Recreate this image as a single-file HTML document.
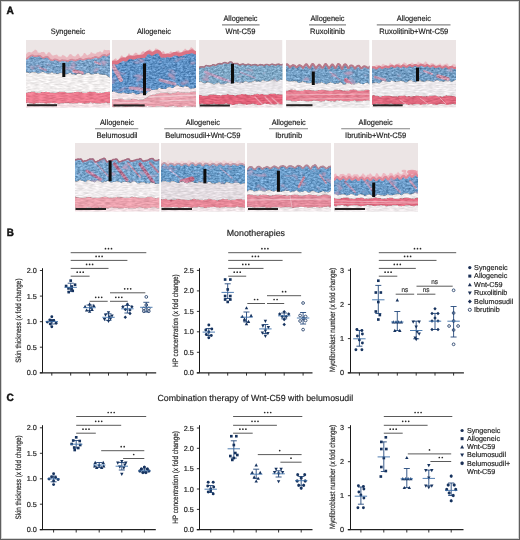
<!DOCTYPE html>
<html><head><meta charset="utf-8"><style>
html,body{margin:0;padding:0;background:#fff;width:520px;height:540px;overflow:hidden}
svg{display:block;will-change:transform}
text{font-family:"Liberation Sans", sans-serif;text-rendering:geometricPrecision;stroke:#2a2a2a;stroke-width:0.18px}
</style></head><body>
<svg width="520" height="540" viewBox="0 0 520 540">
<rect x="0" y="0" width="520" height="540" fill="#fff"/>
<defs><filter id="tx0" x="0" y="0" width="1" height="1" color-interpolation-filters="sRGB">
 <feTurbulence type="fractalNoise" baseFrequency="0.36 0.6" numOctaves="3" seed="1" result="t"/>
 <feColorMatrix in="t" type="matrix" values="1 0 0 0 0  1 0 0 0 0  1 0 0 0 0  0 0 0 0 1" result="g"/>
 <feComposite in="SourceGraphic" in2="g" operator="arithmetic" k1="0" k2="1" k3="0.5" k4="-0.25" result="m"/>
 <feTurbulence type="fractalNoise" baseFrequency="0.09 0.14" numOctaves="2" seed="4" result="t2"/>
 <feColorMatrix in="t2" type="matrix" values="0 0 0 0 0.80  0 0 0 0 0.60  0 0 0 0 0.72  3.2 0 0 0 -1.95" result="p"/>
 <feComposite in="p" in2="m" operator="over" result="m2"/>
 <feComposite in="m2" in2="SourceAlpha" operator="in"/>
</filter>
<filter id="tw0" x="0" y="0" width="1" height="1" color-interpolation-filters="sRGB">
 <feTurbulence type="fractalNoise" baseFrequency="0.18 0.7" numOctaves="2" seed="3" result="t"/>
 <feColorMatrix in="t" type="matrix" values="1 0 0 0 0  1 0 0 0 0  1 0 0 0 0  0 0 0 0 1" result="g"/>
 <feComposite in="SourceGraphic" in2="g" operator="arithmetic" k1="0" k2="1" k3="0.24" k4="-0.12" result="m"/>
 <feComposite in="m" in2="SourceAlpha" operator="in"/>
</filter></defs>
<defs><filter id="tx1" x="0" y="0" width="1" height="1" color-interpolation-filters="sRGB">
 <feTurbulence type="fractalNoise" baseFrequency="0.36 0.6" numOctaves="3" seed="6" result="t"/>
 <feColorMatrix in="t" type="matrix" values="1 0 0 0 0  1 0 0 0 0  1 0 0 0 0  0 0 0 0 1" result="g"/>
 <feComposite in="SourceGraphic" in2="g" operator="arithmetic" k1="0" k2="1" k3="0.5" k4="-0.25" result="m"/>
 <feTurbulence type="fractalNoise" baseFrequency="0.09 0.14" numOctaves="2" seed="11" result="t2"/>
 <feColorMatrix in="t2" type="matrix" values="0 0 0 0 0.80  0 0 0 0 0.60  0 0 0 0 0.72  3.2 0 0 0 -1.95" result="p"/>
 <feComposite in="p" in2="m" operator="over" result="m2"/>
 <feComposite in="m2" in2="SourceAlpha" operator="in"/>
</filter>
<filter id="tw1" x="0" y="0" width="1" height="1" color-interpolation-filters="sRGB">
 <feTurbulence type="fractalNoise" baseFrequency="0.18 0.7" numOctaves="2" seed="8" result="t"/>
 <feColorMatrix in="t" type="matrix" values="1 0 0 0 0  1 0 0 0 0  1 0 0 0 0  0 0 0 0 1" result="g"/>
 <feComposite in="SourceGraphic" in2="g" operator="arithmetic" k1="0" k2="1" k3="0.24" k4="-0.12" result="m"/>
 <feComposite in="m" in2="SourceAlpha" operator="in"/>
</filter></defs>
<defs><filter id="tx2" x="0" y="0" width="1" height="1" color-interpolation-filters="sRGB">
 <feTurbulence type="fractalNoise" baseFrequency="0.36 0.6" numOctaves="3" seed="11" result="t"/>
 <feColorMatrix in="t" type="matrix" values="1 0 0 0 0  1 0 0 0 0  1 0 0 0 0  0 0 0 0 1" result="g"/>
 <feComposite in="SourceGraphic" in2="g" operator="arithmetic" k1="0" k2="1" k3="0.5" k4="-0.25" result="m"/>
 <feTurbulence type="fractalNoise" baseFrequency="0.09 0.14" numOctaves="2" seed="18" result="t2"/>
 <feColorMatrix in="t2" type="matrix" values="0 0 0 0 0.80  0 0 0 0 0.60  0 0 0 0 0.72  3.2 0 0 0 -1.95" result="p"/>
 <feComposite in="p" in2="m" operator="over" result="m2"/>
 <feComposite in="m2" in2="SourceAlpha" operator="in"/>
</filter>
<filter id="tw2" x="0" y="0" width="1" height="1" color-interpolation-filters="sRGB">
 <feTurbulence type="fractalNoise" baseFrequency="0.18 0.7" numOctaves="2" seed="13" result="t"/>
 <feColorMatrix in="t" type="matrix" values="1 0 0 0 0  1 0 0 0 0  1 0 0 0 0  0 0 0 0 1" result="g"/>
 <feComposite in="SourceGraphic" in2="g" operator="arithmetic" k1="0" k2="1" k3="0.24" k4="-0.12" result="m"/>
 <feComposite in="m" in2="SourceAlpha" operator="in"/>
</filter></defs>
<text x="6.6" y="13.7" font-size="10.6" text-anchor="start" font-weight="bold" fill="#111" textLength="7.3" lengthAdjust="spacingAndGlyphs" style="stroke:#111;stroke-width:0.45px">A</text>
<text x="6.7" y="235.9" font-size="10.6" text-anchor="start" font-weight="bold" fill="#111" textLength="7.1" lengthAdjust="spacingAndGlyphs" style="stroke:#111;stroke-width:0.45px">B</text>
<text x="6.6" y="400.5" font-size="10.6" text-anchor="start" font-weight="bold" fill="#111" textLength="7.3" lengthAdjust="spacingAndGlyphs" style="stroke:#111;stroke-width:0.45px">C</text>
<text x="68" y="34.4" font-size="7.9" text-anchor="middle" font-weight="normal" fill="#222" textLength="34.56" lengthAdjust="spacingAndGlyphs" >Syngeneic</text>
<text x="154" y="34.4" font-size="7.9" text-anchor="middle" font-weight="normal" fill="#222" textLength="34.15" lengthAdjust="spacingAndGlyphs" >Allogeneic</text>
<text x="240.5" y="20.6" font-size="7.9" text-anchor="middle" font-weight="normal" fill="#222" textLength="34.15" lengthAdjust="spacingAndGlyphs" >Allogeneic</text><line x1="222" y1="24.9" x2="259.6" y2="24.9" stroke="#858585" stroke-width="1.15"/><text x="240.5" y="34.4" font-size="7.9" text-anchor="middle" font-weight="normal" fill="#222" textLength="29.79" lengthAdjust="spacingAndGlyphs" >Wnt-C59</text>
<text x="327.5" y="20.6" font-size="7.9" text-anchor="middle" font-weight="normal" fill="#222" textLength="34.15" lengthAdjust="spacingAndGlyphs" >Allogeneic</text><line x1="309" y1="24.9" x2="346" y2="24.9" stroke="#858585" stroke-width="1.15"/><text x="327.5" y="34.4" font-size="7.9" text-anchor="middle" font-weight="normal" fill="#222" textLength="34.83" lengthAdjust="spacingAndGlyphs" >Ruxolitinib</text>
<text x="413.8" y="20.6" font-size="7.9" text-anchor="middle" font-weight="normal" fill="#222" textLength="34.15" lengthAdjust="spacingAndGlyphs" >Allogeneic</text><line x1="376.8" y1="24.9" x2="450.5" y2="24.9" stroke="#858585" stroke-width="1.15"/><text x="413.8" y="34.4" font-size="7.9" text-anchor="middle" font-weight="normal" fill="#222" textLength="69.03" lengthAdjust="spacingAndGlyphs" >Ruxolitinib+Wnt-C59</text>
<text x="117" y="124.5" font-size="7.9" text-anchor="middle" font-weight="normal" fill="#222" textLength="34.15" lengthAdjust="spacingAndGlyphs" >Allogeneic</text><line x1="95" y1="128.7" x2="138.3" y2="128.7" stroke="#858585" stroke-width="1.15"/><text x="117" y="138.4" font-size="7.9" text-anchor="middle" font-weight="normal" fill="#222" textLength="41.13" lengthAdjust="spacingAndGlyphs" >Belumosudil</text>
<text x="202.8" y="124.5" font-size="7.9" text-anchor="middle" font-weight="normal" fill="#222" textLength="34.15" lengthAdjust="spacingAndGlyphs" >Allogeneic</text><line x1="164.2" y1="128.7" x2="241.5" y2="128.7" stroke="#858585" stroke-width="1.15"/><text x="202.8" y="138.4" font-size="7.9" text-anchor="middle" font-weight="normal" fill="#222" textLength="75.33" lengthAdjust="spacingAndGlyphs" >Belumosudil+Wnt-C59</text>
<text x="288.7" y="124.5" font-size="7.9" text-anchor="middle" font-weight="normal" fill="#222" textLength="34.15" lengthAdjust="spacingAndGlyphs" >Allogeneic</text><line x1="269" y1="128.7" x2="308" y2="128.7" stroke="#858585" stroke-width="1.15"/><text x="288.7" y="138.4" font-size="7.9" text-anchor="middle" font-weight="normal" fill="#222" textLength="26.86" lengthAdjust="spacingAndGlyphs" >Ibrutinib</text>
<text x="375.6" y="124.5" font-size="7.9" text-anchor="middle" font-weight="normal" fill="#222" textLength="34.15" lengthAdjust="spacingAndGlyphs" >Allogeneic</text><line x1="341.2" y1="128.7" x2="410" y2="128.7" stroke="#858585" stroke-width="1.15"/><text x="375.6" y="138.4" font-size="7.9" text-anchor="middle" font-weight="normal" fill="#222" textLength="61.06" lengthAdjust="spacingAndGlyphs" >Ibrutinib+Wnt-C59</text>
<clipPath id="hc1"><rect x="26" y="40" width="84" height="67.5"/></clipPath>
<g clip-path="url(#hc1)">
<rect x="26" y="40" width="84" height="67.5" fill="#ece5e5"/>
<path d="M25.0,103.2 L26.0,102.8 L27.0,103.1 L28.0,102.5 L29.0,102.9 L30.0,103.2 L31.0,103.6 L32.0,103.4 L33.0,103.7 L34.0,104.0 L35.0,103.4 L36.0,103.1 L37.0,102.8 L38.0,103.3 L39.0,102.8 L40.0,102.7 L41.0,102.9 L42.0,102.7 L43.0,102.9 L44.0,103.1 L45.0,103.3 L46.0,103.9 L47.0,103.4 L48.0,103.2 L49.0,103.6 L50.0,103.2 L51.0,102.6 L52.0,103.0 L53.0,102.9 L54.0,103.0 L55.0,103.2 L56.0,103.1 L57.0,103.1 L58.0,103.7 L59.0,103.7 L60.0,103.8 L61.0,103.3 L62.0,103.2 L63.0,103.3 L64.0,102.9 L65.0,102.9 L66.0,102.8 L67.0,103.0 L68.0,102.8 L69.0,103.1 L70.0,103.6 L71.0,103.3 L72.0,103.3 L73.0,103.7 L74.0,103.2 L75.0,103.6 L76.0,103.0 L77.0,103.3 L78.0,102.9 L79.0,102.5 L80.0,102.9 L81.0,103.1 L82.0,103.1 L83.0,103.4 L84.0,103.4 L85.0,104.0 L86.0,103.3 L87.0,103.7 L88.0,103.0 L89.0,103.2 L90.0,102.6 L91.0,102.6 L92.0,102.9 L93.0,103.2 L94.0,102.8 L95.0,103.1 L96.0,103.3 L97.0,103.6 L98.0,103.5 L99.0,103.5 L100.0,103.8 L101.0,103.4 L102.0,103.0 L103.0,103.2 L104.0,103.2 L105.0,102.7 L106.0,102.5 L107.0,102.8 L108.0,103.5 L109.0,103.1 L110.0,103.3 L111.0,103.8 L111.0,103.3 L111.0,109.5 L111.0,109.5 L110.0,109.5 L109.0,109.5 L108.0,109.5 L107.0,109.5 L106.0,109.5 L105.0,109.5 L104.0,109.5 L103.0,109.5 L102.0,109.5 L101.0,109.5 L100.0,109.5 L99.0,109.5 L98.0,109.5 L97.0,109.5 L96.0,109.5 L95.0,109.5 L94.0,109.5 L93.0,109.5 L92.0,109.5 L91.0,109.5 L90.0,109.5 L89.0,109.5 L88.0,109.5 L87.0,109.5 L86.0,109.5 L85.0,109.5 L84.0,109.5 L83.0,109.5 L82.0,109.5 L81.0,109.5 L80.0,109.5 L79.0,109.5 L78.0,109.5 L77.0,109.5 L76.0,109.5 L75.0,109.5 L74.0,109.5 L73.0,109.5 L72.0,109.5 L71.0,109.5 L70.0,109.5 L69.0,109.5 L68.0,109.5 L67.0,109.5 L66.0,109.5 L65.0,109.5 L64.0,109.5 L63.0,109.5 L62.0,109.5 L61.0,109.5 L60.0,109.5 L59.0,109.5 L58.0,109.5 L57.0,109.5 L56.0,109.5 L55.0,109.5 L54.0,109.5 L53.0,109.5 L52.0,109.5 L51.0,109.5 L50.0,109.5 L49.0,109.5 L48.0,109.5 L47.0,109.5 L46.0,109.5 L45.0,109.5 L44.0,109.5 L43.0,109.5 L42.0,109.5 L41.0,109.5 L40.0,109.5 L39.0,109.5 L38.0,109.5 L37.0,109.5 L36.0,109.5 L35.0,109.5 L34.0,109.5 L33.0,109.5 L32.0,109.5 L31.0,109.5 L30.0,109.5 L29.0,109.5 L28.0,109.5 L27.0,109.5 L26.0,109.5 L25.0,109.5 Z" fill="#f3e0e4" filter="url(#tw1)"/>
<path d="M25.0,93.1 L26.0,93.1 L27.0,92.8 L28.0,92.3 L29.0,92.2 L30.0,92.2 L31.0,92.0 L32.0,91.6 L33.0,92.1 L34.0,91.7 L35.0,92.0 L36.0,92.8 L37.0,92.6 L38.0,92.5 L39.0,93.0 L40.0,92.7 L41.0,92.3 L42.0,92.1 L43.0,92.1 L44.0,92.0 L45.0,92.3 L46.0,91.6 L47.0,92.1 L48.0,92.1 L49.0,91.9 L50.0,92.6 L51.0,92.6 L52.0,92.6 L53.0,92.5 L54.0,92.8 L55.0,93.1 L56.0,92.7 L57.0,92.3 L58.0,92.2 L59.0,92.1 L60.0,91.7 L61.0,91.9 L62.0,91.4 L63.0,92.1 L64.0,91.7 L65.0,91.9 L66.0,92.5 L67.0,92.4 L68.0,93.0 L69.0,92.8 L70.0,92.8 L71.0,93.0 L72.0,92.3 L73.0,92.5 L74.0,92.2 L75.0,91.9 L76.0,92.2 L77.0,91.4 L78.0,92.1 L79.0,91.7 L80.0,92.4 L81.0,92.1 L82.0,92.2 L83.0,92.7 L84.0,93.1 L85.0,92.6 L86.0,92.7 L87.0,92.6 L88.0,92.1 L89.0,92.1 L90.0,91.6 L91.0,91.8 L92.0,92.0 L93.0,91.7 L94.0,91.8 L95.0,91.8 L96.0,92.5 L97.0,92.5 L98.0,93.1 L99.0,93.0 L100.0,92.5 L101.0,93.0 L102.0,92.9 L103.0,92.6 L104.0,92.4 L105.0,92.1 L106.0,92.0 L107.0,91.9 L108.0,91.9 L109.0,91.8 L110.0,91.9 L111.0,92.6 L111.0,92.7 L111.0,103.3 L111.0,103.8 L110.0,103.3 L109.0,103.1 L108.0,103.5 L107.0,102.8 L106.0,102.5 L105.0,102.7 L104.0,103.2 L103.0,103.2 L102.0,103.0 L101.0,103.4 L100.0,103.8 L99.0,103.5 L98.0,103.5 L97.0,103.6 L96.0,103.3 L95.0,103.1 L94.0,102.8 L93.0,103.2 L92.0,102.9 L91.0,102.6 L90.0,102.6 L89.0,103.2 L88.0,103.0 L87.0,103.7 L86.0,103.3 L85.0,104.0 L84.0,103.4 L83.0,103.4 L82.0,103.1 L81.0,103.1 L80.0,102.9 L79.0,102.5 L78.0,102.9 L77.0,103.3 L76.0,103.0 L75.0,103.6 L74.0,103.2 L73.0,103.7 L72.0,103.3 L71.0,103.3 L70.0,103.6 L69.0,103.1 L68.0,102.8 L67.0,103.0 L66.0,102.8 L65.0,102.9 L64.0,102.9 L63.0,103.3 L62.0,103.2 L61.0,103.3 L60.0,103.8 L59.0,103.7 L58.0,103.7 L57.0,103.1 L56.0,103.1 L55.0,103.2 L54.0,103.0 L53.0,102.9 L52.0,103.0 L51.0,102.6 L50.0,103.2 L49.0,103.6 L48.0,103.2 L47.0,103.4 L46.0,103.9 L45.0,103.3 L44.0,103.1 L43.0,102.9 L42.0,102.7 L41.0,102.9 L40.0,102.7 L39.0,102.8 L38.0,103.3 L37.0,102.8 L36.0,103.1 L35.0,103.4 L34.0,104.0 L33.0,103.7 L32.0,103.4 L31.0,103.6 L30.0,103.2 L29.0,102.9 L28.0,102.5 L27.0,103.1 L26.0,102.8 L25.0,103.2 Z" fill="#ec7b8f" filter="url(#tw1)"/>
<path d="M25.0,71.6 L26.0,72.2 L27.0,72.6 L28.0,72.4 L29.0,73.1 L30.0,73.3 L31.0,72.6 L32.0,72.5 L33.0,72.1 L34.0,72.4 L35.0,72.1 L36.0,72.8 L37.0,72.9 L38.0,73.7 L39.0,73.2 L40.0,73.2 L41.0,72.6 L42.0,72.1 L43.0,71.8 L44.0,72.2 L45.0,73.0 L46.0,73.1 L47.0,73.2 L48.0,74.1 L49.0,73.2 L50.0,73.5 L51.0,72.7 L52.0,72.3 L53.0,73.1 L54.0,73.6 L55.0,73.4 L56.0,73.5 L57.0,74.1 L58.0,74.1 L59.0,73.3 L60.0,73.2 L61.0,72.7 L62.0,73.2 L63.0,73.2 L64.0,73.9 L65.0,74.2 L66.0,74.3 L67.0,74.0 L68.0,74.1 L69.0,72.9 L70.0,72.9 L71.0,73.1 L72.0,74.4 L73.0,74.4 L74.0,74.1 L75.0,75.0 L76.0,74.8 L77.0,74.2 L78.0,73.3 L79.0,73.6 L80.0,73.3 L81.0,73.5 L82.0,74.8 L83.0,75.1 L84.0,74.3 L85.0,74.8 L86.0,73.3 L87.0,73.2 L88.0,72.7 L89.0,73.1 L90.0,73.5 L91.0,74.6 L92.0,74.4 L93.0,74.3 L94.0,73.9 L95.0,73.6 L96.0,73.9 L97.0,73.4 L98.0,73.0 L99.0,74.1 L100.0,74.4 L101.0,74.6 L102.0,74.8 L103.0,74.8 L104.0,74.9 L105.0,74.5 L106.0,75.0 L107.0,75.5 L108.0,76.5 L109.0,77.0 L110.0,77.5 L111.0,77.7 L111.0,77.6 L111.0,92.7 L111.0,92.6 L110.0,91.9 L109.0,91.8 L108.0,91.9 L107.0,91.9 L106.0,92.0 L105.0,92.1 L104.0,92.4 L103.0,92.6 L102.0,92.9 L101.0,93.0 L100.0,92.5 L99.0,93.0 L98.0,93.1 L97.0,92.5 L96.0,92.5 L95.0,91.8 L94.0,91.8 L93.0,91.7 L92.0,92.0 L91.0,91.8 L90.0,91.6 L89.0,92.1 L88.0,92.1 L87.0,92.6 L86.0,92.7 L85.0,92.6 L84.0,93.1 L83.0,92.7 L82.0,92.2 L81.0,92.1 L80.0,92.4 L79.0,91.7 L78.0,92.1 L77.0,91.4 L76.0,92.2 L75.0,91.9 L74.0,92.2 L73.0,92.5 L72.0,92.3 L71.0,93.0 L70.0,92.8 L69.0,92.8 L68.0,93.0 L67.0,92.4 L66.0,92.5 L65.0,91.9 L64.0,91.7 L63.0,92.1 L62.0,91.4 L61.0,91.9 L60.0,91.7 L59.0,92.1 L58.0,92.2 L57.0,92.3 L56.0,92.7 L55.0,93.1 L54.0,92.8 L53.0,92.5 L52.0,92.6 L51.0,92.6 L50.0,92.6 L49.0,91.9 L48.0,92.1 L47.0,92.1 L46.0,91.6 L45.0,92.3 L44.0,92.0 L43.0,92.1 L42.0,92.1 L41.0,92.3 L40.0,92.7 L39.0,93.0 L38.0,92.5 L37.0,92.6 L36.0,92.8 L35.0,92.0 L34.0,91.7 L33.0,92.1 L32.0,91.6 L31.0,92.0 L30.0,92.2 L29.0,92.2 L28.0,92.3 L27.0,92.8 L26.0,93.1 L25.0,93.1 Z" fill="#f1eeee" filter="url(#tw1)"/>
<clipPath id="bc1"><path d="M25.0,57.4 L26.0,57.8 L27.0,58.1 L28.0,57.2 L29.0,56.3 L30.0,55.6 L31.0,55.2 L32.0,54.6 L33.0,54.7 L34.0,55.6 L35.0,55.7 L36.0,55.6 L37.0,55.7 L38.0,55.0 L39.0,55.2 L40.0,55.2 L41.0,55.9 L42.0,56.8 L43.0,57.3 L44.0,57.3 L45.0,56.6 L46.0,56.4 L47.0,56.2 L48.0,56.5 L49.0,57.6 L50.0,58.8 L51.0,59.5 L52.0,59.7 L53.0,59.7 L54.0,59.0 L55.0,58.7 L56.0,59.0 L57.0,59.3 L58.0,59.7 L59.0,60.2 L60.0,60.4 L61.0,60.0 L62.0,59.5 L63.0,59.6 L64.0,59.8 L65.0,59.8 L66.0,60.0 L67.0,60.2 L68.0,60.7 L69.0,59.6 L70.0,59.6 L71.0,59.1 L72.0,59.0 L73.0,59.6 L74.0,59.5 L75.0,59.8 L76.0,60.0 L77.0,59.2 L78.0,59.2 L79.0,58.4 L80.0,58.3 L81.0,58.4 L82.0,59.2 L83.0,59.2 L84.0,59.1 L85.0,58.7 L86.0,58.4 L87.0,58.1 L88.0,57.9 L89.0,57.7 L90.0,58.2 L91.0,58.0 L92.0,57.6 L93.0,57.3 L94.0,56.9 L95.0,56.2 L96.0,56.3 L97.0,56.7 L98.0,57.1 L99.0,57.0 L100.0,56.6 L101.0,56.0 L102.0,54.9 L103.0,54.6 L104.0,54.5 L105.0,54.1 L106.0,55.1 L107.0,55.1 L108.0,54.2 L109.0,53.6 L110.0,52.9 L111.0,52.7 L111.0,52.4 L111.0,77.6 L111.0,77.7 L110.0,77.5 L109.0,77.0 L108.0,76.5 L107.0,75.5 L106.0,75.0 L105.0,74.5 L104.0,74.9 L103.0,74.8 L102.0,74.8 L101.0,74.6 L100.0,74.4 L99.0,74.1 L98.0,73.0 L97.0,73.4 L96.0,73.9 L95.0,73.6 L94.0,73.9 L93.0,74.3 L92.0,74.4 L91.0,74.6 L90.0,73.5 L89.0,73.1 L88.0,72.7 L87.0,73.2 L86.0,73.3 L85.0,74.8 L84.0,74.3 L83.0,75.1 L82.0,74.8 L81.0,73.5 L80.0,73.3 L79.0,73.6 L78.0,73.3 L77.0,74.2 L76.0,74.8 L75.0,75.0 L74.0,74.1 L73.0,74.4 L72.0,74.4 L71.0,73.1 L70.0,72.9 L69.0,72.9 L68.0,74.1 L67.0,74.0 L66.0,74.3 L65.0,74.2 L64.0,73.9 L63.0,73.2 L62.0,73.2 L61.0,72.7 L60.0,73.2 L59.0,73.3 L58.0,74.1 L57.0,74.1 L56.0,73.5 L55.0,73.4 L54.0,73.6 L53.0,73.1 L52.0,72.3 L51.0,72.7 L50.0,73.5 L49.0,73.2 L48.0,74.1 L47.0,73.2 L46.0,73.1 L45.0,73.0 L44.0,72.2 L43.0,71.8 L42.0,72.1 L41.0,72.6 L40.0,73.2 L39.0,73.2 L38.0,73.7 L37.0,72.9 L36.0,72.8 L35.0,72.1 L34.0,72.4 L33.0,72.1 L32.0,72.5 L31.0,72.6 L30.0,73.3 L29.0,73.1 L28.0,72.4 L27.0,72.6 L26.0,72.2 L25.0,71.6 Z"/></clipPath>
<g filter="url(#tx1)">
<path d="M25.0,57.4 L26.0,57.8 L27.0,58.1 L28.0,57.2 L29.0,56.3 L30.0,55.6 L31.0,55.2 L32.0,54.6 L33.0,54.7 L34.0,55.6 L35.0,55.7 L36.0,55.6 L37.0,55.7 L38.0,55.0 L39.0,55.2 L40.0,55.2 L41.0,55.9 L42.0,56.8 L43.0,57.3 L44.0,57.3 L45.0,56.6 L46.0,56.4 L47.0,56.2 L48.0,56.5 L49.0,57.6 L50.0,58.8 L51.0,59.5 L52.0,59.7 L53.0,59.7 L54.0,59.0 L55.0,58.7 L56.0,59.0 L57.0,59.3 L58.0,59.7 L59.0,60.2 L60.0,60.4 L61.0,60.0 L62.0,59.5 L63.0,59.6 L64.0,59.8 L65.0,59.8 L66.0,60.0 L67.0,60.2 L68.0,60.7 L69.0,59.6 L70.0,59.6 L71.0,59.1 L72.0,59.0 L73.0,59.6 L74.0,59.5 L75.0,59.8 L76.0,60.0 L77.0,59.2 L78.0,59.2 L79.0,58.4 L80.0,58.3 L81.0,58.4 L82.0,59.2 L83.0,59.2 L84.0,59.1 L85.0,58.7 L86.0,58.4 L87.0,58.1 L88.0,57.9 L89.0,57.7 L90.0,58.2 L91.0,58.0 L92.0,57.6 L93.0,57.3 L94.0,56.9 L95.0,56.2 L96.0,56.3 L97.0,56.7 L98.0,57.1 L99.0,57.0 L100.0,56.6 L101.0,56.0 L102.0,54.9 L103.0,54.6 L104.0,54.5 L105.0,54.1 L106.0,55.1 L107.0,55.1 L108.0,54.2 L109.0,53.6 L110.0,52.9 L111.0,52.7 L111.0,52.4 L111.0,77.6 L111.0,77.7 L110.0,77.5 L109.0,77.0 L108.0,76.5 L107.0,75.5 L106.0,75.0 L105.0,74.5 L104.0,74.9 L103.0,74.8 L102.0,74.8 L101.0,74.6 L100.0,74.4 L99.0,74.1 L98.0,73.0 L97.0,73.4 L96.0,73.9 L95.0,73.6 L94.0,73.9 L93.0,74.3 L92.0,74.4 L91.0,74.6 L90.0,73.5 L89.0,73.1 L88.0,72.7 L87.0,73.2 L86.0,73.3 L85.0,74.8 L84.0,74.3 L83.0,75.1 L82.0,74.8 L81.0,73.5 L80.0,73.3 L79.0,73.6 L78.0,73.3 L77.0,74.2 L76.0,74.8 L75.0,75.0 L74.0,74.1 L73.0,74.4 L72.0,74.4 L71.0,73.1 L70.0,72.9 L69.0,72.9 L68.0,74.1 L67.0,74.0 L66.0,74.3 L65.0,74.2 L64.0,73.9 L63.0,73.2 L62.0,73.2 L61.0,72.7 L60.0,73.2 L59.0,73.3 L58.0,74.1 L57.0,74.1 L56.0,73.5 L55.0,73.4 L54.0,73.6 L53.0,73.1 L52.0,72.3 L51.0,72.7 L50.0,73.5 L49.0,73.2 L48.0,74.1 L47.0,73.2 L46.0,73.1 L45.0,73.0 L44.0,72.2 L43.0,71.8 L42.0,72.1 L41.0,72.6 L40.0,73.2 L39.0,73.2 L38.0,73.7 L37.0,72.9 L36.0,72.8 L35.0,72.1 L34.0,72.4 L33.0,72.1 L32.0,72.5 L31.0,72.6 L30.0,73.3 L29.0,73.1 L28.0,72.4 L27.0,72.6 L26.0,72.2 L25.0,71.6 Z" fill="#7aa2c8" />
<g clip-path="url(#bc1)">
<path d="M74,71 L82,73" stroke="#d98a9c" stroke-width="3.5" stroke-linecap="round" opacity="0.85"/>
<path d="M40,68 L46,70" stroke="#b08aa8" stroke-width="2" stroke-linecap="round" opacity="0.85"/>
<path d="M95,62 L100,64" stroke="#c890a8" stroke-width="2" stroke-linecap="round" opacity="0.85"/>
</g>
</g>
<path d="M25.0,55.1 L26.0,54.5 L27.0,53.0 L28.0,52.2 L29.0,51.9 L30.0,52.1 L31.0,52.5 L32.0,52.3 L33.0,51.3 L34.0,50.7 L35.0,49.6 L36.0,50.0 L37.0,50.5 L38.0,53.0 L39.0,52.2 L40.0,53.3 L41.0,51.9 L42.0,51.9 L43.0,52.1 L44.0,51.7 L45.0,52.9 L46.0,54.8 L47.0,53.9 L48.0,52.2 L49.0,52.2 L50.0,52.4 L51.0,54.1 L52.0,55.1 L53.0,55.7 L54.0,55.3 L55.0,55.1 L56.0,54.8 L57.0,54.5 L58.0,55.7 L59.0,56.8 L60.0,56.3 L61.0,56.9 L62.0,55.6 L63.0,54.7 L64.0,55.8 L65.0,55.7 L66.0,57.1 L67.0,57.6 L68.0,56.6 L69.0,54.9 L70.0,54.1 L71.0,54.2 L72.0,54.8 L73.0,56.2 L74.0,55.9 L75.0,56.7 L76.0,55.6 L77.0,54.6 L78.0,53.6 L79.0,54.5 L80.0,56.6 L81.0,56.8 L82.0,55.9 L83.0,55.0 L84.0,52.9 L85.0,53.1 L86.0,54.2 L87.0,55.2 L88.0,55.2 L89.0,54.3 L90.0,54.1 L91.0,52.0 L92.0,52.5 L93.0,53.6 L94.0,53.3 L95.0,53.9 L96.0,53.5 L97.0,52.2 L98.0,52.3 L99.0,52.0 L100.0,51.2 L101.0,51.7 L102.0,52.7 L103.0,51.7 L104.0,49.5 L105.0,50.1 L106.0,50.1 L107.0,50.2 L108.0,50.0 L109.0,50.1 L110.0,50.4 L111.0,49.0 L111.0,47.8 L111.0,52.4 L111.0,52.7 L110.0,52.9 L109.0,53.6 L108.0,54.2 L107.0,55.1 L106.0,55.1 L105.0,54.1 L104.0,54.5 L103.0,54.6 L102.0,54.9 L101.0,56.0 L100.0,56.6 L99.0,57.0 L98.0,57.1 L97.0,56.7 L96.0,56.3 L95.0,56.2 L94.0,56.9 L93.0,57.3 L92.0,57.6 L91.0,58.0 L90.0,58.2 L89.0,57.7 L88.0,57.9 L87.0,58.1 L86.0,58.4 L85.0,58.7 L84.0,59.1 L83.0,59.2 L82.0,59.2 L81.0,58.4 L80.0,58.3 L79.0,58.4 L78.0,59.2 L77.0,59.2 L76.0,60.0 L75.0,59.8 L74.0,59.5 L73.0,59.6 L72.0,59.0 L71.0,59.1 L70.0,59.6 L69.0,59.6 L68.0,60.7 L67.0,60.2 L66.0,60.0 L65.0,59.8 L64.0,59.8 L63.0,59.6 L62.0,59.5 L61.0,60.0 L60.0,60.4 L59.0,60.2 L58.0,59.7 L57.0,59.3 L56.0,59.0 L55.0,58.7 L54.0,59.0 L53.0,59.7 L52.0,59.7 L51.0,59.5 L50.0,58.8 L49.0,57.6 L48.0,56.5 L47.0,56.2 L46.0,56.4 L45.0,56.6 L44.0,57.3 L43.0,57.3 L42.0,56.8 L41.0,55.9 L40.0,55.2 L39.0,55.2 L38.0,55.0 L37.0,55.7 L36.0,55.6 L35.0,55.7 L34.0,55.6 L33.0,54.7 L32.0,54.6 L31.0,55.2 L30.0,55.6 L29.0,56.3 L28.0,57.2 L27.0,58.1 L26.0,57.8 L25.0,57.4 Z" fill="#eab0b8" opacity="0.85"/>
<path d="M25.0,57.9 L26.0,58.4 L27.0,58.7 L28.0,57.8 L29.0,56.9 L30.0,56.2 L31.0,55.8 L32.0,55.2 L33.0,55.3 L34.0,56.2 L35.0,56.3 L36.0,56.1 L37.0,56.2 L38.0,55.6 L39.0,55.8 L40.0,55.7 L41.0,56.5 L42.0,57.4 L43.0,57.9 L44.0,57.8 L45.0,57.1 L46.0,57.0 L47.0,56.8 L48.0,57.1 L49.0,58.2 L50.0,59.3 L51.0,60.0 L52.0,60.2 L53.0,60.3 L54.0,59.5 L55.0,59.2 L56.0,59.5 L57.0,59.8 L58.0,60.3 L59.0,60.8 L60.0,60.9 L61.0,60.5 L62.0,60.0 L63.0,60.2 L64.0,60.4 L65.0,60.4 L66.0,60.6 L67.0,60.8 L68.0,61.2 L69.0,60.2 L70.0,60.1 L71.0,59.7 L72.0,59.5 L73.0,60.2 L74.0,60.1 L75.0,60.4 L76.0,60.5 L77.0,59.8 L78.0,59.8 L79.0,59.0 L80.0,58.8 L81.0,59.0 L82.0,59.7 L83.0,59.7 L84.0,59.7 L85.0,59.3 L86.0,58.9 L87.0,58.7 L88.0,58.5 L89.0,58.3 L90.0,58.7 L91.0,58.6 L92.0,58.1 L93.0,57.9 L94.0,57.5 L95.0,56.8 L96.0,56.9 L97.0,57.2 L98.0,57.7 L99.0,57.6 L100.0,57.2 L101.0,56.5 L102.0,55.4 L103.0,55.1 L104.0,55.0 L105.0,54.7 L106.0,55.7 L107.0,55.6 L108.0,54.8 L109.0,54.2 L110.0,53.5 L111.0,53.3 L111.0,53.0" fill="none" stroke="#d88a9a" stroke-width="1.6" stroke-linejoin="round" />
<rect x="62.3" y="63" width="3" height="14" fill="#0d0d0d"/>
<rect x="27" y="104.2" width="30" height="2" fill="#262222"/>
</g>
<clipPath id="hc2"><rect x="112" y="40" width="84" height="67.5"/></clipPath>
<g clip-path="url(#hc2)">
<rect x="112" y="40" width="84" height="67.5" fill="#ece5e5"/>
<path d="M111.0,106.8 L112.0,106.6 L113.0,107.1 L114.0,107.2 L115.0,106.9 L116.0,106.6 L117.0,106.3 L118.0,106.5 L119.0,106.4 L120.0,105.9 L121.0,105.8 L122.0,105.9 L123.0,106.6 L124.0,106.8 L125.0,106.7 L126.0,106.9 L127.0,107.1 L128.0,106.6 L129.0,106.8 L130.0,106.5 L131.0,106.7 L132.0,105.9 L133.0,106.4 L134.0,105.8 L135.0,106.3 L136.0,106.7 L137.0,106.2 L138.0,106.7 L139.0,106.4 L140.0,106.9 L141.0,106.9 L142.0,107.1 L143.0,106.6 L144.0,106.7 L145.0,106.4 L146.0,106.4 L147.0,106.0 L148.0,105.9 L149.0,106.5 L150.0,106.2 L151.0,106.8 L152.0,106.6 L153.0,107.0 L154.0,107.1 L155.0,107.1 L156.0,106.3 L157.0,106.1 L158.0,106.2 L159.0,106.5 L160.0,105.9 L161.0,106.2 L162.0,106.2 L163.0,106.2 L164.0,106.7 L165.0,106.7 L166.0,106.9 L167.0,107.1 L168.0,106.9 L169.0,106.4 L170.0,106.5 L171.0,106.2 L172.0,106.3 L173.0,105.7 L174.0,106.0 L175.0,106.5 L176.0,106.6 L177.0,106.7 L178.0,106.9 L179.0,107.0 L180.0,107.1 L181.0,107.0 L182.0,106.8 L183.0,106.7 L184.0,106.3 L185.0,105.9 L186.0,106.0 L187.0,106.5 L188.0,106.6 L189.0,106.6 L190.0,106.4 L191.0,106.6 L192.0,107.0 L193.0,106.8 L194.0,106.5 L195.0,106.9 L196.0,106.2 L197.0,106.6 L197.0,106.2 L197.0,109.5 L197.0,109.5 L196.0,109.5 L195.0,109.5 L194.0,109.5 L193.0,109.5 L192.0,109.5 L191.0,109.5 L190.0,109.5 L189.0,109.5 L188.0,109.5 L187.0,109.5 L186.0,109.5 L185.0,109.5 L184.0,109.5 L183.0,109.5 L182.0,109.5 L181.0,109.5 L180.0,109.5 L179.0,109.5 L178.0,109.5 L177.0,109.5 L176.0,109.5 L175.0,109.5 L174.0,109.5 L173.0,109.5 L172.0,109.5 L171.0,109.5 L170.0,109.5 L169.0,109.5 L168.0,109.5 L167.0,109.5 L166.0,109.5 L165.0,109.5 L164.0,109.5 L163.0,109.5 L162.0,109.5 L161.0,109.5 L160.0,109.5 L159.0,109.5 L158.0,109.5 L157.0,109.5 L156.0,109.5 L155.0,109.5 L154.0,109.5 L153.0,109.5 L152.0,109.5 L151.0,109.5 L150.0,109.5 L149.0,109.5 L148.0,109.5 L147.0,109.5 L146.0,109.5 L145.0,109.5 L144.0,109.5 L143.0,109.5 L142.0,109.5 L141.0,109.5 L140.0,109.5 L139.0,109.5 L138.0,109.5 L137.0,109.5 L136.0,109.5 L135.0,109.5 L134.0,109.5 L133.0,109.5 L132.0,109.5 L131.0,109.5 L130.0,109.5 L129.0,109.5 L128.0,109.5 L127.0,109.5 L126.0,109.5 L125.0,109.5 L124.0,109.5 L123.0,109.5 L122.0,109.5 L121.0,109.5 L120.0,109.5 L119.0,109.5 L118.0,109.5 L117.0,109.5 L116.0,109.5 L115.0,109.5 L114.0,109.5 L113.0,109.5 L112.0,109.5 L111.0,109.5 Z" fill="#f3e4e8" filter="url(#tw2)"/>
<path d="M111.0,99.6 L112.0,99.2 L113.0,99.6 L114.0,99.3 L115.0,99.3 L116.0,99.0 L117.0,99.0 L118.0,98.9 L119.0,98.7 L120.0,98.7 L121.0,98.6 L122.0,98.7 L123.0,98.9 L124.0,99.7 L125.0,99.4 L126.0,99.7 L127.0,99.6 L128.0,99.8 L129.0,99.6 L130.0,99.7 L131.0,99.2 L132.0,99.0 L133.0,99.1 L134.0,99.1 L135.0,99.3 L136.0,99.0 L137.0,99.6 L138.0,99.9 L139.0,100.1 L140.0,99.6 L141.0,99.8 L142.0,100.0 L143.0,99.8 L144.0,98.7 L145.0,98.5 L146.0,98.1 L147.0,97.5 L148.0,96.8 L149.0,96.0 L150.0,95.7 L151.0,95.0 L152.0,94.9 L153.0,94.7 L154.0,94.8 L155.0,94.4 L156.0,94.0 L157.0,93.7 L158.0,93.4 L159.0,93.5 L160.0,93.0 L161.0,92.6 L162.0,92.9 L163.0,92.6 L164.0,92.8 L165.0,92.5 L166.0,92.7 L167.0,92.7 L168.0,93.0 L169.0,93.4 L170.0,93.6 L171.0,93.4 L172.0,93.2 L173.0,92.8 L174.0,93.2 L175.0,92.6 L176.0,92.4 L177.0,91.9 L178.0,91.7 L179.0,91.9 L180.0,92.4 L181.0,92.2 L182.0,92.3 L183.0,92.5 L184.0,92.3 L185.0,92.4 L186.0,92.8 L187.0,92.3 L188.0,92.6 L189.0,92.4 L190.0,92.2 L191.0,91.6 L192.0,91.4 L193.0,91.6 L194.0,91.2 L195.0,91.7 L196.0,91.5 L197.0,91.9 L197.0,92.2 L197.0,106.2 L197.0,106.6 L196.0,106.2 L195.0,106.9 L194.0,106.5 L193.0,106.8 L192.0,107.0 L191.0,106.6 L190.0,106.4 L189.0,106.6 L188.0,106.6 L187.0,106.5 L186.0,106.0 L185.0,105.9 L184.0,106.3 L183.0,106.7 L182.0,106.8 L181.0,107.0 L180.0,107.1 L179.0,107.0 L178.0,106.9 L177.0,106.7 L176.0,106.6 L175.0,106.5 L174.0,106.0 L173.0,105.7 L172.0,106.3 L171.0,106.2 L170.0,106.5 L169.0,106.4 L168.0,106.9 L167.0,107.1 L166.0,106.9 L165.0,106.7 L164.0,106.7 L163.0,106.2 L162.0,106.2 L161.0,106.2 L160.0,105.9 L159.0,106.5 L158.0,106.2 L157.0,106.1 L156.0,106.3 L155.0,107.1 L154.0,107.1 L153.0,107.0 L152.0,106.6 L151.0,106.8 L150.0,106.2 L149.0,106.5 L148.0,105.9 L147.0,106.0 L146.0,106.4 L145.0,106.4 L144.0,106.7 L143.0,106.6 L142.0,107.1 L141.0,106.9 L140.0,106.9 L139.0,106.4 L138.0,106.7 L137.0,106.2 L136.0,106.7 L135.0,106.3 L134.0,105.8 L133.0,106.4 L132.0,105.9 L131.0,106.7 L130.0,106.5 L129.0,106.8 L128.0,106.6 L127.0,107.1 L126.0,106.9 L125.0,106.7 L124.0,106.8 L123.0,106.6 L122.0,105.9 L121.0,105.8 L120.0,105.9 L119.0,106.4 L118.0,106.5 L117.0,106.3 L116.0,106.6 L115.0,106.9 L114.0,107.2 L113.0,107.1 L112.0,106.6 L111.0,106.8 Z" fill="#e8a0ad" filter="url(#tw2)"/>
<path d="M150,97 L196,95" stroke="#f6e6ea" stroke-width="1.5" stroke-linecap="round" opacity="0.55"/>
<path d="M160,101 L196,100" stroke="#f6e6ea" stroke-width="1.2" stroke-linecap="round" opacity="0.55"/>
<path d="M112,103 L150,102" stroke="#f6e6ea" stroke-width="1.2" stroke-linecap="round" opacity="0.55"/>
<path d="M111.0,92.3 L112.0,91.9 L113.0,91.5 L114.0,91.6 L115.0,92.1 L116.0,92.4 L117.0,92.4 L118.0,93.1 L119.0,93.5 L120.0,93.0 L121.0,93.4 L122.0,93.0 L123.0,92.5 L124.0,92.8 L125.0,93.0 L126.0,93.4 L127.0,93.6 L128.0,93.8 L129.0,93.7 L130.0,93.2 L131.0,93.8 L132.0,92.8 L133.0,92.5 L134.0,93.2 L135.0,93.5 L136.0,94.4 L137.0,94.5 L138.0,94.2 L139.0,94.1 L140.0,93.6 L141.0,93.1 L142.0,93.5 L143.0,93.0 L144.0,93.6 L145.0,94.1 L146.0,94.1 L147.0,92.9 L148.0,91.8 L149.0,92.0 L150.0,90.7 L151.0,90.0 L152.0,89.7 L153.0,90.0 L154.0,90.1 L155.0,89.8 L156.0,89.3 L157.0,89.9 L158.0,89.0 L159.0,87.7 L160.0,88.1 L161.0,88.8 L162.0,88.8 L163.0,88.7 L164.0,89.1 L165.0,88.9 L166.0,89.0 L167.0,88.0 L168.0,87.3 L169.0,87.3 L170.0,86.7 L171.0,87.7 L172.0,88.1 L173.0,88.0 L174.0,87.3 L175.0,86.6 L176.0,85.7 L177.0,85.3 L178.0,85.3 L179.0,85.9 L180.0,86.7 L181.0,86.5 L182.0,87.0 L183.0,87.2 L184.0,86.9 L185.0,85.8 L186.0,86.8 L187.0,86.6 L188.0,86.7 L189.0,87.4 L190.0,88.6 L191.0,89.3 L192.0,88.6 L193.0,88.5 L194.0,88.4 L195.0,87.7 L196.0,88.0 L197.0,88.9 L197.0,88.9 L197.0,92.2 L197.0,91.9 L196.0,91.5 L195.0,91.7 L194.0,91.2 L193.0,91.6 L192.0,91.4 L191.0,91.6 L190.0,92.2 L189.0,92.4 L188.0,92.6 L187.0,92.3 L186.0,92.8 L185.0,92.4 L184.0,92.3 L183.0,92.5 L182.0,92.3 L181.0,92.2 L180.0,92.4 L179.0,91.9 L178.0,91.7 L177.0,91.9 L176.0,92.4 L175.0,92.6 L174.0,93.2 L173.0,92.8 L172.0,93.2 L171.0,93.4 L170.0,93.6 L169.0,93.4 L168.0,93.0 L167.0,92.7 L166.0,92.7 L165.0,92.5 L164.0,92.8 L163.0,92.6 L162.0,92.9 L161.0,92.6 L160.0,93.0 L159.0,93.5 L158.0,93.4 L157.0,93.7 L156.0,94.0 L155.0,94.4 L154.0,94.8 L153.0,94.7 L152.0,94.9 L151.0,95.0 L150.0,95.7 L149.0,96.0 L148.0,96.8 L147.0,97.5 L146.0,98.1 L145.0,98.5 L144.0,98.7 L143.0,99.8 L142.0,100.0 L141.0,99.8 L140.0,99.6 L139.0,100.1 L138.0,99.9 L137.0,99.6 L136.0,99.0 L135.0,99.3 L134.0,99.1 L133.0,99.1 L132.0,99.0 L131.0,99.2 L130.0,99.7 L129.0,99.6 L128.0,99.8 L127.0,99.6 L126.0,99.7 L125.0,99.4 L124.0,99.7 L123.0,98.9 L122.0,98.7 L121.0,98.6 L120.0,98.7 L119.0,98.7 L118.0,98.9 L117.0,99.0 L116.0,99.0 L115.0,99.3 L114.0,99.3 L113.0,99.6 L112.0,99.2 L111.0,99.6 Z" fill="#f2e2e6" filter="url(#tw2)"/>
<clipPath id="bc2"><path d="M111.0,61.8 L112.0,61.5 L113.0,61.1 L114.0,61.2 L115.0,61.0 L116.0,61.8 L117.0,61.4 L118.0,61.0 L119.0,60.2 L120.0,59.5 L121.0,58.7 L122.0,58.1 L123.0,58.1 L124.0,58.1 L125.0,58.7 L126.0,58.6 L127.0,57.6 L128.0,56.6 L129.0,56.0 L130.0,55.9 L131.0,56.0 L132.0,56.2 L133.0,56.6 L134.0,56.2 L135.0,56.3 L136.0,55.9 L137.0,55.6 L138.0,55.5 L139.0,55.3 L140.0,55.2 L141.0,55.3 L142.0,55.1 L143.0,55.1 L144.0,55.2 L145.0,53.9 L146.0,52.4 L147.0,51.9 L148.0,51.0 L149.0,51.0 L150.0,51.5 L151.0,52.2 L152.0,52.9 L153.0,52.3 L154.0,51.7 L155.0,51.1 L156.0,50.7 L157.0,50.3 L158.0,50.6 L159.0,50.8 L160.0,51.9 L161.0,53.8 L162.0,54.8 L163.0,54.7 L164.0,54.4 L165.0,54.9 L166.0,54.5 L167.0,54.0 L168.0,54.1 L169.0,54.4 L170.0,54.7 L171.0,54.2 L172.0,53.9 L173.0,53.0 L174.0,52.5 L175.0,52.7 L176.0,52.2 L177.0,52.8 L178.0,52.8 L179.0,53.6 L180.0,53.2 L181.0,53.0 L182.0,53.0 L183.0,52.3 L184.0,51.9 L185.0,51.7 L186.0,51.2 L187.0,51.0 L188.0,51.1 L189.0,51.1 L190.0,50.4 L191.0,50.5 L192.0,49.7 L193.0,50.5 L194.0,51.0 L195.0,51.4 L196.0,51.5 L197.0,52.4 L197.0,52.3 L197.0,88.9 L197.0,88.9 L196.0,88.0 L195.0,87.7 L194.0,88.4 L193.0,88.5 L192.0,88.6 L191.0,89.3 L190.0,88.6 L189.0,87.4 L188.0,86.7 L187.0,86.6 L186.0,86.8 L185.0,85.8 L184.0,86.9 L183.0,87.2 L182.0,87.0 L181.0,86.5 L180.0,86.7 L179.0,85.9 L178.0,85.3 L177.0,85.3 L176.0,85.7 L175.0,86.6 L174.0,87.3 L173.0,88.0 L172.0,88.1 L171.0,87.7 L170.0,86.7 L169.0,87.3 L168.0,87.3 L167.0,88.0 L166.0,89.0 L165.0,88.9 L164.0,89.1 L163.0,88.7 L162.0,88.8 L161.0,88.8 L160.0,88.1 L159.0,87.7 L158.0,89.0 L157.0,89.9 L156.0,89.3 L155.0,89.8 L154.0,90.1 L153.0,90.0 L152.0,89.7 L151.0,90.0 L150.0,90.7 L149.0,92.0 L148.0,91.8 L147.0,92.9 L146.0,94.1 L145.0,94.1 L144.0,93.6 L143.0,93.0 L142.0,93.5 L141.0,93.1 L140.0,93.6 L139.0,94.1 L138.0,94.2 L137.0,94.5 L136.0,94.4 L135.0,93.5 L134.0,93.2 L133.0,92.5 L132.0,92.8 L131.0,93.8 L130.0,93.2 L129.0,93.7 L128.0,93.8 L127.0,93.6 L126.0,93.4 L125.0,93.0 L124.0,92.8 L123.0,92.5 L122.0,93.0 L121.0,93.4 L120.0,93.0 L119.0,93.5 L118.0,93.1 L117.0,92.4 L116.0,92.4 L115.0,92.1 L114.0,91.6 L113.0,91.5 L112.0,91.9 L111.0,92.3 Z"/></clipPath>
<g filter="url(#tx2)">
<path d="M111.0,61.8 L112.0,61.5 L113.0,61.1 L114.0,61.2 L115.0,61.0 L116.0,61.8 L117.0,61.4 L118.0,61.0 L119.0,60.2 L120.0,59.5 L121.0,58.7 L122.0,58.1 L123.0,58.1 L124.0,58.1 L125.0,58.7 L126.0,58.6 L127.0,57.6 L128.0,56.6 L129.0,56.0 L130.0,55.9 L131.0,56.0 L132.0,56.2 L133.0,56.6 L134.0,56.2 L135.0,56.3 L136.0,55.9 L137.0,55.6 L138.0,55.5 L139.0,55.3 L140.0,55.2 L141.0,55.3 L142.0,55.1 L143.0,55.1 L144.0,55.2 L145.0,53.9 L146.0,52.4 L147.0,51.9 L148.0,51.0 L149.0,51.0 L150.0,51.5 L151.0,52.2 L152.0,52.9 L153.0,52.3 L154.0,51.7 L155.0,51.1 L156.0,50.7 L157.0,50.3 L158.0,50.6 L159.0,50.8 L160.0,51.9 L161.0,53.8 L162.0,54.8 L163.0,54.7 L164.0,54.4 L165.0,54.9 L166.0,54.5 L167.0,54.0 L168.0,54.1 L169.0,54.4 L170.0,54.7 L171.0,54.2 L172.0,53.9 L173.0,53.0 L174.0,52.5 L175.0,52.7 L176.0,52.2 L177.0,52.8 L178.0,52.8 L179.0,53.6 L180.0,53.2 L181.0,53.0 L182.0,53.0 L183.0,52.3 L184.0,51.9 L185.0,51.7 L186.0,51.2 L187.0,51.0 L188.0,51.1 L189.0,51.1 L190.0,50.4 L191.0,50.5 L192.0,49.7 L193.0,50.5 L194.0,51.0 L195.0,51.4 L196.0,51.5 L197.0,52.4 L197.0,52.3 L197.0,88.9 L197.0,88.9 L196.0,88.0 L195.0,87.7 L194.0,88.4 L193.0,88.5 L192.0,88.6 L191.0,89.3 L190.0,88.6 L189.0,87.4 L188.0,86.7 L187.0,86.6 L186.0,86.8 L185.0,85.8 L184.0,86.9 L183.0,87.2 L182.0,87.0 L181.0,86.5 L180.0,86.7 L179.0,85.9 L178.0,85.3 L177.0,85.3 L176.0,85.7 L175.0,86.6 L174.0,87.3 L173.0,88.0 L172.0,88.1 L171.0,87.7 L170.0,86.7 L169.0,87.3 L168.0,87.3 L167.0,88.0 L166.0,89.0 L165.0,88.9 L164.0,89.1 L163.0,88.7 L162.0,88.8 L161.0,88.8 L160.0,88.1 L159.0,87.7 L158.0,89.0 L157.0,89.9 L156.0,89.3 L155.0,89.8 L154.0,90.1 L153.0,90.0 L152.0,89.7 L151.0,90.0 L150.0,90.7 L149.0,92.0 L148.0,91.8 L147.0,92.9 L146.0,94.1 L145.0,94.1 L144.0,93.6 L143.0,93.0 L142.0,93.5 L141.0,93.1 L140.0,93.6 L139.0,94.1 L138.0,94.2 L137.0,94.5 L136.0,94.4 L135.0,93.5 L134.0,93.2 L133.0,92.5 L132.0,92.8 L131.0,93.8 L130.0,93.2 L129.0,93.7 L128.0,93.8 L127.0,93.6 L126.0,93.4 L125.0,93.0 L124.0,92.8 L123.0,92.5 L122.0,93.0 L121.0,93.4 L120.0,93.0 L119.0,93.5 L118.0,93.1 L117.0,92.4 L116.0,92.4 L115.0,92.1 L114.0,91.6 L113.0,91.5 L112.0,91.9 L111.0,92.3 Z" fill="#5e91c5" />
<g clip-path="url(#bc2)">
<path d="M112,64 L121,80" stroke="#d898aa" stroke-width="4" stroke-linecap="round" opacity="0.85"/>
<path d="M160,80 L175,84" stroke="#c89ab5" stroke-width="3" stroke-linecap="round" opacity="0.85"/>
<path d="M130,88 L150,90" stroke="#d0a0b8" stroke-width="3" stroke-linecap="round" opacity="0.85"/>
</g>
</g>
<path d="M111.0,62.5 L112.0,61.5 L113.0,60.8 L114.0,59.2 L115.0,58.7 L116.0,58.3 L117.0,60.1 L118.0,60.2 L119.0,59.2 L120.0,57.4 L121.0,56.1 L122.0,55.3 L123.0,56.7 L124.0,57.1 L125.0,57.0 L126.0,57.0 L127.0,56.1 L128.0,54.8 L129.0,53.0 L130.0,54.7 L131.0,55.6 L132.0,55.8 L133.0,55.1 L134.0,54.1 L135.0,52.8 L136.0,52.7 L137.0,53.0 L138.0,54.8 L139.0,55.5 L140.0,55.3 L141.0,53.1 L142.0,51.7 L143.0,51.3 L144.0,51.2 L145.0,52.8 L146.0,51.9 L147.0,51.6 L148.0,50.9 L149.0,49.6 L150.0,49.3 L151.0,50.3 L152.0,51.0 L153.0,51.8 L154.0,50.9 L155.0,49.2 L156.0,48.0 L157.0,49.4 L158.0,48.7 L159.0,50.6 L160.0,52.2 L161.0,52.5 L162.0,52.2 L163.0,50.9 L164.0,51.5 L165.0,53.4 L166.0,53.6 L167.0,54.1 L168.0,53.4 L169.0,53.0 L170.0,51.7 L171.0,51.3 L172.0,52.1 L173.0,53.1 L174.0,52.3 L175.0,53.3 L176.0,51.0 L177.0,50.7 L178.0,50.7 L179.0,50.4 L180.0,52.7 L181.0,52.6 L182.0,52.2 L183.0,50.4 L184.0,50.0 L185.0,48.6 L186.0,49.2 L187.0,50.5 L188.0,51.0 L189.0,49.8 L190.0,48.7 L191.0,46.9 L192.0,47.7 L193.0,48.2 L194.0,49.8 L195.0,50.9 L196.0,50.9 L197.0,49.7 L197.0,49.5 L197.0,52.3 L197.0,52.4 L196.0,51.5 L195.0,51.4 L194.0,51.0 L193.0,50.5 L192.0,49.7 L191.0,50.5 L190.0,50.4 L189.0,51.1 L188.0,51.1 L187.0,51.0 L186.0,51.2 L185.0,51.7 L184.0,51.9 L183.0,52.3 L182.0,53.0 L181.0,53.0 L180.0,53.2 L179.0,53.6 L178.0,52.8 L177.0,52.8 L176.0,52.2 L175.0,52.7 L174.0,52.5 L173.0,53.0 L172.0,53.9 L171.0,54.2 L170.0,54.7 L169.0,54.4 L168.0,54.1 L167.0,54.0 L166.0,54.5 L165.0,54.9 L164.0,54.4 L163.0,54.7 L162.0,54.8 L161.0,53.8 L160.0,51.9 L159.0,50.8 L158.0,50.6 L157.0,50.3 L156.0,50.7 L155.0,51.1 L154.0,51.7 L153.0,52.3 L152.0,52.9 L151.0,52.2 L150.0,51.5 L149.0,51.0 L148.0,51.0 L147.0,51.9 L146.0,52.4 L145.0,53.9 L144.0,55.2 L143.0,55.1 L142.0,55.1 L141.0,55.3 L140.0,55.2 L139.0,55.3 L138.0,55.5 L137.0,55.6 L136.0,55.9 L135.0,56.3 L134.0,56.2 L133.0,56.6 L132.0,56.2 L131.0,56.0 L130.0,55.9 L129.0,56.0 L128.0,56.6 L127.0,57.6 L126.0,58.6 L125.0,58.7 L124.0,58.1 L123.0,58.1 L122.0,58.1 L121.0,58.7 L120.0,59.5 L119.0,60.2 L118.0,61.0 L117.0,61.4 L116.0,61.8 L115.0,61.0 L114.0,61.2 L113.0,61.1 L112.0,61.5 L111.0,61.8 Z" fill="#e9a8b2" opacity="0.85"/>
<path d="M111.0,63.0 L112.0,62.7 L113.0,62.3 L114.0,62.4 L115.0,62.2 L116.0,63.0 L117.0,62.6 L118.0,62.2 L119.0,61.4 L120.0,60.7 L121.0,59.9 L122.0,59.3 L123.0,59.3 L124.0,59.3 L125.0,59.9 L126.0,59.8 L127.0,58.8 L128.0,57.8 L129.0,57.1 L130.0,57.1 L131.0,57.2 L132.0,57.4 L133.0,57.8 L134.0,57.4 L135.0,57.5 L136.0,57.0 L137.0,56.8 L138.0,56.7 L139.0,56.5 L140.0,56.4 L141.0,56.5 L142.0,56.3 L143.0,56.3 L144.0,56.4 L145.0,55.1 L146.0,53.6 L147.0,53.1 L148.0,52.2 L149.0,52.2 L150.0,52.7 L151.0,53.4 L152.0,54.1 L153.0,53.5 L154.0,52.9 L155.0,52.3 L156.0,51.9 L157.0,51.5 L158.0,51.8 L159.0,51.9 L160.0,53.1 L161.0,54.9 L162.0,56.0 L163.0,55.9 L164.0,55.6 L165.0,56.1 L166.0,55.7 L167.0,55.2 L168.0,55.3 L169.0,55.6 L170.0,55.9 L171.0,55.4 L172.0,55.1 L173.0,54.2 L174.0,53.7 L175.0,53.9 L176.0,53.4 L177.0,54.0 L178.0,54.0 L179.0,54.8 L180.0,54.4 L181.0,54.1 L182.0,54.2 L183.0,53.5 L184.0,53.1 L185.0,52.9 L186.0,52.4 L187.0,52.2 L188.0,52.3 L189.0,52.2 L190.0,51.6 L191.0,51.7 L192.0,50.9 L193.0,51.6 L194.0,52.2 L195.0,52.6 L196.0,52.7 L197.0,53.5 L197.0,53.5" fill="none" stroke="#dc7283" stroke-width="3.4" stroke-linejoin="round" />
<rect x="143" y="63.4" width="3" height="31.800000000000004" fill="#0d0d0d"/>
<rect x="113.4" y="104.4" width="31.299999999999983" height="2" fill="#262222"/>
</g>
<clipPath id="hc3"><rect x="199" y="40" width="83.5" height="67.5"/></clipPath>
<g clip-path="url(#hc3)">
<rect x="199" y="40" width="83.5" height="67.5" fill="#ece5e5"/>
<path d="M198.0,104.5 L199.0,104.2 L200.0,104.1 L201.0,103.8 L202.0,103.8 L203.0,103.8 L204.0,104.7 L205.0,104.3 L206.0,104.5 L207.0,104.9 L208.0,104.4 L209.0,104.9 L210.0,104.4 L211.0,103.9 L212.0,104.3 L213.0,104.1 L214.0,103.6 L215.0,104.0 L216.0,104.3 L217.0,104.2 L218.0,104.4 L219.0,104.9 L220.0,104.4 L221.0,104.5 L222.0,104.2 L223.0,104.4 L224.0,104.1 L225.0,103.8 L226.0,103.6 L227.0,103.6 L228.0,104.2 L229.0,104.2 L230.0,104.6 L231.0,104.2 L232.0,105.0 L233.0,104.9 L234.0,104.7 L235.0,104.8 L236.0,104.0 L237.0,104.3 L238.0,103.9 L239.0,103.5 L240.0,104.1 L241.0,103.6 L242.0,104.3 L243.0,104.2 L244.0,104.8 L245.0,104.3 L246.0,104.7 L247.0,105.0 L248.0,104.6 L249.0,104.5 L250.0,104.2 L251.0,104.1 L252.0,103.8 L253.0,103.7 L254.0,103.8 L255.0,104.4 L256.0,104.2 L257.0,104.7 L258.0,105.0 L259.0,105.0 L260.0,104.9 L261.0,104.9 L262.0,104.5 L263.0,104.2 L264.0,103.7 L265.0,103.6 L266.0,103.7 L267.0,104.0 L268.0,104.1 L269.0,103.9 L270.0,104.6 L271.0,104.5 L272.0,104.6 L273.0,104.3 L274.0,104.8 L275.0,104.6 L276.0,104.4 L277.0,103.7 L278.0,103.5 L279.0,104.3 L280.0,104.1 L281.0,104.5 L282.0,104.3 L283.0,104.8 L283.5,104.3 L283.5,109.5 L283.0,109.5 L282.0,109.5 L281.0,109.5 L280.0,109.5 L279.0,109.5 L278.0,109.5 L277.0,109.5 L276.0,109.5 L275.0,109.5 L274.0,109.5 L273.0,109.5 L272.0,109.5 L271.0,109.5 L270.0,109.5 L269.0,109.5 L268.0,109.5 L267.0,109.5 L266.0,109.5 L265.0,109.5 L264.0,109.5 L263.0,109.5 L262.0,109.5 L261.0,109.5 L260.0,109.5 L259.0,109.5 L258.0,109.5 L257.0,109.5 L256.0,109.5 L255.0,109.5 L254.0,109.5 L253.0,109.5 L252.0,109.5 L251.0,109.5 L250.0,109.5 L249.0,109.5 L248.0,109.5 L247.0,109.5 L246.0,109.5 L245.0,109.5 L244.0,109.5 L243.0,109.5 L242.0,109.5 L241.0,109.5 L240.0,109.5 L239.0,109.5 L238.0,109.5 L237.0,109.5 L236.0,109.5 L235.0,109.5 L234.0,109.5 L233.0,109.5 L232.0,109.5 L231.0,109.5 L230.0,109.5 L229.0,109.5 L228.0,109.5 L227.0,109.5 L226.0,109.5 L225.0,109.5 L224.0,109.5 L223.0,109.5 L222.0,109.5 L221.0,109.5 L220.0,109.5 L219.0,109.5 L218.0,109.5 L217.0,109.5 L216.0,109.5 L215.0,109.5 L214.0,109.5 L213.0,109.5 L212.0,109.5 L211.0,109.5 L210.0,109.5 L209.0,109.5 L208.0,109.5 L207.0,109.5 L206.0,109.5 L205.0,109.5 L204.0,109.5 L203.0,109.5 L202.0,109.5 L201.0,109.5 L200.0,109.5 L199.0,109.5 L198.0,109.5 Z" fill="#f1e6e9" filter="url(#tw0)"/>
<path d="M198.0,95.0 L199.0,94.7 L200.0,95.2 L201.0,95.0 L202.0,95.5 L203.0,95.8 L204.0,95.7 L205.0,95.4 L206.0,95.7 L207.0,95.8 L208.0,95.5 L209.0,95.0 L210.0,94.8 L211.0,94.3 L212.0,94.8 L213.0,94.3 L214.0,94.4 L215.0,94.4 L216.0,94.6 L217.0,95.0 L218.0,95.2 L219.0,95.1 L220.0,95.3 L221.0,95.5 L222.0,94.9 L223.0,94.7 L224.0,94.8 L225.0,94.8 L226.0,94.7 L227.0,94.3 L228.0,93.9 L229.0,94.6 L230.0,94.8 L231.0,94.9 L232.0,94.8 L233.0,94.9 L234.0,95.2 L235.0,95.4 L236.0,95.5 L237.0,94.9 L238.0,94.8 L239.0,94.4 L240.0,94.4 L241.0,94.2 L242.0,93.9 L243.0,94.1 L244.0,94.5 L245.0,94.1 L246.0,94.3 L247.0,94.6 L248.0,95.2 L249.0,94.8 L250.0,95.3 L251.0,95.3 L252.0,95.1 L253.0,94.9 L254.0,94.2 L255.0,94.2 L256.0,94.3 L257.0,93.7 L258.0,94.0 L259.0,94.2 L260.0,94.4 L261.0,94.1 L262.0,94.1 L263.0,94.2 L264.0,94.6 L265.0,94.8 L266.0,94.5 L267.0,94.8 L268.0,94.5 L269.0,94.2 L270.0,94.1 L271.0,93.6 L272.0,93.7 L273.0,93.5 L274.0,93.5 L275.0,93.5 L276.0,94.2 L277.0,94.5 L278.0,94.0 L279.0,94.6 L280.0,94.2 L281.0,94.4 L282.0,94.2 L283.0,94.5 L283.5,93.9 L283.5,104.3 L283.0,104.8 L282.0,104.3 L281.0,104.5 L280.0,104.1 L279.0,104.3 L278.0,103.5 L277.0,103.7 L276.0,104.4 L275.0,104.6 L274.0,104.8 L273.0,104.3 L272.0,104.6 L271.0,104.5 L270.0,104.6 L269.0,103.9 L268.0,104.1 L267.0,104.0 L266.0,103.7 L265.0,103.6 L264.0,103.7 L263.0,104.2 L262.0,104.5 L261.0,104.9 L260.0,104.9 L259.0,105.0 L258.0,105.0 L257.0,104.7 L256.0,104.2 L255.0,104.4 L254.0,103.8 L253.0,103.7 L252.0,103.8 L251.0,104.1 L250.0,104.2 L249.0,104.5 L248.0,104.6 L247.0,105.0 L246.0,104.7 L245.0,104.3 L244.0,104.8 L243.0,104.2 L242.0,104.3 L241.0,103.6 L240.0,104.1 L239.0,103.5 L238.0,103.9 L237.0,104.3 L236.0,104.0 L235.0,104.8 L234.0,104.7 L233.0,104.9 L232.0,105.0 L231.0,104.2 L230.0,104.6 L229.0,104.2 L228.0,104.2 L227.0,103.6 L226.0,103.6 L225.0,103.8 L224.0,104.1 L223.0,104.4 L222.0,104.2 L221.0,104.5 L220.0,104.4 L219.0,104.9 L218.0,104.4 L217.0,104.2 L216.0,104.3 L215.0,104.0 L214.0,103.6 L213.0,104.1 L212.0,104.3 L211.0,103.9 L210.0,104.4 L209.0,104.9 L208.0,104.4 L207.0,104.9 L206.0,104.5 L205.0,104.3 L204.0,104.7 L203.0,103.8 L202.0,103.8 L201.0,103.8 L200.0,104.1 L199.0,104.2 L198.0,104.5 Z" fill="#e2637a" filter="url(#tw0)"/>
<path d="M255,97 L262,104" stroke="#f5d5dc" stroke-width="1.2" stroke-linecap="round" opacity="0.55"/>
<path d="M265,97 L272,104" stroke="#f5d5dc" stroke-width="1.2" stroke-linecap="round" opacity="0.55"/>
<path d="M272,98 L279,104" stroke="#f5d5dc" stroke-width="1.2" stroke-linecap="round" opacity="0.55"/>
<path d="M198.0,81.5 L199.0,82.1 L200.0,81.4 L201.0,81.3 L202.0,82.3 L203.0,82.8 L204.0,83.2 L205.0,83.6 L206.0,82.9 L207.0,82.3 L208.0,82.2 L209.0,82.4 L210.0,82.8 L211.0,83.2 L212.0,83.6 L213.0,84.1 L214.0,84.4 L215.0,84.2 L216.0,83.2 L217.0,83.4 L218.0,82.8 L219.0,82.6 L220.0,83.6 L221.0,84.4 L222.0,84.1 L223.0,84.6 L224.0,84.3 L225.0,83.9 L226.0,83.6 L227.0,83.0 L228.0,82.2 L229.0,83.1 L230.0,83.1 L231.0,83.5 L232.0,83.8 L233.0,82.9 L234.0,83.0 L235.0,82.8 L236.0,81.4 L237.0,82.4 L238.0,82.5 L239.0,82.6 L240.0,83.4 L241.0,82.7 L242.0,82.6 L243.0,83.1 L244.0,82.1 L245.0,81.2 L246.0,81.2 L247.0,81.8 L248.0,82.3 L249.0,83.1 L250.0,82.2 L251.0,82.4 L252.0,81.7 L253.0,81.3 L254.0,81.3 L255.0,80.3 L256.0,81.4 L257.0,81.7 L258.0,81.5 L259.0,81.5 L260.0,82.0 L261.0,81.7 L262.0,80.6 L263.0,80.1 L264.0,80.6 L265.0,81.0 L266.0,81.1 L267.0,81.5 L268.0,81.2 L269.0,81.0 L270.0,80.6 L271.0,80.8 L272.0,79.7 L273.0,79.7 L274.0,80.3 L275.0,80.5 L276.0,80.9 L277.0,81.5 L278.0,80.7 L279.0,80.6 L280.0,79.5 L281.0,79.8 L282.0,80.0 L283.0,80.0 L283.5,80.2 L283.5,93.9 L283.0,94.5 L282.0,94.2 L281.0,94.4 L280.0,94.2 L279.0,94.6 L278.0,94.0 L277.0,94.5 L276.0,94.2 L275.0,93.5 L274.0,93.5 L273.0,93.5 L272.0,93.7 L271.0,93.6 L270.0,94.1 L269.0,94.2 L268.0,94.5 L267.0,94.8 L266.0,94.5 L265.0,94.8 L264.0,94.6 L263.0,94.2 L262.0,94.1 L261.0,94.1 L260.0,94.4 L259.0,94.2 L258.0,94.0 L257.0,93.7 L256.0,94.3 L255.0,94.2 L254.0,94.2 L253.0,94.9 L252.0,95.1 L251.0,95.3 L250.0,95.3 L249.0,94.8 L248.0,95.2 L247.0,94.6 L246.0,94.3 L245.0,94.1 L244.0,94.5 L243.0,94.1 L242.0,93.9 L241.0,94.2 L240.0,94.4 L239.0,94.4 L238.0,94.8 L237.0,94.9 L236.0,95.5 L235.0,95.4 L234.0,95.2 L233.0,94.9 L232.0,94.8 L231.0,94.9 L230.0,94.8 L229.0,94.6 L228.0,93.9 L227.0,94.3 L226.0,94.7 L225.0,94.8 L224.0,94.8 L223.0,94.7 L222.0,94.9 L221.0,95.5 L220.0,95.3 L219.0,95.1 L218.0,95.2 L217.0,95.0 L216.0,94.6 L215.0,94.4 L214.0,94.4 L213.0,94.3 L212.0,94.8 L211.0,94.3 L210.0,94.8 L209.0,95.0 L208.0,95.5 L207.0,95.8 L206.0,95.7 L205.0,95.4 L204.0,95.7 L203.0,95.8 L202.0,95.5 L201.0,95.0 L200.0,95.2 L199.0,94.7 L198.0,95.0 Z" fill="#e9e6ea" filter="url(#tw0)"/>
<clipPath id="bc3"><path d="M198.0,67.0 L199.0,66.8 L200.0,66.8 L201.0,66.3 L202.0,66.6 L203.0,66.2 L204.0,66.9 L205.0,65.8 L206.0,64.9 L207.0,65.3 L208.0,65.4 L209.0,65.5 L210.0,65.8 L211.0,65.1 L212.0,64.9 L213.0,64.1 L214.0,64.3 L215.0,65.1 L216.0,64.7 L217.0,64.0 L218.0,63.5 L219.0,63.1 L220.0,63.0 L221.0,63.3 L222.0,63.5 L223.0,62.6 L224.0,62.2 L225.0,62.0 L226.0,62.3 L227.0,62.7 L228.0,62.9 L229.0,62.0 L230.0,61.4 L231.0,61.4 L232.0,61.9 L233.0,63.4 L234.0,63.1 L235.0,63.0 L236.0,63.1 L237.0,62.9 L238.0,63.4 L239.0,64.3 L240.0,64.5 L241.0,64.0 L242.0,63.8 L243.0,63.3 L244.0,64.0 L245.0,64.2 L246.0,64.4 L247.0,64.1 L248.0,63.7 L249.0,63.9 L250.0,64.1 L251.0,64.9 L252.0,64.6 L253.0,64.3 L254.0,64.2 L255.0,64.0 L256.0,64.1 L257.0,64.8 L258.0,65.0 L259.0,64.7 L260.0,64.0 L261.0,64.2 L262.0,64.3 L263.0,64.6 L264.0,65.2 L265.0,64.3 L266.0,63.9 L267.0,63.9 L268.0,64.2 L269.0,64.8 L270.0,64.6 L271.0,64.0 L272.0,63.7 L273.0,63.7 L274.0,64.4 L275.0,64.3 L276.0,64.8 L277.0,63.8 L278.0,63.9 L279.0,63.5 L280.0,64.2 L281.0,64.4 L282.0,64.3 L283.0,63.6 L283.5,63.7 L283.5,80.2 L283.0,80.0 L282.0,80.0 L281.0,79.8 L280.0,79.5 L279.0,80.6 L278.0,80.7 L277.0,81.5 L276.0,80.9 L275.0,80.5 L274.0,80.3 L273.0,79.7 L272.0,79.7 L271.0,80.8 L270.0,80.6 L269.0,81.0 L268.0,81.2 L267.0,81.5 L266.0,81.1 L265.0,81.0 L264.0,80.6 L263.0,80.1 L262.0,80.6 L261.0,81.7 L260.0,82.0 L259.0,81.5 L258.0,81.5 L257.0,81.7 L256.0,81.4 L255.0,80.3 L254.0,81.3 L253.0,81.3 L252.0,81.7 L251.0,82.4 L250.0,82.2 L249.0,83.1 L248.0,82.3 L247.0,81.8 L246.0,81.2 L245.0,81.2 L244.0,82.1 L243.0,83.1 L242.0,82.6 L241.0,82.7 L240.0,83.4 L239.0,82.6 L238.0,82.5 L237.0,82.4 L236.0,81.4 L235.0,82.8 L234.0,83.0 L233.0,82.9 L232.0,83.8 L231.0,83.5 L230.0,83.1 L229.0,83.1 L228.0,82.2 L227.0,83.0 L226.0,83.6 L225.0,83.9 L224.0,84.3 L223.0,84.6 L222.0,84.1 L221.0,84.4 L220.0,83.6 L219.0,82.6 L218.0,82.8 L217.0,83.4 L216.0,83.2 L215.0,84.2 L214.0,84.4 L213.0,84.1 L212.0,83.6 L211.0,83.2 L210.0,82.8 L209.0,82.4 L208.0,82.2 L207.0,82.3 L206.0,82.9 L205.0,83.6 L204.0,83.2 L203.0,82.8 L202.0,82.3 L201.0,81.3 L200.0,81.4 L199.0,82.1 L198.0,81.5 Z"/></clipPath>
<g filter="url(#tx0)">
<path d="M198.0,67.0 L199.0,66.8 L200.0,66.8 L201.0,66.3 L202.0,66.6 L203.0,66.2 L204.0,66.9 L205.0,65.8 L206.0,64.9 L207.0,65.3 L208.0,65.4 L209.0,65.5 L210.0,65.8 L211.0,65.1 L212.0,64.9 L213.0,64.1 L214.0,64.3 L215.0,65.1 L216.0,64.7 L217.0,64.0 L218.0,63.5 L219.0,63.1 L220.0,63.0 L221.0,63.3 L222.0,63.5 L223.0,62.6 L224.0,62.2 L225.0,62.0 L226.0,62.3 L227.0,62.7 L228.0,62.9 L229.0,62.0 L230.0,61.4 L231.0,61.4 L232.0,61.9 L233.0,63.4 L234.0,63.1 L235.0,63.0 L236.0,63.1 L237.0,62.9 L238.0,63.4 L239.0,64.3 L240.0,64.5 L241.0,64.0 L242.0,63.8 L243.0,63.3 L244.0,64.0 L245.0,64.2 L246.0,64.4 L247.0,64.1 L248.0,63.7 L249.0,63.9 L250.0,64.1 L251.0,64.9 L252.0,64.6 L253.0,64.3 L254.0,64.2 L255.0,64.0 L256.0,64.1 L257.0,64.8 L258.0,65.0 L259.0,64.7 L260.0,64.0 L261.0,64.2 L262.0,64.3 L263.0,64.6 L264.0,65.2 L265.0,64.3 L266.0,63.9 L267.0,63.9 L268.0,64.2 L269.0,64.8 L270.0,64.6 L271.0,64.0 L272.0,63.7 L273.0,63.7 L274.0,64.4 L275.0,64.3 L276.0,64.8 L277.0,63.8 L278.0,63.9 L279.0,63.5 L280.0,64.2 L281.0,64.4 L282.0,64.3 L283.0,63.6 L283.5,63.7 L283.5,80.2 L283.0,80.0 L282.0,80.0 L281.0,79.8 L280.0,79.5 L279.0,80.6 L278.0,80.7 L277.0,81.5 L276.0,80.9 L275.0,80.5 L274.0,80.3 L273.0,79.7 L272.0,79.7 L271.0,80.8 L270.0,80.6 L269.0,81.0 L268.0,81.2 L267.0,81.5 L266.0,81.1 L265.0,81.0 L264.0,80.6 L263.0,80.1 L262.0,80.6 L261.0,81.7 L260.0,82.0 L259.0,81.5 L258.0,81.5 L257.0,81.7 L256.0,81.4 L255.0,80.3 L254.0,81.3 L253.0,81.3 L252.0,81.7 L251.0,82.4 L250.0,82.2 L249.0,83.1 L248.0,82.3 L247.0,81.8 L246.0,81.2 L245.0,81.2 L244.0,82.1 L243.0,83.1 L242.0,82.6 L241.0,82.7 L240.0,83.4 L239.0,82.6 L238.0,82.5 L237.0,82.4 L236.0,81.4 L235.0,82.8 L234.0,83.0 L233.0,82.9 L232.0,83.8 L231.0,83.5 L230.0,83.1 L229.0,83.1 L228.0,82.2 L227.0,83.0 L226.0,83.6 L225.0,83.9 L224.0,84.3 L223.0,84.6 L222.0,84.1 L221.0,84.4 L220.0,83.6 L219.0,82.6 L218.0,82.8 L217.0,83.4 L216.0,83.2 L215.0,84.2 L214.0,84.4 L213.0,84.1 L212.0,83.6 L211.0,83.2 L210.0,82.8 L209.0,82.4 L208.0,82.2 L207.0,82.3 L206.0,82.9 L205.0,83.6 L204.0,83.2 L203.0,82.8 L202.0,82.3 L201.0,81.3 L200.0,81.4 L199.0,82.1 L198.0,81.5 Z" fill="#7fa8c6" />
<g clip-path="url(#bc3)">
<path d="M205,72 L225,80" stroke="#b898b8" stroke-width="2.5" stroke-linecap="round" opacity="0.85"/>
<path d="M215,76 L232,82" stroke="#c0a0c0" stroke-width="2" stroke-linecap="round" opacity="0.85"/>
<path d="M240,72 L255,78" stroke="#b0a0c0" stroke-width="1.5" stroke-linecap="round" opacity="0.85"/>
</g>
</g>
<path d="M198.0,67.5 L199.0,67.3 L200.0,67.3 L201.0,66.7 L202.0,67.1 L203.0,66.7 L204.0,67.4 L205.0,66.3 L206.0,65.4 L207.0,65.7 L208.0,65.9 L209.0,66.0 L210.0,66.3 L211.0,65.6 L212.0,65.4 L213.0,64.6 L214.0,64.8 L215.0,65.6 L216.0,65.2 L217.0,64.5 L218.0,64.0 L219.0,63.6 L220.0,63.5 L221.0,63.8 L222.0,64.0 L223.0,63.1 L224.0,62.7 L225.0,62.5 L226.0,62.8 L227.0,63.2 L228.0,63.4 L229.0,62.5 L230.0,61.9 L231.0,61.9 L232.0,62.4 L233.0,63.9 L234.0,63.6 L235.0,63.5 L236.0,63.6 L237.0,63.3 L238.0,63.9 L239.0,64.7 L240.0,65.0 L241.0,64.5 L242.0,64.3 L243.0,63.8 L244.0,64.5 L245.0,64.7 L246.0,64.9 L247.0,64.6 L248.0,64.2 L249.0,64.3 L250.0,64.6 L251.0,65.4 L252.0,65.1 L253.0,64.8 L254.0,64.7 L255.0,64.5 L256.0,64.6 L257.0,65.3 L258.0,65.5 L259.0,65.2 L260.0,64.5 L261.0,64.7 L262.0,64.7 L263.0,65.1 L264.0,65.7 L265.0,64.8 L266.0,64.4 L267.0,64.4 L268.0,64.7 L269.0,65.3 L270.0,65.1 L271.0,64.5 L272.0,64.2 L273.0,64.2 L274.0,64.9 L275.0,64.8 L276.0,65.3 L277.0,64.3 L278.0,64.4 L279.0,64.0 L280.0,64.7 L281.0,64.9 L282.0,64.8 L283.0,64.1 L283.5,64.2" fill="none" stroke="#a87282" stroke-width="1.4" stroke-linejoin="round" />
<rect x="231" y="63.7" width="3" height="19.700000000000003" fill="#0d0d0d"/>
<rect x="199.7" y="104.5" width="30.200000000000017" height="2" fill="#262222"/>
</g>
<clipPath id="hc4"><rect x="286" y="40" width="83.5" height="67.5"/></clipPath>
<g clip-path="url(#hc4)">
<rect x="286" y="40" width="83.5" height="67.5" fill="#ece5e5"/>
<path d="M285.0,101.1 L286.0,100.6 L287.0,100.3 L288.0,100.4 L289.0,100.6 L290.0,100.3 L291.0,100.7 L292.0,101.4 L293.0,101.2 L294.0,101.0 L295.0,101.6 L296.0,101.2 L297.0,101.0 L298.0,101.1 L299.0,101.0 L300.0,100.5 L301.0,100.8 L302.0,100.9 L303.0,100.6 L304.0,100.9 L305.0,100.7 L306.0,101.3 L307.0,101.2 L308.0,101.5 L309.0,101.6 L310.0,101.1 L311.0,101.2 L312.0,101.2 L313.0,100.4 L314.0,100.8 L315.0,100.6 L316.0,101.1 L317.0,100.5 L318.0,101.0 L319.0,101.0 L320.0,101.2 L321.0,101.7 L322.0,101.4 L323.0,101.1 L324.0,101.4 L325.0,100.5 L326.0,100.3 L327.0,100.8 L328.0,100.7 L329.0,101.0 L330.0,100.9 L331.0,101.4 L332.0,101.1 L333.0,101.1 L334.0,101.7 L335.0,101.4 L336.0,100.8 L337.0,100.6 L338.0,100.5 L339.0,100.9 L340.0,100.7 L341.0,100.3 L342.0,100.9 L343.0,101.1 L344.0,101.2 L345.0,101.3 L346.0,101.3 L347.0,101.6 L348.0,101.3 L349.0,101.6 L350.0,101.1 L351.0,101.0 L352.0,101.0 L353.0,101.0 L354.0,100.6 L355.0,100.4 L356.0,100.9 L357.0,101.4 L358.0,101.0 L359.0,101.2 L360.0,101.2 L361.0,101.1 L362.0,101.5 L363.0,101.1 L364.0,100.5 L365.0,100.7 L366.0,100.8 L367.0,100.2 L368.0,100.5 L369.0,100.5 L370.0,101.2 L370.5,101.2 L370.5,109.5 L370.0,109.5 L369.0,109.5 L368.0,109.5 L367.0,109.5 L366.0,109.5 L365.0,109.5 L364.0,109.5 L363.0,109.5 L362.0,109.5 L361.0,109.5 L360.0,109.5 L359.0,109.5 L358.0,109.5 L357.0,109.5 L356.0,109.5 L355.0,109.5 L354.0,109.5 L353.0,109.5 L352.0,109.5 L351.0,109.5 L350.0,109.5 L349.0,109.5 L348.0,109.5 L347.0,109.5 L346.0,109.5 L345.0,109.5 L344.0,109.5 L343.0,109.5 L342.0,109.5 L341.0,109.5 L340.0,109.5 L339.0,109.5 L338.0,109.5 L337.0,109.5 L336.0,109.5 L335.0,109.5 L334.0,109.5 L333.0,109.5 L332.0,109.5 L331.0,109.5 L330.0,109.5 L329.0,109.5 L328.0,109.5 L327.0,109.5 L326.0,109.5 L325.0,109.5 L324.0,109.5 L323.0,109.5 L322.0,109.5 L321.0,109.5 L320.0,109.5 L319.0,109.5 L318.0,109.5 L317.0,109.5 L316.0,109.5 L315.0,109.5 L314.0,109.5 L313.0,109.5 L312.0,109.5 L311.0,109.5 L310.0,109.5 L309.0,109.5 L308.0,109.5 L307.0,109.5 L306.0,109.5 L305.0,109.5 L304.0,109.5 L303.0,109.5 L302.0,109.5 L301.0,109.5 L300.0,109.5 L299.0,109.5 L298.0,109.5 L297.0,109.5 L296.0,109.5 L295.0,109.5 L294.0,109.5 L293.0,109.5 L292.0,109.5 L291.0,109.5 L290.0,109.5 L289.0,109.5 L288.0,109.5 L287.0,109.5 L286.0,109.5 L285.0,109.5 Z" fill="#edeaeb" filter="url(#tw1)"/>
<path d="M285.0,90.7 L286.0,90.6 L287.0,90.9 L288.0,90.2 L289.0,90.2 L290.0,90.0 L291.0,89.5 L292.0,89.5 L293.0,90.0 L294.0,90.0 L295.0,89.7 L296.0,89.9 L297.0,90.7 L298.0,90.6 L299.0,90.8 L300.0,91.0 L301.0,90.5 L302.0,90.6 L303.0,90.7 L304.0,89.9 L305.0,89.8 L306.0,90.1 L307.0,90.0 L308.0,89.7 L309.0,89.5 L310.0,90.2 L311.0,90.0 L312.0,90.5 L313.0,90.3 L314.0,90.4 L315.0,90.9 L316.0,90.6 L317.0,90.5 L318.0,90.3 L319.0,90.1 L320.0,90.0 L321.0,89.9 L322.0,89.4 L323.0,89.8 L324.0,89.8 L325.0,90.2 L326.0,90.0 L327.0,90.5 L328.0,90.3 L329.0,90.8 L330.0,90.8 L331.0,90.7 L332.0,90.5 L333.0,90.7 L334.0,90.1 L335.0,89.6 L336.0,89.7 L337.0,89.4 L338.0,90.0 L339.0,90.0 L340.0,89.7 L341.0,90.2 L342.0,90.1 L343.0,90.8 L344.0,90.6 L345.0,90.3 L346.0,90.8 L347.0,90.2 L348.0,90.7 L349.0,90.5 L350.0,90.1 L351.0,89.6 L352.0,89.9 L353.0,89.3 L354.0,89.5 L355.0,89.8 L356.0,89.8 L357.0,90.6 L358.0,90.6 L359.0,90.9 L360.0,90.8 L361.0,90.4 L362.0,90.4 L363.0,90.5 L364.0,90.4 L365.0,90.1 L366.0,89.7 L367.0,90.0 L368.0,89.6 L369.0,89.9 L370.0,90.2 L370.5,90.3 L370.5,101.2 L370.0,101.2 L369.0,100.5 L368.0,100.5 L367.0,100.2 L366.0,100.8 L365.0,100.7 L364.0,100.5 L363.0,101.1 L362.0,101.5 L361.0,101.1 L360.0,101.2 L359.0,101.2 L358.0,101.0 L357.0,101.4 L356.0,100.9 L355.0,100.4 L354.0,100.6 L353.0,101.0 L352.0,101.0 L351.0,101.0 L350.0,101.1 L349.0,101.6 L348.0,101.3 L347.0,101.6 L346.0,101.3 L345.0,101.3 L344.0,101.2 L343.0,101.1 L342.0,100.9 L341.0,100.3 L340.0,100.7 L339.0,100.9 L338.0,100.5 L337.0,100.6 L336.0,100.8 L335.0,101.4 L334.0,101.7 L333.0,101.1 L332.0,101.1 L331.0,101.4 L330.0,100.9 L329.0,101.0 L328.0,100.7 L327.0,100.8 L326.0,100.3 L325.0,100.5 L324.0,101.4 L323.0,101.1 L322.0,101.4 L321.0,101.7 L320.0,101.2 L319.0,101.0 L318.0,101.0 L317.0,100.5 L316.0,101.1 L315.0,100.6 L314.0,100.8 L313.0,100.4 L312.0,101.2 L311.0,101.2 L310.0,101.1 L309.0,101.6 L308.0,101.5 L307.0,101.2 L306.0,101.3 L305.0,100.7 L304.0,100.9 L303.0,100.6 L302.0,100.9 L301.0,100.8 L300.0,100.5 L299.0,101.0 L298.0,101.1 L297.0,101.0 L296.0,101.2 L295.0,101.6 L294.0,101.0 L293.0,101.2 L292.0,101.4 L291.0,100.7 L290.0,100.3 L289.0,100.6 L288.0,100.4 L287.0,100.3 L286.0,100.6 L285.0,101.1 Z" fill="#e57d90" filter="url(#tw1)"/>
<path d="M286,95 L369,94" stroke="#f6e0e5" stroke-width="1.0" stroke-linecap="round" opacity="0.55"/>
<path d="M300,99 L369,98" stroke="#f6e0e5" stroke-width="0.8" stroke-linecap="round" opacity="0.55"/>
<path d="M285.0,81.0 L286.0,80.8 L287.0,80.3 L288.0,81.2 L289.0,81.3 L290.0,81.8 L291.0,81.3 L292.0,81.3 L293.0,81.6 L294.0,80.5 L295.0,81.2 L296.0,81.1 L297.0,81.6 L298.0,82.8 L299.0,83.1 L300.0,82.6 L301.0,82.5 L302.0,81.4 L303.0,81.3 L304.0,82.2 L305.0,82.1 L306.0,82.6 L307.0,83.4 L308.0,82.8 L309.0,83.4 L310.0,83.0 L311.0,83.0 L312.0,81.9 L313.0,82.9 L314.0,82.2 L315.0,82.8 L316.0,83.7 L317.0,84.1 L318.0,83.4 L319.0,82.9 L320.0,83.4 L321.0,82.3 L322.0,82.6 L323.0,82.9 L324.0,83.2 L325.0,83.8 L326.0,83.9 L327.0,84.3 L328.0,83.0 L329.0,83.2 L330.0,82.3 L331.0,82.4 L332.0,83.1 L333.0,83.1 L334.0,83.5 L335.0,84.3 L336.0,83.4 L337.0,83.4 L338.0,83.6 L339.0,83.3 L340.0,82.1 L341.0,82.6 L342.0,83.1 L343.0,84.4 L344.0,84.5 L345.0,84.4 L346.0,83.4 L347.0,82.7 L348.0,83.2 L349.0,83.0 L350.0,83.2 L351.0,84.1 L352.0,84.2 L353.0,83.6 L354.0,84.5 L355.0,83.5 L356.0,83.4 L357.0,83.4 L358.0,82.4 L359.0,82.7 L360.0,83.2 L361.0,84.1 L362.0,84.0 L363.0,84.3 L364.0,84.0 L365.0,82.9 L366.0,83.1 L367.0,82.6 L368.0,83.2 L369.0,84.1 L370.0,84.5 L370.5,83.8 L370.5,90.3 L370.0,90.2 L369.0,89.9 L368.0,89.6 L367.0,90.0 L366.0,89.7 L365.0,90.1 L364.0,90.4 L363.0,90.5 L362.0,90.4 L361.0,90.4 L360.0,90.8 L359.0,90.9 L358.0,90.6 L357.0,90.6 L356.0,89.8 L355.0,89.8 L354.0,89.5 L353.0,89.3 L352.0,89.9 L351.0,89.6 L350.0,90.1 L349.0,90.5 L348.0,90.7 L347.0,90.2 L346.0,90.8 L345.0,90.3 L344.0,90.6 L343.0,90.8 L342.0,90.1 L341.0,90.2 L340.0,89.7 L339.0,90.0 L338.0,90.0 L337.0,89.4 L336.0,89.7 L335.0,89.6 L334.0,90.1 L333.0,90.7 L332.0,90.5 L331.0,90.7 L330.0,90.8 L329.0,90.8 L328.0,90.3 L327.0,90.5 L326.0,90.0 L325.0,90.2 L324.0,89.8 L323.0,89.8 L322.0,89.4 L321.0,89.9 L320.0,90.0 L319.0,90.1 L318.0,90.3 L317.0,90.5 L316.0,90.6 L315.0,90.9 L314.0,90.4 L313.0,90.3 L312.0,90.5 L311.0,90.0 L310.0,90.2 L309.0,89.5 L308.0,89.7 L307.0,90.0 L306.0,90.1 L305.0,89.8 L304.0,89.9 L303.0,90.7 L302.0,90.6 L301.0,90.5 L300.0,91.0 L299.0,90.8 L298.0,90.6 L297.0,90.7 L296.0,89.9 L295.0,89.7 L294.0,90.0 L293.0,90.0 L292.0,89.5 L291.0,89.5 L290.0,90.0 L289.0,90.2 L288.0,90.2 L287.0,90.9 L286.0,90.6 L285.0,90.7 Z" fill="#f0ecee" filter="url(#tw1)"/>
<clipPath id="bc4"><path d="M285.0,64.7 L286.0,64.1 L287.0,63.5 L288.0,64.1 L289.0,65.4 L290.0,66.8 L291.0,65.4 L292.0,65.1 L293.0,64.3 L294.0,64.9 L295.0,65.0 L296.0,66.5 L297.0,66.5 L298.0,65.4 L299.0,64.6 L300.0,64.6 L301.0,65.1 L302.0,66.1 L303.0,67.4 L304.0,66.0 L305.0,64.6 L306.0,63.6 L307.0,63.8 L308.0,65.5 L309.0,66.9 L310.0,67.0 L311.0,65.2 L312.0,63.6 L313.0,63.2 L314.0,64.4 L315.0,66.2 L316.0,67.5 L317.0,66.1 L318.0,64.9 L319.0,63.9 L320.0,64.5 L321.0,65.6 L322.0,67.1 L323.0,67.0 L324.0,65.2 L325.0,63.5 L326.0,63.3 L327.0,64.7 L328.0,66.1 L329.0,67.8 L330.0,66.3 L331.0,64.9 L332.0,63.7 L333.0,64.1 L334.0,65.4 L335.0,67.4 L336.0,67.0 L337.0,65.1 L338.0,63.3 L339.0,63.6 L340.0,64.3 L341.0,66.7 L342.0,68.3 L343.0,66.3 L344.0,64.2 L345.0,63.6 L346.0,64.0 L347.0,65.4 L348.0,67.3 L349.0,67.0 L350.0,65.3 L351.0,64.8 L352.0,64.9 L353.0,65.5 L354.0,66.6 L355.0,67.9 L356.0,66.6 L357.0,65.6 L358.0,65.1 L359.0,65.0 L360.0,66.3 L361.0,67.5 L362.0,67.2 L363.0,66.2 L364.0,65.6 L365.0,65.7 L366.0,66.1 L367.0,66.8 L368.0,67.2 L369.0,66.8 L370.0,65.8 L370.5,65.4 L370.5,83.8 L370.0,84.5 L369.0,84.1 L368.0,83.2 L367.0,82.6 L366.0,83.1 L365.0,82.9 L364.0,84.0 L363.0,84.3 L362.0,84.0 L361.0,84.1 L360.0,83.2 L359.0,82.7 L358.0,82.4 L357.0,83.4 L356.0,83.4 L355.0,83.5 L354.0,84.5 L353.0,83.6 L352.0,84.2 L351.0,84.1 L350.0,83.2 L349.0,83.0 L348.0,83.2 L347.0,82.7 L346.0,83.4 L345.0,84.4 L344.0,84.5 L343.0,84.4 L342.0,83.1 L341.0,82.6 L340.0,82.1 L339.0,83.3 L338.0,83.6 L337.0,83.4 L336.0,83.4 L335.0,84.3 L334.0,83.5 L333.0,83.1 L332.0,83.1 L331.0,82.4 L330.0,82.3 L329.0,83.2 L328.0,83.0 L327.0,84.3 L326.0,83.9 L325.0,83.8 L324.0,83.2 L323.0,82.9 L322.0,82.6 L321.0,82.3 L320.0,83.4 L319.0,82.9 L318.0,83.4 L317.0,84.1 L316.0,83.7 L315.0,82.8 L314.0,82.2 L313.0,82.9 L312.0,81.9 L311.0,83.0 L310.0,83.0 L309.0,83.4 L308.0,82.8 L307.0,83.4 L306.0,82.6 L305.0,82.1 L304.0,82.2 L303.0,81.3 L302.0,81.4 L301.0,82.5 L300.0,82.6 L299.0,83.1 L298.0,82.8 L297.0,81.6 L296.0,81.1 L295.0,81.2 L294.0,80.5 L293.0,81.6 L292.0,81.3 L291.0,81.3 L290.0,81.8 L289.0,81.3 L288.0,81.2 L287.0,80.3 L286.0,80.8 L285.0,81.0 Z"/></clipPath>
<g filter="url(#tx1)">
<path d="M285.0,64.7 L286.0,64.1 L287.0,63.5 L288.0,64.1 L289.0,65.4 L290.0,66.8 L291.0,65.4 L292.0,65.1 L293.0,64.3 L294.0,64.9 L295.0,65.0 L296.0,66.5 L297.0,66.5 L298.0,65.4 L299.0,64.6 L300.0,64.6 L301.0,65.1 L302.0,66.1 L303.0,67.4 L304.0,66.0 L305.0,64.6 L306.0,63.6 L307.0,63.8 L308.0,65.5 L309.0,66.9 L310.0,67.0 L311.0,65.2 L312.0,63.6 L313.0,63.2 L314.0,64.4 L315.0,66.2 L316.0,67.5 L317.0,66.1 L318.0,64.9 L319.0,63.9 L320.0,64.5 L321.0,65.6 L322.0,67.1 L323.0,67.0 L324.0,65.2 L325.0,63.5 L326.0,63.3 L327.0,64.7 L328.0,66.1 L329.0,67.8 L330.0,66.3 L331.0,64.9 L332.0,63.7 L333.0,64.1 L334.0,65.4 L335.0,67.4 L336.0,67.0 L337.0,65.1 L338.0,63.3 L339.0,63.6 L340.0,64.3 L341.0,66.7 L342.0,68.3 L343.0,66.3 L344.0,64.2 L345.0,63.6 L346.0,64.0 L347.0,65.4 L348.0,67.3 L349.0,67.0 L350.0,65.3 L351.0,64.8 L352.0,64.9 L353.0,65.5 L354.0,66.6 L355.0,67.9 L356.0,66.6 L357.0,65.6 L358.0,65.1 L359.0,65.0 L360.0,66.3 L361.0,67.5 L362.0,67.2 L363.0,66.2 L364.0,65.6 L365.0,65.7 L366.0,66.1 L367.0,66.8 L368.0,67.2 L369.0,66.8 L370.0,65.8 L370.5,65.4 L370.5,83.8 L370.0,84.5 L369.0,84.1 L368.0,83.2 L367.0,82.6 L366.0,83.1 L365.0,82.9 L364.0,84.0 L363.0,84.3 L362.0,84.0 L361.0,84.1 L360.0,83.2 L359.0,82.7 L358.0,82.4 L357.0,83.4 L356.0,83.4 L355.0,83.5 L354.0,84.5 L353.0,83.6 L352.0,84.2 L351.0,84.1 L350.0,83.2 L349.0,83.0 L348.0,83.2 L347.0,82.7 L346.0,83.4 L345.0,84.4 L344.0,84.5 L343.0,84.4 L342.0,83.1 L341.0,82.6 L340.0,82.1 L339.0,83.3 L338.0,83.6 L337.0,83.4 L336.0,83.4 L335.0,84.3 L334.0,83.5 L333.0,83.1 L332.0,83.1 L331.0,82.4 L330.0,82.3 L329.0,83.2 L328.0,83.0 L327.0,84.3 L326.0,83.9 L325.0,83.8 L324.0,83.2 L323.0,82.9 L322.0,82.6 L321.0,82.3 L320.0,83.4 L319.0,82.9 L318.0,83.4 L317.0,84.1 L316.0,83.7 L315.0,82.8 L314.0,82.2 L313.0,82.9 L312.0,81.9 L311.0,83.0 L310.0,83.0 L309.0,83.4 L308.0,82.8 L307.0,83.4 L306.0,82.6 L305.0,82.1 L304.0,82.2 L303.0,81.3 L302.0,81.4 L301.0,82.5 L300.0,82.6 L299.0,83.1 L298.0,82.8 L297.0,81.6 L296.0,81.1 L295.0,81.2 L294.0,80.5 L293.0,81.6 L292.0,81.3 L291.0,81.3 L290.0,81.8 L289.0,81.3 L288.0,81.2 L287.0,80.3 L286.0,80.8 L285.0,81.0 Z" fill="#74a0c6" />
<g clip-path="url(#bc4)">
<path d="M346,80 L352,86" stroke="#d87088" stroke-width="4" stroke-linecap="round" opacity="0.85"/>
<path d="M330,72 L340,80" stroke="#b8a0c0" stroke-width="1.5" stroke-linecap="round" opacity="0.85"/>
</g>
</g>
<path d="M285.0,65.4 L286.0,64.8 L287.0,64.2 L288.0,64.8 L289.0,66.1 L290.0,67.5 L291.0,66.1 L292.0,65.8 L293.0,65.0 L294.0,65.6 L295.0,65.7 L296.0,67.2 L297.0,67.2 L298.0,66.1 L299.0,65.3 L300.0,65.3 L301.0,65.8 L302.0,66.8 L303.0,68.1 L304.0,66.7 L305.0,65.3 L306.0,64.3 L307.0,64.5 L308.0,66.2 L309.0,67.6 L310.0,67.7 L311.0,65.9 L312.0,64.3 L313.0,63.9 L314.0,65.1 L315.0,66.9 L316.0,68.2 L317.0,66.8 L318.0,65.6 L319.0,64.6 L320.0,65.2 L321.0,66.3 L322.0,67.8 L323.0,67.7 L324.0,65.9 L325.0,64.2 L326.0,64.0 L327.0,65.4 L328.0,66.8 L329.0,68.5 L330.0,67.0 L331.0,65.6 L332.0,64.4 L333.0,64.8 L334.0,66.1 L335.0,68.1 L336.0,67.7 L337.0,65.8 L338.0,64.0 L339.0,64.3 L340.0,65.0 L341.0,67.4 L342.0,69.0 L343.0,67.0 L344.0,64.9 L345.0,64.3 L346.0,64.7 L347.0,66.1 L348.0,68.0 L349.0,67.7 L350.0,66.0 L351.0,65.5 L352.0,65.6 L353.0,66.2 L354.0,67.3 L355.0,68.6 L356.0,67.3 L357.0,66.3 L358.0,65.8 L359.0,65.7 L360.0,67.0 L361.0,68.2 L362.0,67.9 L363.0,66.9 L364.0,66.3 L365.0,66.4 L366.0,66.8 L367.0,67.5 L368.0,67.9 L369.0,67.5 L370.0,66.5 L370.5,66.1" fill="none" stroke="#b87888" stroke-width="2.0" stroke-linejoin="round" />
<rect x="311.8" y="71.5" width="3" height="13.5" fill="#0d0d0d"/>
<rect x="286.2" y="104.2" width="26.30000000000001" height="2" fill="#262222"/>
</g>
<clipPath id="hc5"><rect x="372" y="40" width="84" height="67.5"/></clipPath>
<g clip-path="url(#hc5)">
<rect x="372" y="40" width="84" height="67.5" fill="#ece5e5"/>
<path d="M371.0,104.4 L372.0,105.0 L373.0,104.6 L374.0,104.3 L375.0,104.2 L376.0,104.0 L377.0,103.6 L378.0,104.3 L379.0,103.7 L380.0,104.1 L381.0,104.0 L382.0,104.2 L383.0,104.4 L384.0,104.4 L385.0,105.0 L386.0,104.5 L387.0,104.4 L388.0,104.4 L389.0,104.0 L390.0,103.7 L391.0,103.7 L392.0,103.7 L393.0,104.2 L394.0,104.7 L395.0,104.9 L396.0,104.8 L397.0,104.5 L398.0,104.9 L399.0,104.6 L400.0,104.3 L401.0,104.4 L402.0,103.9 L403.0,104.2 L404.0,103.9 L405.0,104.1 L406.0,104.0 L407.0,104.2 L408.0,104.8 L409.0,105.0 L410.0,104.4 L411.0,104.4 L412.0,104.7 L413.0,104.7 L414.0,104.2 L415.0,104.3 L416.0,104.0 L417.0,104.3 L418.0,104.1 L419.0,104.2 L420.0,104.7 L421.0,105.0 L422.0,104.4 L423.0,104.4 L424.0,104.5 L425.0,104.2 L426.0,104.0 L427.0,104.1 L428.0,104.3 L429.0,104.2 L430.0,103.8 L431.0,103.9 L432.0,104.1 L433.0,104.7 L434.0,104.4 L435.0,104.4 L436.0,105.0 L437.0,104.9 L438.0,104.5 L439.0,104.2 L440.0,103.8 L441.0,103.9 L442.0,103.8 L443.0,104.2 L444.0,103.8 L445.0,104.5 L446.0,104.8 L447.0,104.9 L448.0,104.9 L449.0,104.4 L450.0,104.8 L451.0,104.4 L452.0,103.9 L453.0,103.8 L454.0,104.0 L455.0,104.2 L456.0,103.9 L457.0,103.8 L457.0,103.9 L457.0,109.5 L457.0,109.5 L456.0,109.5 L455.0,109.5 L454.0,109.5 L453.0,109.5 L452.0,109.5 L451.0,109.5 L450.0,109.5 L449.0,109.5 L448.0,109.5 L447.0,109.5 L446.0,109.5 L445.0,109.5 L444.0,109.5 L443.0,109.5 L442.0,109.5 L441.0,109.5 L440.0,109.5 L439.0,109.5 L438.0,109.5 L437.0,109.5 L436.0,109.5 L435.0,109.5 L434.0,109.5 L433.0,109.5 L432.0,109.5 L431.0,109.5 L430.0,109.5 L429.0,109.5 L428.0,109.5 L427.0,109.5 L426.0,109.5 L425.0,109.5 L424.0,109.5 L423.0,109.5 L422.0,109.5 L421.0,109.5 L420.0,109.5 L419.0,109.5 L418.0,109.5 L417.0,109.5 L416.0,109.5 L415.0,109.5 L414.0,109.5 L413.0,109.5 L412.0,109.5 L411.0,109.5 L410.0,109.5 L409.0,109.5 L408.0,109.5 L407.0,109.5 L406.0,109.5 L405.0,109.5 L404.0,109.5 L403.0,109.5 L402.0,109.5 L401.0,109.5 L400.0,109.5 L399.0,109.5 L398.0,109.5 L397.0,109.5 L396.0,109.5 L395.0,109.5 L394.0,109.5 L393.0,109.5 L392.0,109.5 L391.0,109.5 L390.0,109.5 L389.0,109.5 L388.0,109.5 L387.0,109.5 L386.0,109.5 L385.0,109.5 L384.0,109.5 L383.0,109.5 L382.0,109.5 L381.0,109.5 L380.0,109.5 L379.0,109.5 L378.0,109.5 L377.0,109.5 L376.0,109.5 L375.0,109.5 L374.0,109.5 L373.0,109.5 L372.0,109.5 L371.0,109.5 Z" fill="#f0e8ea" filter="url(#tw2)"/>
<path d="M371.0,95.8 L372.0,95.4 L373.0,95.2 L374.0,95.1 L375.0,95.4 L376.0,96.0 L377.0,95.7 L378.0,96.1 L379.0,96.2 L380.0,96.7 L381.0,96.8 L382.0,96.1 L383.0,96.0 L384.0,95.9 L385.0,95.6 L386.0,95.7 L387.0,95.9 L388.0,95.4 L389.0,95.7 L390.0,95.7 L391.0,96.2 L392.0,95.9 L393.0,96.4 L394.0,96.1 L395.0,96.4 L396.0,96.1 L397.0,96.4 L398.0,96.4 L399.0,95.8 L400.0,95.9 L401.0,95.8 L402.0,95.4 L403.0,95.8 L404.0,95.2 L405.0,95.5 L406.0,96.2 L407.0,96.4 L408.0,96.2 L409.0,96.1 L410.0,96.3 L411.0,96.4 L412.0,96.3 L413.0,96.2 L414.0,96.0 L415.0,96.2 L416.0,95.3 L417.0,95.8 L418.0,95.4 L419.0,95.9 L420.0,96.0 L421.0,96.1 L422.0,96.0 L423.0,96.5 L424.0,96.1 L425.0,96.4 L426.0,96.2 L427.0,96.1 L428.0,96.6 L429.0,96.0 L430.0,95.6 L431.0,96.0 L432.0,95.8 L433.0,95.6 L434.0,95.4 L435.0,95.3 L436.0,95.5 L437.0,96.1 L438.0,96.6 L439.0,96.5 L440.0,96.3 L441.0,96.2 L442.0,96.7 L443.0,96.5 L444.0,96.1 L445.0,95.9 L446.0,95.3 L447.0,95.3 L448.0,95.9 L449.0,95.2 L450.0,95.9 L451.0,95.6 L452.0,96.2 L453.0,95.9 L454.0,96.1 L455.0,96.6 L456.0,96.8 L457.0,96.4 L457.0,96.6 L457.0,103.9 L457.0,103.8 L456.0,103.9 L455.0,104.2 L454.0,104.0 L453.0,103.8 L452.0,103.9 L451.0,104.4 L450.0,104.8 L449.0,104.4 L448.0,104.9 L447.0,104.9 L446.0,104.8 L445.0,104.5 L444.0,103.8 L443.0,104.2 L442.0,103.8 L441.0,103.9 L440.0,103.8 L439.0,104.2 L438.0,104.5 L437.0,104.9 L436.0,105.0 L435.0,104.4 L434.0,104.4 L433.0,104.7 L432.0,104.1 L431.0,103.9 L430.0,103.8 L429.0,104.2 L428.0,104.3 L427.0,104.1 L426.0,104.0 L425.0,104.2 L424.0,104.5 L423.0,104.4 L422.0,104.4 L421.0,105.0 L420.0,104.7 L419.0,104.2 L418.0,104.1 L417.0,104.3 L416.0,104.0 L415.0,104.3 L414.0,104.2 L413.0,104.7 L412.0,104.7 L411.0,104.4 L410.0,104.4 L409.0,105.0 L408.0,104.8 L407.0,104.2 L406.0,104.0 L405.0,104.1 L404.0,103.9 L403.0,104.2 L402.0,103.9 L401.0,104.4 L400.0,104.3 L399.0,104.6 L398.0,104.9 L397.0,104.5 L396.0,104.8 L395.0,104.9 L394.0,104.7 L393.0,104.2 L392.0,103.7 L391.0,103.7 L390.0,103.7 L389.0,104.0 L388.0,104.4 L387.0,104.4 L386.0,104.5 L385.0,105.0 L384.0,104.4 L383.0,104.4 L382.0,104.2 L381.0,104.0 L380.0,104.1 L379.0,103.7 L378.0,104.3 L377.0,103.6 L376.0,104.0 L375.0,104.2 L374.0,104.3 L373.0,104.6 L372.0,105.0 L371.0,104.4 Z" fill="#e0687e" filter="url(#tw2)"/>
<path d="M400,100 L406,104" stroke="#f5d5dc" stroke-width="1.0" stroke-linecap="round" opacity="0.55"/>
<path d="M420,98 L428,104" stroke="#f5d5dc" stroke-width="1.0" stroke-linecap="round" opacity="0.55"/>
<path d="M440,98 L446,104" stroke="#f5d5dc" stroke-width="1.0" stroke-linecap="round" opacity="0.55"/>
<path d="M371.0,84.5 L372.0,83.9 L373.0,82.7 L374.0,83.2 L375.0,82.5 L376.0,82.5 L377.0,82.7 L378.0,82.9 L379.0,83.3 L380.0,83.0 L381.0,81.9 L382.0,81.3 L383.0,80.8 L384.0,80.4 L385.0,81.6 L386.0,81.5 L387.0,81.5 L388.0,81.9 L389.0,81.8 L390.0,81.9 L391.0,80.7 L392.0,80.4 L393.0,81.3 L394.0,80.9 L395.0,82.1 L396.0,81.4 L397.0,81.6 L398.0,81.6 L399.0,81.3 L400.0,81.0 L401.0,80.5 L402.0,81.2 L403.0,81.5 L404.0,81.5 L405.0,82.4 L406.0,82.4 L407.0,82.3 L408.0,81.4 L409.0,80.4 L410.0,80.6 L411.0,80.0 L412.0,80.7 L413.0,81.9 L414.0,81.5 L415.0,82.0 L416.0,82.2 L417.0,81.5 L418.0,80.6 L419.0,80.5 L420.0,80.0 L421.0,81.1 L422.0,81.4 L423.0,81.4 L424.0,81.7 L425.0,82.0 L426.0,80.7 L427.0,80.4 L428.0,80.6 L429.0,80.8 L430.0,80.8 L431.0,81.4 L432.0,81.1 L433.0,81.9 L434.0,81.7 L435.0,80.7 L436.0,80.8 L437.0,80.1 L438.0,80.3 L439.0,81.1 L440.0,81.6 L441.0,81.1 L442.0,81.3 L443.0,81.8 L444.0,81.7 L445.0,80.9 L446.0,80.2 L447.0,80.7 L448.0,81.3 L449.0,80.7 L450.0,81.1 L451.0,81.7 L452.0,81.9 L453.0,81.2 L454.0,80.7 L455.0,80.0 L456.0,80.0 L457.0,80.2 L457.0,81.2 L457.0,96.6 L457.0,96.4 L456.0,96.8 L455.0,96.6 L454.0,96.1 L453.0,95.9 L452.0,96.2 L451.0,95.6 L450.0,95.9 L449.0,95.2 L448.0,95.9 L447.0,95.3 L446.0,95.3 L445.0,95.9 L444.0,96.1 L443.0,96.5 L442.0,96.7 L441.0,96.2 L440.0,96.3 L439.0,96.5 L438.0,96.6 L437.0,96.1 L436.0,95.5 L435.0,95.3 L434.0,95.4 L433.0,95.6 L432.0,95.8 L431.0,96.0 L430.0,95.6 L429.0,96.0 L428.0,96.6 L427.0,96.1 L426.0,96.2 L425.0,96.4 L424.0,96.1 L423.0,96.5 L422.0,96.0 L421.0,96.1 L420.0,96.0 L419.0,95.9 L418.0,95.4 L417.0,95.8 L416.0,95.3 L415.0,96.2 L414.0,96.0 L413.0,96.2 L412.0,96.3 L411.0,96.4 L410.0,96.3 L409.0,96.1 L408.0,96.2 L407.0,96.4 L406.0,96.2 L405.0,95.5 L404.0,95.2 L403.0,95.8 L402.0,95.4 L401.0,95.8 L400.0,95.9 L399.0,95.8 L398.0,96.4 L397.0,96.4 L396.0,96.1 L395.0,96.4 L394.0,96.1 L393.0,96.4 L392.0,95.9 L391.0,96.2 L390.0,95.7 L389.0,95.7 L388.0,95.4 L387.0,95.9 L386.0,95.7 L385.0,95.6 L384.0,95.9 L383.0,96.0 L382.0,96.1 L381.0,96.8 L380.0,96.7 L379.0,96.2 L378.0,96.1 L377.0,95.7 L376.0,96.0 L375.0,95.4 L374.0,95.1 L373.0,95.2 L372.0,95.4 L371.0,95.8 Z" fill="#ece9ec" filter="url(#tw2)"/>
<clipPath id="bc5"><path d="M371.0,67.3 L372.0,66.6 L373.0,66.7 L374.0,66.4 L375.0,66.9 L376.0,67.7 L377.0,67.7 L378.0,66.6 L379.0,65.9 L380.0,66.0 L381.0,66.8 L382.0,67.4 L383.0,66.7 L384.0,66.5 L385.0,65.8 L386.0,65.7 L387.0,66.2 L388.0,66.4 L389.0,66.5 L390.0,65.7 L391.0,65.3 L392.0,64.9 L393.0,65.6 L394.0,66.0 L395.0,66.1 L396.0,65.1 L397.0,64.9 L398.0,64.9 L399.0,65.5 L400.0,65.9 L401.0,66.3 L402.0,65.3 L403.0,64.5 L404.0,64.9 L405.0,65.7 L406.0,66.0 L407.0,66.1 L408.0,65.3 L409.0,64.6 L410.0,64.2 L411.0,65.0 L412.0,65.6 L413.0,65.2 L414.0,64.7 L415.0,64.2 L416.0,64.3 L417.0,65.0 L418.0,65.5 L419.0,65.0 L420.0,64.6 L421.0,63.9 L422.0,64.3 L423.0,64.5 L424.0,65.1 L425.0,65.5 L426.0,64.9 L427.0,64.1 L428.0,64.7 L429.0,65.5 L430.0,66.0 L431.0,65.9 L432.0,65.0 L433.0,64.7 L434.0,65.3 L435.0,66.2 L436.0,66.3 L437.0,66.1 L438.0,65.7 L439.0,65.6 L440.0,65.3 L441.0,66.4 L442.0,66.9 L443.0,66.8 L444.0,66.3 L445.0,65.6 L446.0,65.5 L447.0,66.4 L448.0,67.0 L449.0,67.2 L450.0,66.4 L451.0,66.2 L452.0,65.9 L453.0,66.8 L454.0,67.4 L455.0,67.3 L456.0,67.0 L457.0,66.6 L457.0,66.2 L457.0,81.2 L457.0,80.2 L456.0,80.0 L455.0,80.0 L454.0,80.7 L453.0,81.2 L452.0,81.9 L451.0,81.7 L450.0,81.1 L449.0,80.7 L448.0,81.3 L447.0,80.7 L446.0,80.2 L445.0,80.9 L444.0,81.7 L443.0,81.8 L442.0,81.3 L441.0,81.1 L440.0,81.6 L439.0,81.1 L438.0,80.3 L437.0,80.1 L436.0,80.8 L435.0,80.7 L434.0,81.7 L433.0,81.9 L432.0,81.1 L431.0,81.4 L430.0,80.8 L429.0,80.8 L428.0,80.6 L427.0,80.4 L426.0,80.7 L425.0,82.0 L424.0,81.7 L423.0,81.4 L422.0,81.4 L421.0,81.1 L420.0,80.0 L419.0,80.5 L418.0,80.6 L417.0,81.5 L416.0,82.2 L415.0,82.0 L414.0,81.5 L413.0,81.9 L412.0,80.7 L411.0,80.0 L410.0,80.6 L409.0,80.4 L408.0,81.4 L407.0,82.3 L406.0,82.4 L405.0,82.4 L404.0,81.5 L403.0,81.5 L402.0,81.2 L401.0,80.5 L400.0,81.0 L399.0,81.3 L398.0,81.6 L397.0,81.6 L396.0,81.4 L395.0,82.1 L394.0,80.9 L393.0,81.3 L392.0,80.4 L391.0,80.7 L390.0,81.9 L389.0,81.8 L388.0,81.9 L387.0,81.5 L386.0,81.5 L385.0,81.6 L384.0,80.4 L383.0,80.8 L382.0,81.3 L381.0,81.9 L380.0,83.0 L379.0,83.3 L378.0,82.9 L377.0,82.7 L376.0,82.5 L375.0,82.5 L374.0,83.2 L373.0,82.7 L372.0,83.9 L371.0,84.5 Z"/></clipPath>
<g filter="url(#tx2)">
<path d="M371.0,67.3 L372.0,66.6 L373.0,66.7 L374.0,66.4 L375.0,66.9 L376.0,67.7 L377.0,67.7 L378.0,66.6 L379.0,65.9 L380.0,66.0 L381.0,66.8 L382.0,67.4 L383.0,66.7 L384.0,66.5 L385.0,65.8 L386.0,65.7 L387.0,66.2 L388.0,66.4 L389.0,66.5 L390.0,65.7 L391.0,65.3 L392.0,64.9 L393.0,65.6 L394.0,66.0 L395.0,66.1 L396.0,65.1 L397.0,64.9 L398.0,64.9 L399.0,65.5 L400.0,65.9 L401.0,66.3 L402.0,65.3 L403.0,64.5 L404.0,64.9 L405.0,65.7 L406.0,66.0 L407.0,66.1 L408.0,65.3 L409.0,64.6 L410.0,64.2 L411.0,65.0 L412.0,65.6 L413.0,65.2 L414.0,64.7 L415.0,64.2 L416.0,64.3 L417.0,65.0 L418.0,65.5 L419.0,65.0 L420.0,64.6 L421.0,63.9 L422.0,64.3 L423.0,64.5 L424.0,65.1 L425.0,65.5 L426.0,64.9 L427.0,64.1 L428.0,64.7 L429.0,65.5 L430.0,66.0 L431.0,65.9 L432.0,65.0 L433.0,64.7 L434.0,65.3 L435.0,66.2 L436.0,66.3 L437.0,66.1 L438.0,65.7 L439.0,65.6 L440.0,65.3 L441.0,66.4 L442.0,66.9 L443.0,66.8 L444.0,66.3 L445.0,65.6 L446.0,65.5 L447.0,66.4 L448.0,67.0 L449.0,67.2 L450.0,66.4 L451.0,66.2 L452.0,65.9 L453.0,66.8 L454.0,67.4 L455.0,67.3 L456.0,67.0 L457.0,66.6 L457.0,66.2 L457.0,81.2 L457.0,80.2 L456.0,80.0 L455.0,80.0 L454.0,80.7 L453.0,81.2 L452.0,81.9 L451.0,81.7 L450.0,81.1 L449.0,80.7 L448.0,81.3 L447.0,80.7 L446.0,80.2 L445.0,80.9 L444.0,81.7 L443.0,81.8 L442.0,81.3 L441.0,81.1 L440.0,81.6 L439.0,81.1 L438.0,80.3 L437.0,80.1 L436.0,80.8 L435.0,80.7 L434.0,81.7 L433.0,81.9 L432.0,81.1 L431.0,81.4 L430.0,80.8 L429.0,80.8 L428.0,80.6 L427.0,80.4 L426.0,80.7 L425.0,82.0 L424.0,81.7 L423.0,81.4 L422.0,81.4 L421.0,81.1 L420.0,80.0 L419.0,80.5 L418.0,80.6 L417.0,81.5 L416.0,82.2 L415.0,82.0 L414.0,81.5 L413.0,81.9 L412.0,80.7 L411.0,80.0 L410.0,80.6 L409.0,80.4 L408.0,81.4 L407.0,82.3 L406.0,82.4 L405.0,82.4 L404.0,81.5 L403.0,81.5 L402.0,81.2 L401.0,80.5 L400.0,81.0 L399.0,81.3 L398.0,81.6 L397.0,81.6 L396.0,81.4 L395.0,82.1 L394.0,80.9 L393.0,81.3 L392.0,80.4 L391.0,80.7 L390.0,81.9 L389.0,81.8 L388.0,81.9 L387.0,81.5 L386.0,81.5 L385.0,81.6 L384.0,80.4 L383.0,80.8 L382.0,81.3 L381.0,81.9 L380.0,83.0 L379.0,83.3 L378.0,82.9 L377.0,82.7 L376.0,82.5 L375.0,82.5 L374.0,83.2 L373.0,82.7 L372.0,83.9 L371.0,84.5 Z" fill="#729dc3" />
<g clip-path="url(#bc5)">
<path d="M438,76 L448,79" stroke="#d88a9c" stroke-width="3.5" stroke-linecap="round" opacity="0.85"/>
<path d="M424,71 L432,74" stroke="#c890a8" stroke-width="2" stroke-linecap="round" opacity="0.85"/>
<path d="M375,77 L385,80" stroke="#c898b0" stroke-width="2.5" stroke-linecap="round" opacity="0.85"/>
</g>
</g>
<path d="M371.0,65.1 L372.0,66.9 L373.0,67.3 L374.0,66.3 L375.0,66.3 L376.0,65.0 L377.0,64.7 L378.0,65.1 L379.0,65.5 L380.0,67.2 L381.0,66.1 L382.0,64.4 L383.0,63.8 L384.0,64.3 L385.0,65.1 L386.0,65.2 L387.0,65.4 L388.0,65.6 L389.0,65.1 L390.0,62.6 L391.0,63.5 L392.0,64.3 L393.0,64.9 L394.0,66.0 L395.0,65.0 L396.0,63.7 L397.0,63.9 L398.0,63.4 L399.0,62.9 L400.0,63.7 L401.0,65.5 L402.0,65.1 L403.0,63.5 L404.0,62.1 L405.0,63.1 L406.0,62.9 L407.0,64.5 L408.0,64.9 L409.0,64.6 L410.0,64.3 L411.0,63.1 L412.0,62.5 L413.0,62.9 L414.0,64.3 L415.0,64.7 L416.0,63.5 L417.0,63.7 L418.0,61.3 L419.0,62.4 L420.0,62.5 L421.0,62.9 L422.0,63.8 L423.0,63.6 L424.0,63.2 L425.0,61.5 L426.0,61.6 L427.0,62.4 L428.0,64.5 L429.0,64.9 L430.0,64.6 L431.0,63.0 L432.0,63.2 L433.0,63.3 L434.0,63.8 L435.0,64.7 L436.0,64.5 L437.0,66.1 L438.0,64.3 L439.0,64.2 L440.0,63.1 L441.0,64.2 L442.0,65.4 L443.0,64.7 L444.0,64.6 L445.0,63.9 L446.0,63.7 L447.0,63.2 L448.0,64.0 L449.0,66.1 L450.0,66.1 L451.0,66.3 L452.0,65.3 L453.0,63.6 L454.0,64.6 L455.0,64.0 L456.0,66.3 L457.0,67.1 L457.0,66.0 L457.0,66.2 L457.0,66.6 L456.0,67.0 L455.0,67.3 L454.0,67.4 L453.0,66.8 L452.0,65.9 L451.0,66.2 L450.0,66.4 L449.0,67.2 L448.0,67.0 L447.0,66.4 L446.0,65.5 L445.0,65.6 L444.0,66.3 L443.0,66.8 L442.0,66.9 L441.0,66.4 L440.0,65.3 L439.0,65.6 L438.0,65.7 L437.0,66.1 L436.0,66.3 L435.0,66.2 L434.0,65.3 L433.0,64.7 L432.0,65.0 L431.0,65.9 L430.0,66.0 L429.0,65.5 L428.0,64.7 L427.0,64.1 L426.0,64.9 L425.0,65.5 L424.0,65.1 L423.0,64.5 L422.0,64.3 L421.0,63.9 L420.0,64.6 L419.0,65.0 L418.0,65.5 L417.0,65.0 L416.0,64.3 L415.0,64.2 L414.0,64.7 L413.0,65.2 L412.0,65.6 L411.0,65.0 L410.0,64.2 L409.0,64.6 L408.0,65.3 L407.0,66.1 L406.0,66.0 L405.0,65.7 L404.0,64.9 L403.0,64.5 L402.0,65.3 L401.0,66.3 L400.0,65.9 L399.0,65.5 L398.0,64.9 L397.0,64.9 L396.0,65.1 L395.0,66.1 L394.0,66.0 L393.0,65.6 L392.0,64.9 L391.0,65.3 L390.0,65.7 L389.0,66.5 L388.0,66.4 L387.0,66.2 L386.0,65.7 L385.0,65.8 L384.0,66.5 L383.0,66.7 L382.0,67.4 L381.0,66.8 L380.0,66.0 L379.0,65.9 L378.0,66.6 L377.0,67.7 L376.0,67.7 L375.0,66.9 L374.0,66.4 L373.0,66.7 L372.0,66.6 L371.0,67.3 Z" fill="#eab8c0" opacity="0.85"/>
<path d="M371.0,68.0 L372.0,67.3 L373.0,67.4 L374.0,67.1 L375.0,67.6 L376.0,68.4 L377.0,68.4 L378.0,67.3 L379.0,66.6 L380.0,66.7 L381.0,67.5 L382.0,68.1 L383.0,67.4 L384.0,67.2 L385.0,66.5 L386.0,66.4 L387.0,66.9 L388.0,67.1 L389.0,67.2 L390.0,66.4 L391.0,66.0 L392.0,65.6 L393.0,66.3 L394.0,66.7 L395.0,66.8 L396.0,65.8 L397.0,65.6 L398.0,65.6 L399.0,66.2 L400.0,66.6 L401.0,67.0 L402.0,66.0 L403.0,65.2 L404.0,65.6 L405.0,66.4 L406.0,66.7 L407.0,66.8 L408.0,66.0 L409.0,65.3 L410.0,64.9 L411.0,65.7 L412.0,66.3 L413.0,65.9 L414.0,65.4 L415.0,64.9 L416.0,65.0 L417.0,65.7 L418.0,66.2 L419.0,65.7 L420.0,65.3 L421.0,64.6 L422.0,65.0 L423.0,65.2 L424.0,65.8 L425.0,66.2 L426.0,65.6 L427.0,64.8 L428.0,65.4 L429.0,66.2 L430.0,66.7 L431.0,66.6 L432.0,65.7 L433.0,65.4 L434.0,66.0 L435.0,66.9 L436.0,67.0 L437.0,66.8 L438.0,66.4 L439.0,66.3 L440.0,66.0 L441.0,67.1 L442.0,67.6 L443.0,67.5 L444.0,67.0 L445.0,66.3 L446.0,66.2 L447.0,67.1 L448.0,67.7 L449.0,67.9 L450.0,67.1 L451.0,66.9 L452.0,66.6 L453.0,67.5 L454.0,68.1 L455.0,68.0 L456.0,67.7 L457.0,67.3 L457.0,66.9" fill="none" stroke="#d87888" stroke-width="2.0" stroke-linejoin="round" />
<rect x="416" y="67.6" width="3" height="13.600000000000009" fill="#0d0d0d"/>
<rect x="373" y="104.3" width="29.69999999999999" height="2" fill="#262222"/>
</g>
<clipPath id="hc6"><rect x="75" y="143" width="84.3" height="68.5"/></clipPath>
<g clip-path="url(#hc6)">
<rect x="75" y="143" width="84.3" height="68.5" fill="#ece5e5"/>
<path d="M74.0,207.8 L75.0,207.4 L76.0,208.1 L77.0,208.2 L78.0,208.3 L79.0,208.0 L80.0,208.4 L81.0,208.3 L82.0,208.6 L83.0,208.7 L84.0,208.4 L85.0,208.0 L86.0,208.0 L87.0,207.5 L88.0,207.6 L89.0,207.4 L90.0,207.5 L91.0,207.7 L92.0,208.2 L93.0,208.2 L94.0,208.7 L95.0,208.2 L96.0,208.4 L97.0,208.2 L98.0,207.9 L99.0,207.7 L100.0,207.6 L101.0,207.8 L102.0,208.1 L103.0,207.9 L104.0,208.5 L105.0,208.0 L106.0,208.6 L107.0,208.6 L108.0,208.7 L109.0,208.0 L110.0,207.9 L111.0,207.6 L112.0,207.6 L113.0,207.8 L114.0,208.1 L115.0,207.8 L116.0,208.1 L117.0,207.7 L118.0,207.9 L119.0,208.3 L120.0,208.7 L121.0,208.2 L122.0,208.5 L123.0,208.6 L124.0,208.1 L125.0,208.1 L126.0,207.7 L127.0,208.0 L128.0,208.1 L129.0,208.2 L130.0,208.0 L131.0,208.4 L132.0,208.3 L133.0,208.3 L134.0,208.8 L135.0,208.3 L136.0,208.0 L137.0,207.7 L138.0,208.1 L139.0,207.6 L140.0,207.3 L141.0,207.8 L142.0,207.8 L143.0,208.1 L144.0,208.1 L145.0,208.4 L146.0,208.5 L147.0,208.4 L148.0,208.1 L149.0,207.9 L150.0,208.1 L151.0,207.8 L152.0,207.4 L153.0,207.3 L154.0,207.6 L155.0,207.6 L156.0,207.8 L157.0,208.2 L158.0,208.5 L159.0,208.1 L160.0,208.6 L160.3,208.5 L160.3,213.5 L160.0,213.5 L159.0,213.5 L158.0,213.5 L157.0,213.5 L156.0,213.5 L155.0,213.5 L154.0,213.5 L153.0,213.5 L152.0,213.5 L151.0,213.5 L150.0,213.5 L149.0,213.5 L148.0,213.5 L147.0,213.5 L146.0,213.5 L145.0,213.5 L144.0,213.5 L143.0,213.5 L142.0,213.5 L141.0,213.5 L140.0,213.5 L139.0,213.5 L138.0,213.5 L137.0,213.5 L136.0,213.5 L135.0,213.5 L134.0,213.5 L133.0,213.5 L132.0,213.5 L131.0,213.5 L130.0,213.5 L129.0,213.5 L128.0,213.5 L127.0,213.5 L126.0,213.5 L125.0,213.5 L124.0,213.5 L123.0,213.5 L122.0,213.5 L121.0,213.5 L120.0,213.5 L119.0,213.5 L118.0,213.5 L117.0,213.5 L116.0,213.5 L115.0,213.5 L114.0,213.5 L113.0,213.5 L112.0,213.5 L111.0,213.5 L110.0,213.5 L109.0,213.5 L108.0,213.5 L107.0,213.5 L106.0,213.5 L105.0,213.5 L104.0,213.5 L103.0,213.5 L102.0,213.5 L101.0,213.5 L100.0,213.5 L99.0,213.5 L98.0,213.5 L97.0,213.5 L96.0,213.5 L95.0,213.5 L94.0,213.5 L93.0,213.5 L92.0,213.5 L91.0,213.5 L90.0,213.5 L89.0,213.5 L88.0,213.5 L87.0,213.5 L86.0,213.5 L85.0,213.5 L84.0,213.5 L83.0,213.5 L82.0,213.5 L81.0,213.5 L80.0,213.5 L79.0,213.5 L78.0,213.5 L77.0,213.5 L76.0,213.5 L75.0,213.5 L74.0,213.5 Z" fill="#f2dfe3" filter="url(#tw0)"/>
<path d="M74.0,196.8 L75.0,196.8 L76.0,196.9 L77.0,197.2 L78.0,197.2 L79.0,197.6 L80.0,198.0 L81.0,197.6 L82.0,198.0 L83.0,197.7 L84.0,197.5 L85.0,197.5 L86.0,197.4 L87.0,197.1 L88.0,196.9 L89.0,197.0 L90.0,196.9 L91.0,197.3 L92.0,197.6 L93.0,197.7 L94.0,197.7 L95.0,197.5 L96.0,197.8 L97.0,197.7 L98.0,197.9 L99.0,197.4 L100.0,197.9 L101.0,197.1 L102.0,196.9 L103.0,197.3 L104.0,196.8 L105.0,196.5 L106.0,196.7 L107.0,197.3 L108.0,197.0 L109.0,197.8 L110.0,197.4 L111.0,197.5 L112.0,197.9 L113.0,197.6 L114.0,197.3 L115.0,197.6 L116.0,197.0 L117.0,197.1 L118.0,197.3 L119.0,197.2 L120.0,197.2 L121.0,197.0 L122.0,197.3 L123.0,197.3 L124.0,197.8 L125.0,198.1 L126.0,197.5 L127.0,197.5 L128.0,197.8 L129.0,197.8 L130.0,197.6 L131.0,197.1 L132.0,196.8 L133.0,196.9 L134.0,197.2 L135.0,196.8 L136.0,197.2 L137.0,197.2 L138.0,197.6 L139.0,197.3 L140.0,197.9 L141.0,197.7 L142.0,197.8 L143.0,197.5 L144.0,197.9 L145.0,197.5 L146.0,197.4 L147.0,197.1 L148.0,196.6 L149.0,197.1 L150.0,196.5 L151.0,196.8 L152.0,197.1 L153.0,197.6 L154.0,197.6 L155.0,197.9 L156.0,198.2 L157.0,198.2 L158.0,197.6 L159.0,197.6 L160.0,197.2 L160.3,197.6 L160.3,208.5 L160.0,208.6 L159.0,208.1 L158.0,208.5 L157.0,208.2 L156.0,207.8 L155.0,207.6 L154.0,207.6 L153.0,207.3 L152.0,207.4 L151.0,207.8 L150.0,208.1 L149.0,207.9 L148.0,208.1 L147.0,208.4 L146.0,208.5 L145.0,208.4 L144.0,208.1 L143.0,208.1 L142.0,207.8 L141.0,207.8 L140.0,207.3 L139.0,207.6 L138.0,208.1 L137.0,207.7 L136.0,208.0 L135.0,208.3 L134.0,208.8 L133.0,208.3 L132.0,208.3 L131.0,208.4 L130.0,208.0 L129.0,208.2 L128.0,208.1 L127.0,208.0 L126.0,207.7 L125.0,208.1 L124.0,208.1 L123.0,208.6 L122.0,208.5 L121.0,208.2 L120.0,208.7 L119.0,208.3 L118.0,207.9 L117.0,207.7 L116.0,208.1 L115.0,207.8 L114.0,208.1 L113.0,207.8 L112.0,207.6 L111.0,207.6 L110.0,207.9 L109.0,208.0 L108.0,208.7 L107.0,208.6 L106.0,208.6 L105.0,208.0 L104.0,208.5 L103.0,207.9 L102.0,208.1 L101.0,207.8 L100.0,207.6 L99.0,207.7 L98.0,207.9 L97.0,208.2 L96.0,208.4 L95.0,208.2 L94.0,208.7 L93.0,208.2 L92.0,208.2 L91.0,207.7 L90.0,207.5 L89.0,207.4 L88.0,207.6 L87.0,207.5 L86.0,208.0 L85.0,208.0 L84.0,208.4 L83.0,208.7 L82.0,208.6 L81.0,208.3 L80.0,208.4 L79.0,208.0 L78.0,208.3 L77.0,208.2 L76.0,208.1 L75.0,207.4 L74.0,207.8 Z" fill="#eba2ae" filter="url(#tw0)"/>
<path d="M74.0,181.4 L75.0,181.2 L76.0,181.6 L77.0,181.5 L78.0,181.0 L79.0,180.6 L80.0,179.6 L81.0,180.8 L82.0,180.7 L83.0,180.9 L84.0,181.3 L85.0,182.0 L86.0,182.0 L87.0,180.5 L88.0,180.3 L89.0,179.9 L90.0,180.7 L91.0,181.0 L92.0,181.6 L93.0,181.5 L94.0,181.9 L95.0,182.2 L96.0,181.2 L97.0,180.6 L98.0,180.4 L99.0,181.2 L100.0,180.9 L101.0,182.0 L102.0,182.3 L103.0,182.7 L104.0,181.6 L105.0,181.5 L106.0,181.9 L107.0,181.1 L108.0,180.7 L109.0,181.1 L110.0,181.7 L111.0,182.7 L112.0,182.4 L113.0,181.9 L114.0,181.7 L115.0,181.9 L116.0,181.6 L117.0,181.3 L118.0,181.4 L119.0,181.7 L120.0,182.1 L121.0,183.2 L122.0,182.6 L123.0,181.5 L124.0,181.9 L125.0,181.9 L126.0,181.3 L127.0,182.3 L128.0,182.1 L129.0,182.6 L130.0,182.8 L131.0,182.7 L132.0,182.1 L133.0,181.6 L134.0,181.2 L135.0,181.5 L136.0,182.3 L137.0,183.1 L138.0,183.4 L139.0,183.3 L140.0,183.0 L141.0,182.3 L142.0,182.5 L143.0,182.5 L144.0,182.0 L145.0,182.9 L146.0,183.6 L147.0,183.4 L148.0,183.1 L149.0,183.9 L150.0,183.1 L151.0,182.2 L152.0,182.6 L153.0,182.7 L154.0,183.1 L155.0,183.6 L156.0,183.9 L157.0,183.4 L158.0,184.2 L159.0,183.5 L160.0,183.3 L160.3,182.6 L160.3,197.6 L160.0,197.2 L159.0,197.6 L158.0,197.6 L157.0,198.2 L156.0,198.2 L155.0,197.9 L154.0,197.6 L153.0,197.6 L152.0,197.1 L151.0,196.8 L150.0,196.5 L149.0,197.1 L148.0,196.6 L147.0,197.1 L146.0,197.4 L145.0,197.5 L144.0,197.9 L143.0,197.5 L142.0,197.8 L141.0,197.7 L140.0,197.9 L139.0,197.3 L138.0,197.6 L137.0,197.2 L136.0,197.2 L135.0,196.8 L134.0,197.2 L133.0,196.9 L132.0,196.8 L131.0,197.1 L130.0,197.6 L129.0,197.8 L128.0,197.8 L127.0,197.5 L126.0,197.5 L125.0,198.1 L124.0,197.8 L123.0,197.3 L122.0,197.3 L121.0,197.0 L120.0,197.2 L119.0,197.2 L118.0,197.3 L117.0,197.1 L116.0,197.0 L115.0,197.6 L114.0,197.3 L113.0,197.6 L112.0,197.9 L111.0,197.5 L110.0,197.4 L109.0,197.8 L108.0,197.0 L107.0,197.3 L106.0,196.7 L105.0,196.5 L104.0,196.8 L103.0,197.3 L102.0,196.9 L101.0,197.1 L100.0,197.9 L99.0,197.4 L98.0,197.9 L97.0,197.7 L96.0,197.8 L95.0,197.5 L94.0,197.7 L93.0,197.7 L92.0,197.6 L91.0,197.3 L90.0,196.9 L89.0,197.0 L88.0,196.9 L87.0,197.1 L86.0,197.4 L85.0,197.5 L84.0,197.5 L83.0,197.7 L82.0,198.0 L81.0,197.6 L80.0,198.0 L79.0,197.6 L78.0,197.2 L77.0,197.2 L76.0,196.9 L75.0,196.8 L74.0,196.8 Z" fill="#efebed" filter="url(#tw0)"/>
<clipPath id="bc6"><path d="M74.0,159.2 L75.0,159.6 L76.0,158.9 L77.0,159.0 L78.0,158.5 L79.0,158.8 L80.0,158.7 L81.0,158.4 L82.0,159.7 L83.0,161.3 L84.0,160.5 L85.0,160.3 L86.0,160.4 L87.0,160.0 L88.0,159.4 L89.0,159.1 L90.0,158.4 L91.0,158.6 L92.0,158.4 L93.0,158.3 L94.0,159.8 L95.0,161.4 L96.0,161.3 L97.0,161.0 L98.0,160.5 L99.0,160.3 L100.0,159.3 L101.0,158.9 L102.0,158.6 L103.0,158.3 L104.0,157.7 L105.0,158.1 L106.0,160.2 L107.0,161.7 L108.0,161.2 L109.0,160.6 L110.0,160.4 L111.0,159.9 L112.0,160.1 L113.0,159.1 L114.0,158.9 L115.0,158.7 L116.0,158.6 L117.0,158.7 L118.0,160.1 L119.0,161.5 L120.0,161.3 L121.0,161.1 L122.0,160.5 L123.0,159.9 L124.0,159.9 L125.0,159.5 L126.0,159.3 L127.0,158.5 L128.0,158.5 L129.0,158.5 L130.0,160.0 L131.0,160.7 L132.0,160.3 L133.0,160.6 L134.0,159.8 L135.0,159.8 L136.0,159.3 L137.0,159.0 L138.0,158.8 L139.0,158.9 L140.0,158.1 L141.0,158.5 L142.0,159.7 L143.0,160.8 L144.0,160.6 L145.0,160.4 L146.0,160.0 L147.0,159.8 L148.0,159.6 L149.0,159.2 L150.0,158.4 L151.0,158.1 L152.0,158.1 L153.0,158.1 L154.0,159.6 L155.0,160.1 L156.0,159.9 L157.0,159.9 L158.0,159.7 L159.0,159.1 L160.0,159.2 L160.3,158.9 L160.3,182.6 L160.0,183.3 L159.0,183.5 L158.0,184.2 L157.0,183.4 L156.0,183.9 L155.0,183.6 L154.0,183.1 L153.0,182.7 L152.0,182.6 L151.0,182.2 L150.0,183.1 L149.0,183.9 L148.0,183.1 L147.0,183.4 L146.0,183.6 L145.0,182.9 L144.0,182.0 L143.0,182.5 L142.0,182.5 L141.0,182.3 L140.0,183.0 L139.0,183.3 L138.0,183.4 L137.0,183.1 L136.0,182.3 L135.0,181.5 L134.0,181.2 L133.0,181.6 L132.0,182.1 L131.0,182.7 L130.0,182.8 L129.0,182.6 L128.0,182.1 L127.0,182.3 L126.0,181.3 L125.0,181.9 L124.0,181.9 L123.0,181.5 L122.0,182.6 L121.0,183.2 L120.0,182.1 L119.0,181.7 L118.0,181.4 L117.0,181.3 L116.0,181.6 L115.0,181.9 L114.0,181.7 L113.0,181.9 L112.0,182.4 L111.0,182.7 L110.0,181.7 L109.0,181.1 L108.0,180.7 L107.0,181.1 L106.0,181.9 L105.0,181.5 L104.0,181.6 L103.0,182.7 L102.0,182.3 L101.0,182.0 L100.0,180.9 L99.0,181.2 L98.0,180.4 L97.0,180.6 L96.0,181.2 L95.0,182.2 L94.0,181.9 L93.0,181.5 L92.0,181.6 L91.0,181.0 L90.0,180.7 L89.0,179.9 L88.0,180.3 L87.0,180.5 L86.0,182.0 L85.0,182.0 L84.0,181.3 L83.0,180.9 L82.0,180.7 L81.0,180.8 L80.0,179.6 L79.0,180.6 L78.0,181.0 L77.0,181.5 L76.0,181.6 L75.0,181.2 L74.0,181.4 Z"/></clipPath>
<g filter="url(#tx0)">
<path d="M74.0,159.2 L75.0,159.6 L76.0,158.9 L77.0,159.0 L78.0,158.5 L79.0,158.8 L80.0,158.7 L81.0,158.4 L82.0,159.7 L83.0,161.3 L84.0,160.5 L85.0,160.3 L86.0,160.4 L87.0,160.0 L88.0,159.4 L89.0,159.1 L90.0,158.4 L91.0,158.6 L92.0,158.4 L93.0,158.3 L94.0,159.8 L95.0,161.4 L96.0,161.3 L97.0,161.0 L98.0,160.5 L99.0,160.3 L100.0,159.3 L101.0,158.9 L102.0,158.6 L103.0,158.3 L104.0,157.7 L105.0,158.1 L106.0,160.2 L107.0,161.7 L108.0,161.2 L109.0,160.6 L110.0,160.4 L111.0,159.9 L112.0,160.1 L113.0,159.1 L114.0,158.9 L115.0,158.7 L116.0,158.6 L117.0,158.7 L118.0,160.1 L119.0,161.5 L120.0,161.3 L121.0,161.1 L122.0,160.5 L123.0,159.9 L124.0,159.9 L125.0,159.5 L126.0,159.3 L127.0,158.5 L128.0,158.5 L129.0,158.5 L130.0,160.0 L131.0,160.7 L132.0,160.3 L133.0,160.6 L134.0,159.8 L135.0,159.8 L136.0,159.3 L137.0,159.0 L138.0,158.8 L139.0,158.9 L140.0,158.1 L141.0,158.5 L142.0,159.7 L143.0,160.8 L144.0,160.6 L145.0,160.4 L146.0,160.0 L147.0,159.8 L148.0,159.6 L149.0,159.2 L150.0,158.4 L151.0,158.1 L152.0,158.1 L153.0,158.1 L154.0,159.6 L155.0,160.1 L156.0,159.9 L157.0,159.9 L158.0,159.7 L159.0,159.1 L160.0,159.2 L160.3,158.9 L160.3,182.6 L160.0,183.3 L159.0,183.5 L158.0,184.2 L157.0,183.4 L156.0,183.9 L155.0,183.6 L154.0,183.1 L153.0,182.7 L152.0,182.6 L151.0,182.2 L150.0,183.1 L149.0,183.9 L148.0,183.1 L147.0,183.4 L146.0,183.6 L145.0,182.9 L144.0,182.0 L143.0,182.5 L142.0,182.5 L141.0,182.3 L140.0,183.0 L139.0,183.3 L138.0,183.4 L137.0,183.1 L136.0,182.3 L135.0,181.5 L134.0,181.2 L133.0,181.6 L132.0,182.1 L131.0,182.7 L130.0,182.8 L129.0,182.6 L128.0,182.1 L127.0,182.3 L126.0,181.3 L125.0,181.9 L124.0,181.9 L123.0,181.5 L122.0,182.6 L121.0,183.2 L120.0,182.1 L119.0,181.7 L118.0,181.4 L117.0,181.3 L116.0,181.6 L115.0,181.9 L114.0,181.7 L113.0,181.9 L112.0,182.4 L111.0,182.7 L110.0,181.7 L109.0,181.1 L108.0,180.7 L107.0,181.1 L106.0,181.9 L105.0,181.5 L104.0,181.6 L103.0,182.7 L102.0,182.3 L101.0,182.0 L100.0,180.9 L99.0,181.2 L98.0,180.4 L97.0,180.6 L96.0,181.2 L95.0,182.2 L94.0,181.9 L93.0,181.5 L92.0,181.6 L91.0,181.0 L90.0,180.7 L89.0,179.9 L88.0,180.3 L87.0,180.5 L86.0,182.0 L85.0,182.0 L84.0,181.3 L83.0,180.9 L82.0,180.7 L81.0,180.8 L80.0,179.6 L79.0,180.6 L78.0,181.0 L77.0,181.5 L76.0,181.6 L75.0,181.2 L74.0,181.4 Z" fill="#78a5cc" />
<g clip-path="url(#bc6)">
<path d="M114.5,164 L127,180" stroke="#c06a86" stroke-width="3.2" stroke-linecap="round" opacity="0.85"/>
<path d="M140,164 L153.3,182.5" stroke="#c06a86" stroke-width="3.2" stroke-linecap="round" opacity="0.85"/>
<path d="M87,171 L100.4,179.2" stroke="#c07090" stroke-width="3" stroke-linecap="round" opacity="0.85"/>
<path d="M128,163 L140,177" stroke="#c88aa0" stroke-width="1.8" stroke-linecap="round" opacity="0.85"/>
<path d="M95,162 L108,176" stroke="#b89ab8" stroke-width="1.8" stroke-linecap="round" opacity="0.85"/>
<path d="M150,163 L158,172" stroke="#c07890" stroke-width="2" stroke-linecap="round" opacity="0.85"/>
</g>
</g>
<path d="M74.0,159.7 L75.0,160.1 L76.0,159.5 L77.0,159.6 L78.0,159.0 L79.0,159.3 L80.0,159.2 L81.0,158.9 L82.0,160.2 L83.0,161.8 L84.0,161.0 L85.0,160.9 L86.0,160.9 L87.0,160.5 L88.0,159.9 L89.0,159.6 L90.0,158.9 L91.0,159.2 L92.0,158.9 L93.0,158.9 L94.0,160.3 L95.0,161.9 L96.0,161.9 L97.0,161.5 L98.0,161.0 L99.0,160.8 L100.0,159.8 L101.0,159.4 L102.0,159.1 L103.0,158.8 L104.0,158.2 L105.0,158.6 L106.0,160.7 L107.0,162.2 L108.0,161.7 L109.0,161.1 L110.0,161.0 L111.0,160.4 L112.0,160.6 L113.0,159.6 L114.0,159.4 L115.0,159.3 L116.0,159.1 L117.0,159.2 L118.0,160.6 L119.0,162.1 L120.0,161.8 L121.0,161.6 L122.0,161.0 L123.0,160.4 L124.0,160.5 L125.0,160.0 L126.0,159.8 L127.0,159.0 L128.0,159.1 L129.0,159.0 L130.0,160.5 L131.0,161.2 L132.0,160.8 L133.0,161.1 L134.0,160.3 L135.0,160.4 L136.0,159.8 L137.0,159.6 L138.0,159.4 L139.0,159.4 L140.0,158.6 L141.0,159.0 L142.0,160.2 L143.0,161.3 L144.0,161.1 L145.0,161.0 L146.0,160.5 L147.0,160.4 L148.0,160.1 L149.0,159.7 L150.0,158.9 L151.0,158.6 L152.0,158.7 L153.0,158.6 L154.0,160.1 L155.0,160.7 L156.0,160.5 L157.0,160.4 L158.0,160.2 L159.0,159.7 L160.0,159.7 L160.3,159.5" fill="none" stroke="#a8687e" stroke-width="1.5" stroke-linejoin="round" />
<rect x="108.6" y="160.5" width="3" height="20.80000000000001" fill="#0d0d0d"/>
<rect x="75.5" y="208" width="30.5" height="2" fill="#262222"/>
</g>
<clipPath id="hc7"><rect x="161" y="143" width="84" height="68.5"/></clipPath>
<g clip-path="url(#hc7)">
<rect x="161" y="143" width="84" height="68.5" fill="#ece5e5"/>
<path d="M160.0,207.1 L161.0,206.6 L162.0,207.4 L163.0,207.0 L164.0,207.4 L165.0,207.7 L166.0,207.5 L167.0,207.6 L168.0,207.4 L169.0,207.6 L170.0,207.3 L171.0,207.4 L172.0,206.9 L173.0,206.9 L174.0,206.9 L175.0,207.3 L176.0,207.4 L177.0,207.1 L178.0,207.5 L179.0,208.0 L180.0,207.4 L181.0,208.0 L182.0,207.3 L183.0,207.2 L184.0,207.1 L185.0,206.9 L186.0,207.1 L187.0,207.0 L188.0,207.1 L189.0,207.2 L190.0,207.5 L191.0,207.7 L192.0,208.0 L193.0,207.4 L194.0,207.3 L195.0,207.3 L196.0,207.4 L197.0,207.5 L198.0,206.8 L199.0,206.8 L200.0,207.1 L201.0,207.2 L202.0,207.3 L203.0,207.1 L204.0,207.9 L205.0,207.7 L206.0,208.0 L207.0,207.7 L208.0,207.2 L209.0,207.8 L210.0,206.9 L211.0,207.0 L212.0,207.1 L213.0,207.1 L214.0,206.9 L215.0,206.8 L216.0,207.2 L217.0,207.8 L218.0,207.5 L219.0,207.8 L220.0,207.9 L221.0,207.5 L222.0,207.4 L223.0,207.4 L224.0,207.2 L225.0,207.0 L226.0,206.7 L227.0,207.3 L228.0,207.2 L229.0,207.5 L230.0,207.3 L231.0,207.6 L232.0,207.4 L233.0,207.5 L234.0,207.4 L235.0,207.4 L236.0,206.9 L237.0,206.6 L238.0,206.7 L239.0,207.2 L240.0,207.2 L241.0,206.9 L242.0,207.6 L243.0,207.6 L244.0,207.4 L245.0,208.1 L246.0,207.8 L246.0,207.2 L246.0,213.5 L246.0,213.5 L245.0,213.5 L244.0,213.5 L243.0,213.5 L242.0,213.5 L241.0,213.5 L240.0,213.5 L239.0,213.5 L238.0,213.5 L237.0,213.5 L236.0,213.5 L235.0,213.5 L234.0,213.5 L233.0,213.5 L232.0,213.5 L231.0,213.5 L230.0,213.5 L229.0,213.5 L228.0,213.5 L227.0,213.5 L226.0,213.5 L225.0,213.5 L224.0,213.5 L223.0,213.5 L222.0,213.5 L221.0,213.5 L220.0,213.5 L219.0,213.5 L218.0,213.5 L217.0,213.5 L216.0,213.5 L215.0,213.5 L214.0,213.5 L213.0,213.5 L212.0,213.5 L211.0,213.5 L210.0,213.5 L209.0,213.5 L208.0,213.5 L207.0,213.5 L206.0,213.5 L205.0,213.5 L204.0,213.5 L203.0,213.5 L202.0,213.5 L201.0,213.5 L200.0,213.5 L199.0,213.5 L198.0,213.5 L197.0,213.5 L196.0,213.5 L195.0,213.5 L194.0,213.5 L193.0,213.5 L192.0,213.5 L191.0,213.5 L190.0,213.5 L189.0,213.5 L188.0,213.5 L187.0,213.5 L186.0,213.5 L185.0,213.5 L184.0,213.5 L183.0,213.5 L182.0,213.5 L181.0,213.5 L180.0,213.5 L179.0,213.5 L178.0,213.5 L177.0,213.5 L176.0,213.5 L175.0,213.5 L174.0,213.5 L173.0,213.5 L172.0,213.5 L171.0,213.5 L170.0,213.5 L169.0,213.5 L168.0,213.5 L167.0,213.5 L166.0,213.5 L165.0,213.5 L164.0,213.5 L163.0,213.5 L162.0,213.5 L161.0,213.5 L160.0,213.5 Z" fill="#f1e6e9" filter="url(#tw1)"/>
<path d="M160.0,199.6 L161.0,199.1 L162.0,199.2 L163.0,199.4 L164.0,199.1 L165.0,199.0 L166.0,198.7 L167.0,199.2 L168.0,199.8 L169.0,199.8 L170.0,200.0 L171.0,199.6 L172.0,199.7 L173.0,199.8 L174.0,200.1 L175.0,199.8 L176.0,199.4 L177.0,199.0 L178.0,199.0 L179.0,199.2 L180.0,199.1 L181.0,199.4 L182.0,199.3 L183.0,199.5 L184.0,199.2 L185.0,199.6 L186.0,199.6 L187.0,199.8 L188.0,200.2 L189.0,199.9 L190.0,199.9 L191.0,199.8 L192.0,199.2 L193.0,199.1 L194.0,198.7 L195.0,199.1 L196.0,199.2 L197.0,199.6 L198.0,199.2 L199.0,199.4 L200.0,200.2 L201.0,199.6 L202.0,199.8 L203.0,200.1 L204.0,200.3 L205.0,199.5 L206.0,199.5 L207.0,199.5 L208.0,198.9 L209.0,198.7 L210.0,198.8 L211.0,199.3 L212.0,199.2 L213.0,199.7 L214.0,199.4 L215.0,200.0 L216.0,200.0 L217.0,200.4 L218.0,200.2 L219.0,200.0 L220.0,199.5 L221.0,199.5 L222.0,199.0 L223.0,198.8 L224.0,199.1 L225.0,199.4 L226.0,199.1 L227.0,199.0 L228.0,199.6 L229.0,199.8 L230.0,200.1 L231.0,200.3 L232.0,199.7 L233.0,199.9 L234.0,199.7 L235.0,200.1 L236.0,199.1 L237.0,199.1 L238.0,199.2 L239.0,198.9 L240.0,199.3 L241.0,198.8 L242.0,199.2 L243.0,199.7 L244.0,199.5 L245.0,199.7 L246.0,200.2 L246.0,200.3 L246.0,207.2 L246.0,207.8 L245.0,208.1 L244.0,207.4 L243.0,207.6 L242.0,207.6 L241.0,206.9 L240.0,207.2 L239.0,207.2 L238.0,206.7 L237.0,206.6 L236.0,206.9 L235.0,207.4 L234.0,207.4 L233.0,207.5 L232.0,207.4 L231.0,207.6 L230.0,207.3 L229.0,207.5 L228.0,207.2 L227.0,207.3 L226.0,206.7 L225.0,207.0 L224.0,207.2 L223.0,207.4 L222.0,207.4 L221.0,207.5 L220.0,207.9 L219.0,207.8 L218.0,207.5 L217.0,207.8 L216.0,207.2 L215.0,206.8 L214.0,206.9 L213.0,207.1 L212.0,207.1 L211.0,207.0 L210.0,206.9 L209.0,207.8 L208.0,207.2 L207.0,207.7 L206.0,208.0 L205.0,207.7 L204.0,207.9 L203.0,207.1 L202.0,207.3 L201.0,207.2 L200.0,207.1 L199.0,206.8 L198.0,206.8 L197.0,207.5 L196.0,207.4 L195.0,207.3 L194.0,207.3 L193.0,207.4 L192.0,208.0 L191.0,207.7 L190.0,207.5 L189.0,207.2 L188.0,207.1 L187.0,207.0 L186.0,207.1 L185.0,206.9 L184.0,207.1 L183.0,207.2 L182.0,207.3 L181.0,208.0 L180.0,207.4 L179.0,208.0 L178.0,207.5 L177.0,207.1 L176.0,207.4 L175.0,207.3 L174.0,206.9 L173.0,206.9 L172.0,206.9 L171.0,207.4 L170.0,207.3 L169.0,207.6 L168.0,207.4 L167.0,207.6 L166.0,207.5 L165.0,207.7 L164.0,207.4 L163.0,207.0 L162.0,207.4 L161.0,206.6 L160.0,207.1 Z" fill="#e78898" filter="url(#tw1)"/>
<path d="M170,197 L171,200" stroke="#a0304a" stroke-width="3" stroke-linecap="round" opacity="0.55"/>
<path d="M161,193 L245,193" stroke="#e8dce2" stroke-width="3" stroke-linecap="round" opacity="0.55"/>
<path d="M160.0,182.3 L161.0,182.2 L162.0,181.7 L163.0,181.0 L164.0,181.6 L165.0,181.1 L166.0,181.3 L167.0,182.0 L168.0,182.0 L169.0,182.0 L170.0,182.5 L171.0,181.6 L172.0,181.1 L173.0,181.2 L174.0,181.0 L175.0,181.9 L176.0,181.9 L177.0,182.9 L178.0,182.9 L179.0,182.7 L180.0,182.2 L181.0,181.2 L182.0,181.8 L183.0,180.9 L184.0,182.0 L185.0,182.7 L186.0,183.0 L187.0,183.2 L188.0,183.0 L189.0,182.3 L190.0,182.2 L191.0,181.8 L192.0,181.7 L193.0,181.8 L194.0,182.5 L195.0,183.1 L196.0,182.6 L197.0,183.1 L198.0,183.1 L199.0,181.6 L200.0,182.4 L201.0,182.3 L202.0,182.1 L203.0,182.7 L204.0,183.0 L205.0,183.0 L206.0,183.0 L207.0,183.4 L208.0,181.9 L209.0,182.1 L210.0,181.8 L211.0,182.6 L212.0,183.4 L213.0,183.5 L214.0,183.2 L215.0,184.1 L216.0,183.0 L217.0,183.1 L218.0,182.8 L219.0,182.1 L220.0,182.2 L221.0,183.7 L222.0,184.0 L223.0,183.5 L224.0,184.2 L225.0,183.7 L226.0,182.5 L227.0,182.1 L228.0,182.6 L229.0,182.6 L230.0,183.0 L231.0,183.2 L232.0,183.8 L233.0,183.3 L234.0,182.9 L235.0,182.7 L236.0,182.7 L237.0,182.8 L238.0,182.8 L239.0,183.1 L240.0,183.9 L241.0,184.2 L242.0,183.8 L243.0,183.6 L244.0,183.2 L245.0,183.3 L246.0,182.2 L246.0,183.4 L246.0,200.3 L246.0,200.2 L245.0,199.7 L244.0,199.5 L243.0,199.7 L242.0,199.2 L241.0,198.8 L240.0,199.3 L239.0,198.9 L238.0,199.2 L237.0,199.1 L236.0,199.1 L235.0,200.1 L234.0,199.7 L233.0,199.9 L232.0,199.7 L231.0,200.3 L230.0,200.1 L229.0,199.8 L228.0,199.6 L227.0,199.0 L226.0,199.1 L225.0,199.4 L224.0,199.1 L223.0,198.8 L222.0,199.0 L221.0,199.5 L220.0,199.5 L219.0,200.0 L218.0,200.2 L217.0,200.4 L216.0,200.0 L215.0,200.0 L214.0,199.4 L213.0,199.7 L212.0,199.2 L211.0,199.3 L210.0,198.8 L209.0,198.7 L208.0,198.9 L207.0,199.5 L206.0,199.5 L205.0,199.5 L204.0,200.3 L203.0,200.1 L202.0,199.8 L201.0,199.6 L200.0,200.2 L199.0,199.4 L198.0,199.2 L197.0,199.6 L196.0,199.2 L195.0,199.1 L194.0,198.7 L193.0,199.1 L192.0,199.2 L191.0,199.8 L190.0,199.9 L189.0,199.9 L188.0,200.2 L187.0,199.8 L186.0,199.6 L185.0,199.6 L184.0,199.2 L183.0,199.5 L182.0,199.3 L181.0,199.4 L180.0,199.1 L179.0,199.2 L178.0,199.0 L177.0,199.0 L176.0,199.4 L175.0,199.8 L174.0,200.1 L173.0,199.8 L172.0,199.7 L171.0,199.6 L170.0,200.0 L169.0,199.8 L168.0,199.8 L167.0,199.2 L166.0,198.7 L165.0,199.0 L164.0,199.1 L163.0,199.4 L162.0,199.2 L161.0,199.1 L160.0,199.6 Z" fill="#e4dde2" filter="url(#tw1)"/>
<clipPath id="bc7"><path d="M160.0,164.8 L161.0,165.4 L162.0,163.8 L163.0,163.1 L164.0,162.3 L165.0,162.5 L166.0,163.4 L167.0,164.1 L168.0,165.0 L169.0,164.0 L170.0,163.2 L171.0,163.0 L172.0,163.3 L173.0,163.3 L174.0,164.6 L175.0,164.8 L176.0,164.0 L177.0,163.2 L178.0,163.3 L179.0,163.1 L180.0,163.4 L181.0,164.5 L182.0,164.6 L183.0,164.1 L184.0,163.3 L185.0,163.1 L186.0,163.1 L187.0,163.8 L188.0,164.5 L189.0,165.2 L190.0,164.0 L191.0,162.8 L192.0,162.8 L193.0,162.6 L194.0,163.4 L195.0,164.6 L196.0,164.7 L197.0,163.8 L198.0,163.3 L199.0,162.8 L200.0,162.7 L201.0,163.2 L202.0,164.7 L203.0,165.0 L204.0,164.2 L205.0,163.1 L206.0,163.0 L207.0,163.1 L208.0,163.5 L209.0,164.2 L210.0,164.6 L211.0,164.0 L212.0,163.3 L213.0,163.0 L214.0,163.2 L215.0,163.9 L216.0,164.5 L217.0,165.0 L218.0,163.9 L219.0,163.3 L220.0,163.0 L221.0,162.8 L222.0,163.9 L223.0,164.6 L224.0,164.6 L225.0,163.8 L226.0,163.1 L227.0,163.1 L228.0,163.3 L229.0,163.8 L230.0,164.3 L231.0,164.6 L232.0,163.8 L233.0,163.2 L234.0,163.4 L235.0,163.4 L236.0,164.0 L237.0,164.5 L238.0,164.8 L239.0,163.6 L240.0,163.4 L241.0,163.4 L242.0,163.1 L243.0,163.7 L244.0,164.3 L245.0,164.8 L246.0,163.9 L246.0,163.1 L246.0,183.4 L246.0,182.2 L245.0,183.3 L244.0,183.2 L243.0,183.6 L242.0,183.8 L241.0,184.2 L240.0,183.9 L239.0,183.1 L238.0,182.8 L237.0,182.8 L236.0,182.7 L235.0,182.7 L234.0,182.9 L233.0,183.3 L232.0,183.8 L231.0,183.2 L230.0,183.0 L229.0,182.6 L228.0,182.6 L227.0,182.1 L226.0,182.5 L225.0,183.7 L224.0,184.2 L223.0,183.5 L222.0,184.0 L221.0,183.7 L220.0,182.2 L219.0,182.1 L218.0,182.8 L217.0,183.1 L216.0,183.0 L215.0,184.1 L214.0,183.2 L213.0,183.5 L212.0,183.4 L211.0,182.6 L210.0,181.8 L209.0,182.1 L208.0,181.9 L207.0,183.4 L206.0,183.0 L205.0,183.0 L204.0,183.0 L203.0,182.7 L202.0,182.1 L201.0,182.3 L200.0,182.4 L199.0,181.6 L198.0,183.1 L197.0,183.1 L196.0,182.6 L195.0,183.1 L194.0,182.5 L193.0,181.8 L192.0,181.7 L191.0,181.8 L190.0,182.2 L189.0,182.3 L188.0,183.0 L187.0,183.2 L186.0,183.0 L185.0,182.7 L184.0,182.0 L183.0,180.9 L182.0,181.8 L181.0,181.2 L180.0,182.2 L179.0,182.7 L178.0,182.9 L177.0,182.9 L176.0,181.9 L175.0,181.9 L174.0,181.0 L173.0,181.2 L172.0,181.1 L171.0,181.6 L170.0,182.5 L169.0,182.0 L168.0,182.0 L167.0,182.0 L166.0,181.3 L165.0,181.1 L164.0,181.6 L163.0,181.0 L162.0,181.7 L161.0,182.2 L160.0,182.3 Z"/></clipPath>
<g filter="url(#tx1)">
<path d="M160.0,164.8 L161.0,165.4 L162.0,163.8 L163.0,163.1 L164.0,162.3 L165.0,162.5 L166.0,163.4 L167.0,164.1 L168.0,165.0 L169.0,164.0 L170.0,163.2 L171.0,163.0 L172.0,163.3 L173.0,163.3 L174.0,164.6 L175.0,164.8 L176.0,164.0 L177.0,163.2 L178.0,163.3 L179.0,163.1 L180.0,163.4 L181.0,164.5 L182.0,164.6 L183.0,164.1 L184.0,163.3 L185.0,163.1 L186.0,163.1 L187.0,163.8 L188.0,164.5 L189.0,165.2 L190.0,164.0 L191.0,162.8 L192.0,162.8 L193.0,162.6 L194.0,163.4 L195.0,164.6 L196.0,164.7 L197.0,163.8 L198.0,163.3 L199.0,162.8 L200.0,162.7 L201.0,163.2 L202.0,164.7 L203.0,165.0 L204.0,164.2 L205.0,163.1 L206.0,163.0 L207.0,163.1 L208.0,163.5 L209.0,164.2 L210.0,164.6 L211.0,164.0 L212.0,163.3 L213.0,163.0 L214.0,163.2 L215.0,163.9 L216.0,164.5 L217.0,165.0 L218.0,163.9 L219.0,163.3 L220.0,163.0 L221.0,162.8 L222.0,163.9 L223.0,164.6 L224.0,164.6 L225.0,163.8 L226.0,163.1 L227.0,163.1 L228.0,163.3 L229.0,163.8 L230.0,164.3 L231.0,164.6 L232.0,163.8 L233.0,163.2 L234.0,163.4 L235.0,163.4 L236.0,164.0 L237.0,164.5 L238.0,164.8 L239.0,163.6 L240.0,163.4 L241.0,163.4 L242.0,163.1 L243.0,163.7 L244.0,164.3 L245.0,164.8 L246.0,163.9 L246.0,163.1 L246.0,183.4 L246.0,182.2 L245.0,183.3 L244.0,183.2 L243.0,183.6 L242.0,183.8 L241.0,184.2 L240.0,183.9 L239.0,183.1 L238.0,182.8 L237.0,182.8 L236.0,182.7 L235.0,182.7 L234.0,182.9 L233.0,183.3 L232.0,183.8 L231.0,183.2 L230.0,183.0 L229.0,182.6 L228.0,182.6 L227.0,182.1 L226.0,182.5 L225.0,183.7 L224.0,184.2 L223.0,183.5 L222.0,184.0 L221.0,183.7 L220.0,182.2 L219.0,182.1 L218.0,182.8 L217.0,183.1 L216.0,183.0 L215.0,184.1 L214.0,183.2 L213.0,183.5 L212.0,183.4 L211.0,182.6 L210.0,181.8 L209.0,182.1 L208.0,181.9 L207.0,183.4 L206.0,183.0 L205.0,183.0 L204.0,183.0 L203.0,182.7 L202.0,182.1 L201.0,182.3 L200.0,182.4 L199.0,181.6 L198.0,183.1 L197.0,183.1 L196.0,182.6 L195.0,183.1 L194.0,182.5 L193.0,181.8 L192.0,181.7 L191.0,181.8 L190.0,182.2 L189.0,182.3 L188.0,183.0 L187.0,183.2 L186.0,183.0 L185.0,182.7 L184.0,182.0 L183.0,180.9 L182.0,181.8 L181.0,181.2 L180.0,182.2 L179.0,182.7 L178.0,182.9 L177.0,182.9 L176.0,181.9 L175.0,181.9 L174.0,181.0 L173.0,181.2 L172.0,181.1 L171.0,181.6 L170.0,182.5 L169.0,182.0 L168.0,182.0 L167.0,182.0 L166.0,181.3 L165.0,181.1 L164.0,181.6 L163.0,181.0 L162.0,181.7 L161.0,182.2 L160.0,182.3 Z" fill="#6a9dc9" />
<g clip-path="url(#bc7)">
<path d="M182,182 L192,179" stroke="#d8687e" stroke-width="5" stroke-linecap="round" opacity="0.85"/>
<path d="M170,170 L180,178" stroke="#b8a8c8" stroke-width="1.5" stroke-linecap="round" opacity="0.85"/>
<path d="M220,168 L232,178" stroke="#b8a8c8" stroke-width="1.5" stroke-linecap="round" opacity="0.85"/>
</g>
</g>
<path d="M160.0,160.6 L161.0,160.0 L162.0,160.0 L163.0,161.7 L164.0,163.4 L165.0,162.5 L166.0,163.0 L167.0,161.5 L168.0,160.0 L169.0,161.0 L170.0,162.2 L171.0,162.1 L172.0,162.6 L173.0,163.3 L174.0,161.5 L175.0,161.4 L176.0,160.3 L177.0,161.4 L178.0,162.0 L179.0,163.7 L180.0,162.4 L181.0,160.8 L182.0,160.9 L183.0,161.2 L184.0,161.5 L185.0,162.6 L186.0,163.5 L187.0,162.0 L188.0,160.9 L189.0,160.0 L190.0,160.8 L191.0,160.8 L192.0,161.9 L193.0,162.2 L194.0,163.1 L195.0,161.5 L196.0,160.0 L197.0,161.5 L198.0,162.1 L199.0,162.3 L200.0,162.3 L201.0,161.6 L202.0,161.0 L203.0,160.3 L204.0,161.3 L205.0,161.4 L206.0,162.6 L207.0,162.7 L208.0,162.1 L209.0,162.1 L210.0,160.4 L211.0,160.3 L212.0,161.1 L213.0,162.9 L214.0,162.9 L215.0,161.7 L216.0,160.8 L217.0,161.1 L218.0,160.9 L219.0,161.5 L220.0,162.0 L221.0,163.4 L222.0,161.8 L223.0,160.6 L224.0,159.9 L225.0,160.8 L226.0,161.3 L227.0,162.2 L228.0,162.3 L229.0,161.7 L230.0,161.1 L231.0,161.0 L232.0,160.8 L233.0,162.4 L234.0,163.0 L235.0,163.2 L236.0,162.1 L237.0,161.3 L238.0,160.8 L239.0,160.1 L240.0,161.0 L241.0,162.0 L242.0,162.4 L243.0,163.2 L244.0,161.9 L245.0,161.0 L246.0,160.3 L246.0,162.5 L246.0,163.1 L246.0,163.9 L245.0,164.8 L244.0,164.3 L243.0,163.7 L242.0,163.1 L241.0,163.4 L240.0,163.4 L239.0,163.6 L238.0,164.8 L237.0,164.5 L236.0,164.0 L235.0,163.4 L234.0,163.4 L233.0,163.2 L232.0,163.8 L231.0,164.6 L230.0,164.3 L229.0,163.8 L228.0,163.3 L227.0,163.1 L226.0,163.1 L225.0,163.8 L224.0,164.6 L223.0,164.6 L222.0,163.9 L221.0,162.8 L220.0,163.0 L219.0,163.3 L218.0,163.9 L217.0,165.0 L216.0,164.5 L215.0,163.9 L214.0,163.2 L213.0,163.0 L212.0,163.3 L211.0,164.0 L210.0,164.6 L209.0,164.2 L208.0,163.5 L207.0,163.1 L206.0,163.0 L205.0,163.1 L204.0,164.2 L203.0,165.0 L202.0,164.7 L201.0,163.2 L200.0,162.7 L199.0,162.8 L198.0,163.3 L197.0,163.8 L196.0,164.7 L195.0,164.6 L194.0,163.4 L193.0,162.6 L192.0,162.8 L191.0,162.8 L190.0,164.0 L189.0,165.2 L188.0,164.5 L187.0,163.8 L186.0,163.1 L185.0,163.1 L184.0,163.3 L183.0,164.1 L182.0,164.6 L181.0,164.5 L180.0,163.4 L179.0,163.1 L178.0,163.3 L177.0,163.2 L176.0,164.0 L175.0,164.8 L174.0,164.6 L173.0,163.3 L172.0,163.3 L171.0,163.0 L170.0,163.2 L169.0,164.0 L168.0,165.0 L167.0,164.1 L166.0,163.4 L165.0,162.5 L164.0,162.3 L163.0,163.1 L162.0,163.8 L161.0,165.4 L160.0,164.8 Z" fill="#eed0d4" opacity="0.85"/>
<path d="M160.0,165.4 L161.0,166.0 L162.0,164.3 L163.0,163.7 L164.0,162.8 L165.0,163.1 L166.0,164.0 L167.0,164.7 L168.0,165.6 L169.0,164.5 L170.0,163.7 L171.0,163.6 L172.0,163.9 L173.0,163.9 L174.0,165.2 L175.0,165.3 L176.0,164.5 L177.0,163.8 L178.0,163.8 L179.0,163.6 L180.0,163.9 L181.0,165.1 L182.0,165.2 L183.0,164.7 L184.0,163.9 L185.0,163.7 L186.0,163.6 L187.0,164.4 L188.0,165.1 L189.0,165.7 L190.0,164.5 L191.0,163.3 L192.0,163.3 L193.0,163.1 L194.0,164.0 L195.0,165.1 L196.0,165.3 L197.0,164.4 L198.0,163.9 L199.0,163.4 L200.0,163.2 L201.0,163.8 L202.0,165.2 L203.0,165.6 L204.0,164.8 L205.0,163.6 L206.0,163.6 L207.0,163.6 L208.0,164.1 L209.0,164.8 L210.0,165.2 L211.0,164.6 L212.0,163.8 L213.0,163.6 L214.0,163.8 L215.0,164.5 L216.0,165.0 L217.0,165.5 L218.0,164.4 L219.0,163.8 L220.0,163.6 L221.0,163.4 L222.0,164.4 L223.0,165.2 L224.0,165.1 L225.0,164.3 L226.0,163.6 L227.0,163.7 L228.0,163.8 L229.0,164.4 L230.0,164.9 L231.0,165.2 L232.0,164.3 L233.0,163.7 L234.0,163.9 L235.0,164.0 L236.0,164.5 L237.0,165.1 L238.0,165.3 L239.0,164.2 L240.0,164.0 L241.0,163.9 L242.0,163.7 L243.0,164.3 L244.0,164.9 L245.0,165.3 L246.0,164.5 L246.0,163.7" fill="none" stroke="#c49aa8" stroke-width="1.6" stroke-linejoin="round" />
<rect x="203.4" y="169" width="3" height="14.400000000000006" fill="#0d0d0d"/>
<rect x="161.5" y="208" width="30.5" height="2" fill="#262222"/>
</g>
<clipPath id="hc8"><rect x="247" y="143" width="84" height="68.5"/></clipPath>
<g clip-path="url(#hc8)">
<rect x="247" y="143" width="84" height="68.5" fill="#ece5e5"/>
<path d="M246.0,207.0 L247.0,207.1 L248.0,206.8 L249.0,206.9 L250.0,207.0 L251.0,206.8 L252.0,207.1 L253.0,207.3 L254.0,207.5 L255.0,207.7 L256.0,207.3 L257.0,207.5 L258.0,207.5 L259.0,207.2 L260.0,206.9 L261.0,207.3 L262.0,206.7 L263.0,207.2 L264.0,206.7 L265.0,207.3 L266.0,207.7 L267.0,207.8 L268.0,207.8 L269.0,207.6 L270.0,207.9 L271.0,207.8 L272.0,207.4 L273.0,207.1 L274.0,207.2 L275.0,206.9 L276.0,207.3 L277.0,207.2 L278.0,207.2 L279.0,207.2 L280.0,207.6 L281.0,207.8 L282.0,207.6 L283.0,207.6 L284.0,207.3 L285.0,207.3 L286.0,207.1 L287.0,207.3 L288.0,207.2 L289.0,207.1 L290.0,207.4 L291.0,206.9 L292.0,207.7 L293.0,207.9 L294.0,207.7 L295.0,207.4 L296.0,207.4 L297.0,207.2 L298.0,207.6 L299.0,206.9 L300.0,207.0 L301.0,206.5 L302.0,207.0 L303.0,207.1 L304.0,207.0 L305.0,207.2 L306.0,207.3 L307.0,207.4 L308.0,207.9 L309.0,207.6 L310.0,207.7 L311.0,207.3 L312.0,207.4 L313.0,206.9 L314.0,206.9 L315.0,207.0 L316.0,207.1 L317.0,207.2 L318.0,207.2 L319.0,207.7 L320.0,207.7 L321.0,207.3 L322.0,207.8 L323.0,207.1 L324.0,207.1 L325.0,206.8 L326.0,206.9 L327.0,206.7 L328.0,206.6 L329.0,206.8 L330.0,207.4 L331.0,207.1 L332.0,207.5 L332.0,208.0 L332.0,213.5 L332.0,213.5 L331.0,213.5 L330.0,213.5 L329.0,213.5 L328.0,213.5 L327.0,213.5 L326.0,213.5 L325.0,213.5 L324.0,213.5 L323.0,213.5 L322.0,213.5 L321.0,213.5 L320.0,213.5 L319.0,213.5 L318.0,213.5 L317.0,213.5 L316.0,213.5 L315.0,213.5 L314.0,213.5 L313.0,213.5 L312.0,213.5 L311.0,213.5 L310.0,213.5 L309.0,213.5 L308.0,213.5 L307.0,213.5 L306.0,213.5 L305.0,213.5 L304.0,213.5 L303.0,213.5 L302.0,213.5 L301.0,213.5 L300.0,213.5 L299.0,213.5 L298.0,213.5 L297.0,213.5 L296.0,213.5 L295.0,213.5 L294.0,213.5 L293.0,213.5 L292.0,213.5 L291.0,213.5 L290.0,213.5 L289.0,213.5 L288.0,213.5 L287.0,213.5 L286.0,213.5 L285.0,213.5 L284.0,213.5 L283.0,213.5 L282.0,213.5 L281.0,213.5 L280.0,213.5 L279.0,213.5 L278.0,213.5 L277.0,213.5 L276.0,213.5 L275.0,213.5 L274.0,213.5 L273.0,213.5 L272.0,213.5 L271.0,213.5 L270.0,213.5 L269.0,213.5 L268.0,213.5 L267.0,213.5 L266.0,213.5 L265.0,213.5 L264.0,213.5 L263.0,213.5 L262.0,213.5 L261.0,213.5 L260.0,213.5 L259.0,213.5 L258.0,213.5 L257.0,213.5 L256.0,213.5 L255.0,213.5 L254.0,213.5 L253.0,213.5 L252.0,213.5 L251.0,213.5 L250.0,213.5 L249.0,213.5 L248.0,213.5 L247.0,213.5 L246.0,213.5 Z" fill="#f0e9eb" filter="url(#tw2)"/>
<path d="M246.0,194.6 L247.0,194.9 L248.0,194.4 L249.0,194.3 L250.0,194.6 L251.0,194.8 L252.0,194.4 L253.0,194.9 L254.0,195.4 L255.0,195.1 L256.0,195.1 L257.0,195.8 L258.0,195.4 L259.0,195.6 L260.0,194.8 L261.0,195.0 L262.0,194.9 L263.0,194.3 L264.0,194.7 L265.0,194.5 L266.0,194.8 L267.0,194.9 L268.0,195.1 L269.0,195.5 L270.0,195.6 L271.0,195.8 L272.0,195.2 L273.0,195.1 L274.0,195.4 L275.0,194.9 L276.0,194.8 L277.0,194.7 L278.0,194.9 L279.0,194.2 L280.0,194.9 L281.0,194.5 L282.0,195.1 L283.0,194.9 L284.0,195.2 L285.0,195.1 L286.0,195.5 L287.0,195.4 L288.0,195.6 L289.0,195.0 L290.0,195.2 L291.0,195.2 L292.0,194.8 L293.0,194.7 L294.0,194.5 L295.0,194.2 L296.0,194.7 L297.0,194.4 L298.0,194.7 L299.0,195.4 L300.0,195.3 L301.0,195.5 L302.0,195.6 L303.0,195.6 L304.0,195.3 L305.0,195.3 L306.0,194.7 L307.0,195.0 L308.0,194.3 L309.0,194.2 L310.0,194.5 L311.0,194.4 L312.0,194.9 L313.0,195.2 L314.0,195.1 L315.0,195.0 L316.0,195.1 L317.0,195.4 L318.0,195.8 L319.0,195.4 L320.0,195.5 L321.0,195.2 L322.0,195.0 L323.0,194.8 L324.0,194.2 L325.0,194.5 L326.0,194.5 L327.0,194.6 L328.0,195.2 L329.0,195.1 L330.0,195.5 L331.0,195.6 L332.0,195.3 L332.0,195.5 L332.0,208.0 L332.0,207.5 L331.0,207.1 L330.0,207.4 L329.0,206.8 L328.0,206.6 L327.0,206.7 L326.0,206.9 L325.0,206.8 L324.0,207.1 L323.0,207.1 L322.0,207.8 L321.0,207.3 L320.0,207.7 L319.0,207.7 L318.0,207.2 L317.0,207.2 L316.0,207.1 L315.0,207.0 L314.0,206.9 L313.0,206.9 L312.0,207.4 L311.0,207.3 L310.0,207.7 L309.0,207.6 L308.0,207.9 L307.0,207.4 L306.0,207.3 L305.0,207.2 L304.0,207.0 L303.0,207.1 L302.0,207.0 L301.0,206.5 L300.0,207.0 L299.0,206.9 L298.0,207.6 L297.0,207.2 L296.0,207.4 L295.0,207.4 L294.0,207.7 L293.0,207.9 L292.0,207.7 L291.0,206.9 L290.0,207.4 L289.0,207.1 L288.0,207.2 L287.0,207.3 L286.0,207.1 L285.0,207.3 L284.0,207.3 L283.0,207.6 L282.0,207.6 L281.0,207.8 L280.0,207.6 L279.0,207.2 L278.0,207.2 L277.0,207.2 L276.0,207.3 L275.0,206.9 L274.0,207.2 L273.0,207.1 L272.0,207.4 L271.0,207.8 L270.0,207.9 L269.0,207.6 L268.0,207.8 L267.0,207.8 L266.0,207.7 L265.0,207.3 L264.0,206.7 L263.0,207.2 L262.0,206.7 L261.0,207.3 L260.0,206.9 L259.0,207.2 L258.0,207.5 L257.0,207.5 L256.0,207.3 L255.0,207.7 L254.0,207.5 L253.0,207.3 L252.0,207.1 L251.0,206.8 L250.0,207.0 L249.0,206.9 L248.0,206.8 L247.0,207.1 L246.0,207.0 Z" fill="#e28a9b" filter="url(#tw2)"/>
<path d="M247,200 L331,199" stroke="#f6e4e8" stroke-width="1.0" stroke-linecap="round" opacity="0.55"/>
<path d="M290,196 L292,207" stroke="#f6e4e8" stroke-width="0.8" stroke-linecap="round" opacity="0.55"/>
<path d="M246.0,190.7 L247.0,191.7 L248.0,190.6 L249.0,190.2 L250.0,189.3 L251.0,190.3 L252.0,190.1 L253.0,190.7 L254.0,191.4 L255.0,191.5 L256.0,190.5 L257.0,191.2 L258.0,190.6 L259.0,190.2 L260.0,190.4 L261.0,190.8 L262.0,190.5 L263.0,191.5 L264.0,191.2 L265.0,191.7 L266.0,191.0 L267.0,190.6 L268.0,190.3 L269.0,189.7 L270.0,190.1 L271.0,190.5 L272.0,190.9 L273.0,191.3 L274.0,191.8 L275.0,190.7 L276.0,190.2 L277.0,190.5 L278.0,190.4 L279.0,190.3 L280.0,191.6 L281.0,191.8 L282.0,191.7 L283.0,191.1 L284.0,191.2 L285.0,190.4 L286.0,190.6 L287.0,190.9 L288.0,190.5 L289.0,190.8 L290.0,191.8 L291.0,192.2 L292.0,191.2 L293.0,191.8 L294.0,191.4 L295.0,191.2 L296.0,190.3 L297.0,190.4 L298.0,191.6 L299.0,191.8 L300.0,192.5 L301.0,191.6 L302.0,191.9 L303.0,191.7 L304.0,190.9 L305.0,190.9 L306.0,190.8 L307.0,191.8 L308.0,192.6 L309.0,192.5 L310.0,192.6 L311.0,191.2 L312.0,191.2 L313.0,190.5 L314.0,191.3 L315.0,191.5 L316.0,192.3 L317.0,191.9 L318.0,193.0 L319.0,192.7 L320.0,192.2 L321.0,191.9 L322.0,191.5 L323.0,191.0 L324.0,191.3 L325.0,192.4 L326.0,191.8 L327.0,192.0 L328.0,192.6 L329.0,192.0 L330.0,191.2 L331.0,190.7 L332.0,190.8 L332.0,191.7 L332.0,195.5 L332.0,195.3 L331.0,195.6 L330.0,195.5 L329.0,195.1 L328.0,195.2 L327.0,194.6 L326.0,194.5 L325.0,194.5 L324.0,194.2 L323.0,194.8 L322.0,195.0 L321.0,195.2 L320.0,195.5 L319.0,195.4 L318.0,195.8 L317.0,195.4 L316.0,195.1 L315.0,195.0 L314.0,195.1 L313.0,195.2 L312.0,194.9 L311.0,194.4 L310.0,194.5 L309.0,194.2 L308.0,194.3 L307.0,195.0 L306.0,194.7 L305.0,195.3 L304.0,195.3 L303.0,195.6 L302.0,195.6 L301.0,195.5 L300.0,195.3 L299.0,195.4 L298.0,194.7 L297.0,194.4 L296.0,194.7 L295.0,194.2 L294.0,194.5 L293.0,194.7 L292.0,194.8 L291.0,195.2 L290.0,195.2 L289.0,195.0 L288.0,195.6 L287.0,195.4 L286.0,195.5 L285.0,195.1 L284.0,195.2 L283.0,194.9 L282.0,195.1 L281.0,194.5 L280.0,194.9 L279.0,194.2 L278.0,194.9 L277.0,194.7 L276.0,194.8 L275.0,194.9 L274.0,195.4 L273.0,195.1 L272.0,195.2 L271.0,195.8 L270.0,195.6 L269.0,195.5 L268.0,195.1 L267.0,194.9 L266.0,194.8 L265.0,194.5 L264.0,194.7 L263.0,194.3 L262.0,194.9 L261.0,195.0 L260.0,194.8 L259.0,195.6 L258.0,195.4 L257.0,195.8 L256.0,195.1 L255.0,195.1 L254.0,195.4 L253.0,194.9 L252.0,194.4 L251.0,194.8 L250.0,194.6 L249.0,194.3 L248.0,194.4 L247.0,194.9 L246.0,194.6 Z" fill="#f2eeef" filter="url(#tw2)"/>
<clipPath id="bc8"><path d="M246.0,169.0 L247.0,169.1 L248.0,168.2 L249.0,167.0 L250.0,166.2 L251.0,166.4 L252.0,166.5 L253.0,167.9 L254.0,168.6 L255.0,168.9 L256.0,167.9 L257.0,166.5 L258.0,166.1 L259.0,166.1 L260.0,166.5 L261.0,167.4 L262.0,168.5 L263.0,168.2 L264.0,167.2 L265.0,167.0 L266.0,166.8 L267.0,166.0 L268.0,166.6 L269.0,167.3 L270.0,168.0 L271.0,167.6 L272.0,167.0 L273.0,166.3 L274.0,165.8 L275.0,165.8 L276.0,166.5 L277.0,166.8 L278.0,167.6 L279.0,167.8 L280.0,166.3 L281.0,165.7 L282.0,165.5 L283.0,165.2 L284.0,165.8 L285.0,166.0 L286.0,167.2 L287.0,167.3 L288.0,166.4 L289.0,165.5 L290.0,165.4 L291.0,165.4 L292.0,165.8 L293.0,166.2 L294.0,166.9 L295.0,167.4 L296.0,166.7 L297.0,165.6 L298.0,165.1 L299.0,165.2 L300.0,165.5 L301.0,166.0 L302.0,167.4 L303.0,167.7 L304.0,166.7 L305.0,165.6 L306.0,164.9 L307.0,164.8 L308.0,165.3 L309.0,166.6 L310.0,167.9 L311.0,168.4 L312.0,166.3 L313.0,165.3 L314.0,165.0 L315.0,164.3 L316.0,165.2 L317.0,166.8 L318.0,168.1 L319.0,168.0 L320.0,166.9 L321.0,166.1 L322.0,166.1 L323.0,165.7 L324.0,166.4 L325.0,166.9 L326.0,168.0 L327.0,167.7 L328.0,167.1 L329.0,166.1 L330.0,166.2 L331.0,165.7 L332.0,166.1 L332.0,167.0 L332.0,191.7 L332.0,190.8 L331.0,190.7 L330.0,191.2 L329.0,192.0 L328.0,192.6 L327.0,192.0 L326.0,191.8 L325.0,192.4 L324.0,191.3 L323.0,191.0 L322.0,191.5 L321.0,191.9 L320.0,192.2 L319.0,192.7 L318.0,193.0 L317.0,191.9 L316.0,192.3 L315.0,191.5 L314.0,191.3 L313.0,190.5 L312.0,191.2 L311.0,191.2 L310.0,192.6 L309.0,192.5 L308.0,192.6 L307.0,191.8 L306.0,190.8 L305.0,190.9 L304.0,190.9 L303.0,191.7 L302.0,191.9 L301.0,191.6 L300.0,192.5 L299.0,191.8 L298.0,191.6 L297.0,190.4 L296.0,190.3 L295.0,191.2 L294.0,191.4 L293.0,191.8 L292.0,191.2 L291.0,192.2 L290.0,191.8 L289.0,190.8 L288.0,190.5 L287.0,190.9 L286.0,190.6 L285.0,190.4 L284.0,191.2 L283.0,191.1 L282.0,191.7 L281.0,191.8 L280.0,191.6 L279.0,190.3 L278.0,190.4 L277.0,190.5 L276.0,190.2 L275.0,190.7 L274.0,191.8 L273.0,191.3 L272.0,190.9 L271.0,190.5 L270.0,190.1 L269.0,189.7 L268.0,190.3 L267.0,190.6 L266.0,191.0 L265.0,191.7 L264.0,191.2 L263.0,191.5 L262.0,190.5 L261.0,190.8 L260.0,190.4 L259.0,190.2 L258.0,190.6 L257.0,191.2 L256.0,190.5 L255.0,191.5 L254.0,191.4 L253.0,190.7 L252.0,190.1 L251.0,190.3 L250.0,189.3 L249.0,190.2 L248.0,190.6 L247.0,191.7 L246.0,190.7 Z"/></clipPath>
<g filter="url(#tx2)">
<path d="M246.0,169.0 L247.0,169.1 L248.0,168.2 L249.0,167.0 L250.0,166.2 L251.0,166.4 L252.0,166.5 L253.0,167.9 L254.0,168.6 L255.0,168.9 L256.0,167.9 L257.0,166.5 L258.0,166.1 L259.0,166.1 L260.0,166.5 L261.0,167.4 L262.0,168.5 L263.0,168.2 L264.0,167.2 L265.0,167.0 L266.0,166.8 L267.0,166.0 L268.0,166.6 L269.0,167.3 L270.0,168.0 L271.0,167.6 L272.0,167.0 L273.0,166.3 L274.0,165.8 L275.0,165.8 L276.0,166.5 L277.0,166.8 L278.0,167.6 L279.0,167.8 L280.0,166.3 L281.0,165.7 L282.0,165.5 L283.0,165.2 L284.0,165.8 L285.0,166.0 L286.0,167.2 L287.0,167.3 L288.0,166.4 L289.0,165.5 L290.0,165.4 L291.0,165.4 L292.0,165.8 L293.0,166.2 L294.0,166.9 L295.0,167.4 L296.0,166.7 L297.0,165.6 L298.0,165.1 L299.0,165.2 L300.0,165.5 L301.0,166.0 L302.0,167.4 L303.0,167.7 L304.0,166.7 L305.0,165.6 L306.0,164.9 L307.0,164.8 L308.0,165.3 L309.0,166.6 L310.0,167.9 L311.0,168.4 L312.0,166.3 L313.0,165.3 L314.0,165.0 L315.0,164.3 L316.0,165.2 L317.0,166.8 L318.0,168.1 L319.0,168.0 L320.0,166.9 L321.0,166.1 L322.0,166.1 L323.0,165.7 L324.0,166.4 L325.0,166.9 L326.0,168.0 L327.0,167.7 L328.0,167.1 L329.0,166.1 L330.0,166.2 L331.0,165.7 L332.0,166.1 L332.0,167.0 L332.0,191.7 L332.0,190.8 L331.0,190.7 L330.0,191.2 L329.0,192.0 L328.0,192.6 L327.0,192.0 L326.0,191.8 L325.0,192.4 L324.0,191.3 L323.0,191.0 L322.0,191.5 L321.0,191.9 L320.0,192.2 L319.0,192.7 L318.0,193.0 L317.0,191.9 L316.0,192.3 L315.0,191.5 L314.0,191.3 L313.0,190.5 L312.0,191.2 L311.0,191.2 L310.0,192.6 L309.0,192.5 L308.0,192.6 L307.0,191.8 L306.0,190.8 L305.0,190.9 L304.0,190.9 L303.0,191.7 L302.0,191.9 L301.0,191.6 L300.0,192.5 L299.0,191.8 L298.0,191.6 L297.0,190.4 L296.0,190.3 L295.0,191.2 L294.0,191.4 L293.0,191.8 L292.0,191.2 L291.0,192.2 L290.0,191.8 L289.0,190.8 L288.0,190.5 L287.0,190.9 L286.0,190.6 L285.0,190.4 L284.0,191.2 L283.0,191.1 L282.0,191.7 L281.0,191.8 L280.0,191.6 L279.0,190.3 L278.0,190.4 L277.0,190.5 L276.0,190.2 L275.0,190.7 L274.0,191.8 L273.0,191.3 L272.0,190.9 L271.0,190.5 L270.0,190.1 L269.0,189.7 L268.0,190.3 L267.0,190.6 L266.0,191.0 L265.0,191.7 L264.0,191.2 L263.0,191.5 L262.0,190.5 L261.0,190.8 L260.0,190.4 L259.0,190.2 L258.0,190.6 L257.0,191.2 L256.0,190.5 L255.0,191.5 L254.0,191.4 L253.0,190.7 L252.0,190.1 L251.0,190.3 L250.0,189.3 L249.0,190.2 L248.0,190.6 L247.0,191.7 L246.0,190.7 Z" fill="#6a9cc9" />
<g clip-path="url(#bc8)">
<path d="M303.9,177.5 L298.9,186.6" stroke="#d88a9c" stroke-width="2.5" stroke-linecap="round" opacity="0.85"/>
<path d="M320,175 L326,183" stroke="#c890a8" stroke-width="2" stroke-linecap="round" opacity="0.85"/>
</g>
</g>
<path d="M246.0,169.5 L247.0,169.7 L248.0,168.7 L249.0,167.5 L250.0,166.8 L251.0,167.0 L252.0,167.1 L253.0,168.4 L254.0,169.1 L255.0,169.5 L256.0,168.5 L257.0,167.1 L258.0,166.6 L259.0,166.6 L260.0,167.0 L261.0,167.9 L262.0,169.0 L263.0,168.7 L264.0,167.8 L265.0,167.6 L266.0,167.3 L267.0,166.6 L268.0,167.2 L269.0,167.8 L270.0,168.6 L271.0,168.2 L272.0,167.5 L273.0,166.8 L274.0,166.3 L275.0,166.4 L276.0,167.1 L277.0,167.4 L278.0,168.2 L279.0,168.4 L280.0,166.8 L281.0,166.2 L282.0,166.0 L283.0,165.7 L284.0,166.3 L285.0,166.5 L286.0,167.8 L287.0,167.9 L288.0,167.0 L289.0,166.1 L290.0,166.0 L291.0,166.0 L292.0,166.4 L293.0,166.8 L294.0,167.5 L295.0,167.9 L296.0,167.3 L297.0,166.2 L298.0,165.6 L299.0,165.8 L300.0,166.1 L301.0,166.6 L302.0,167.9 L303.0,168.3 L304.0,167.3 L305.0,166.2 L306.0,165.4 L307.0,165.3 L308.0,165.9 L309.0,167.1 L310.0,168.5 L311.0,168.9 L312.0,166.9 L313.0,165.9 L314.0,165.5 L315.0,164.8 L316.0,165.7 L317.0,167.3 L318.0,168.7 L319.0,168.5 L320.0,167.4 L321.0,166.6 L322.0,166.7 L323.0,166.3 L324.0,166.9 L325.0,167.5 L326.0,168.5 L327.0,168.3 L328.0,167.7 L329.0,166.6 L330.0,166.8 L331.0,166.3 L332.0,166.7 L332.0,167.6" fill="none" stroke="#b58595" stroke-width="1.6" stroke-linejoin="round" />
<rect x="276.9" y="170.7" width="3" height="21.100000000000023" fill="#0d0d0d"/>
<rect x="248" y="208" width="30" height="2" fill="#262222"/>
</g>
<clipPath id="hc9"><rect x="334" y="143" width="84" height="68.5"/></clipPath>
<g clip-path="url(#hc9)">
<rect x="334" y="143" width="84" height="68.5" fill="#ece5e5"/>
<path d="M333.0,205.6 L334.0,205.5 L335.0,206.2 L336.0,206.4 L337.0,205.8 L338.0,205.5 L339.0,205.5 L340.0,205.4 L341.0,204.9 L342.0,205.1 L343.0,205.0 L344.0,205.7 L345.0,205.8 L346.0,205.5 L347.0,206.2 L348.0,206.2 L349.0,205.8 L350.0,205.7 L351.0,205.4 L352.0,205.5 L353.0,205.6 L354.0,205.1 L355.0,205.3 L356.0,205.5 L357.0,205.3 L358.0,205.7 L359.0,205.8 L360.0,205.9 L361.0,206.3 L362.0,205.9 L363.0,205.9 L364.0,205.9 L365.0,205.4 L366.0,205.8 L367.0,205.1 L368.0,204.8 L369.0,205.3 L370.0,205.4 L371.0,205.2 L372.0,205.6 L373.0,205.9 L374.0,205.7 L375.0,206.2 L376.0,205.8 L377.0,205.8 L378.0,205.5 L379.0,205.7 L380.0,205.6 L381.0,205.1 L382.0,205.6 L383.0,205.8 L384.0,205.5 L385.0,205.8 L386.0,206.2 L387.0,206.3 L388.0,205.7 L389.0,205.8 L390.0,205.8 L391.0,205.7 L392.0,205.8 L393.0,205.0 L394.0,205.5 L395.0,204.9 L396.0,205.4 L397.0,205.1 L398.0,205.4 L399.0,206.2 L400.0,205.7 L401.0,206.2 L402.0,206.0 L403.0,206.0 L404.0,206.0 L405.0,205.6 L406.0,205.6 L407.0,205.0 L408.0,205.6 L409.0,205.3 L410.0,205.6 L411.0,206.1 L412.0,205.8 L413.0,206.3 L414.0,206.2 L415.0,206.0 L416.0,205.6 L417.0,205.4 L418.0,205.5 L419.0,205.6 L419.0,205.4 L419.0,213.5 L419.0,213.5 L418.0,213.5 L417.0,213.5 L416.0,213.5 L415.0,213.5 L414.0,213.5 L413.0,213.5 L412.0,213.5 L411.0,213.5 L410.0,213.5 L409.0,213.5 L408.0,213.5 L407.0,213.5 L406.0,213.5 L405.0,213.5 L404.0,213.5 L403.0,213.5 L402.0,213.5 L401.0,213.5 L400.0,213.5 L399.0,213.5 L398.0,213.5 L397.0,213.5 L396.0,213.5 L395.0,213.5 L394.0,213.5 L393.0,213.5 L392.0,213.5 L391.0,213.5 L390.0,213.5 L389.0,213.5 L388.0,213.5 L387.0,213.5 L386.0,213.5 L385.0,213.5 L384.0,213.5 L383.0,213.5 L382.0,213.5 L381.0,213.5 L380.0,213.5 L379.0,213.5 L378.0,213.5 L377.0,213.5 L376.0,213.5 L375.0,213.5 L374.0,213.5 L373.0,213.5 L372.0,213.5 L371.0,213.5 L370.0,213.5 L369.0,213.5 L368.0,213.5 L367.0,213.5 L366.0,213.5 L365.0,213.5 L364.0,213.5 L363.0,213.5 L362.0,213.5 L361.0,213.5 L360.0,213.5 L359.0,213.5 L358.0,213.5 L357.0,213.5 L356.0,213.5 L355.0,213.5 L354.0,213.5 L353.0,213.5 L352.0,213.5 L351.0,213.5 L350.0,213.5 L349.0,213.5 L348.0,213.5 L347.0,213.5 L346.0,213.5 L345.0,213.5 L344.0,213.5 L343.0,213.5 L342.0,213.5 L341.0,213.5 L340.0,213.5 L339.0,213.5 L338.0,213.5 L337.0,213.5 L336.0,213.5 L335.0,213.5 L334.0,213.5 L333.0,213.5 Z" fill="#efe9eb" filter="url(#tw0)"/>
<path d="M333.0,197.6 L334.0,197.8 L335.0,198.5 L336.0,198.2 L337.0,198.7 L338.0,198.9 L339.0,198.7 L340.0,198.8 L341.0,198.3 L342.0,197.9 L343.0,197.9 L344.0,197.4 L345.0,197.8 L346.0,197.5 L347.0,197.6 L348.0,197.6 L349.0,197.9 L350.0,198.8 L351.0,198.3 L352.0,198.6 L353.0,198.5 L354.0,198.9 L355.0,198.5 L356.0,198.2 L357.0,197.9 L358.0,197.9 L359.0,198.0 L360.0,197.9 L361.0,197.6 L362.0,197.8 L363.0,197.7 L364.0,198.5 L365.0,198.7 L366.0,198.2 L367.0,198.6 L368.0,199.0 L369.0,198.2 L370.0,198.4 L371.0,198.3 L372.0,198.2 L373.0,198.2 L374.0,197.6 L375.0,197.6 L376.0,197.3 L377.0,197.9 L378.0,197.9 L379.0,198.2 L380.0,198.1 L381.0,198.2 L382.0,198.9 L383.0,198.8 L384.0,198.6 L385.0,198.2 L386.0,198.7 L387.0,198.3 L388.0,197.9 L389.0,198.1 L390.0,197.5 L391.0,198.0 L392.0,197.5 L393.0,198.2 L394.0,198.6 L395.0,198.8 L396.0,198.7 L397.0,198.6 L398.0,198.8 L399.0,198.5 L400.0,198.3 L401.0,198.1 L402.0,198.4 L403.0,198.2 L404.0,198.1 L405.0,197.8 L406.0,197.6 L407.0,197.6 L408.0,197.6 L409.0,198.1 L410.0,198.1 L411.0,198.5 L412.0,198.5 L413.0,198.3 L414.0,198.8 L415.0,198.2 L416.0,198.1 L417.0,197.7 L418.0,197.7 L419.0,197.6 L419.0,197.4 L419.0,205.4 L419.0,205.6 L418.0,205.5 L417.0,205.4 L416.0,205.6 L415.0,206.0 L414.0,206.2 L413.0,206.3 L412.0,205.8 L411.0,206.1 L410.0,205.6 L409.0,205.3 L408.0,205.6 L407.0,205.0 L406.0,205.6 L405.0,205.6 L404.0,206.0 L403.0,206.0 L402.0,206.0 L401.0,206.2 L400.0,205.7 L399.0,206.2 L398.0,205.4 L397.0,205.1 L396.0,205.4 L395.0,204.9 L394.0,205.5 L393.0,205.0 L392.0,205.8 L391.0,205.7 L390.0,205.8 L389.0,205.8 L388.0,205.7 L387.0,206.3 L386.0,206.2 L385.0,205.8 L384.0,205.5 L383.0,205.8 L382.0,205.6 L381.0,205.1 L380.0,205.6 L379.0,205.7 L378.0,205.5 L377.0,205.8 L376.0,205.8 L375.0,206.2 L374.0,205.7 L373.0,205.9 L372.0,205.6 L371.0,205.2 L370.0,205.4 L369.0,205.3 L368.0,204.8 L367.0,205.1 L366.0,205.8 L365.0,205.4 L364.0,205.9 L363.0,205.9 L362.0,205.9 L361.0,206.3 L360.0,205.9 L359.0,205.8 L358.0,205.7 L357.0,205.3 L356.0,205.5 L355.0,205.3 L354.0,205.1 L353.0,205.6 L352.0,205.5 L351.0,205.4 L350.0,205.7 L349.0,205.8 L348.0,206.2 L347.0,206.2 L346.0,205.5 L345.0,205.8 L344.0,205.7 L343.0,205.0 L342.0,205.1 L341.0,204.9 L340.0,205.4 L339.0,205.5 L338.0,205.5 L337.0,205.8 L336.0,206.4 L335.0,206.2 L334.0,205.5 L333.0,205.6 Z" fill="#e26c82" filter="url(#tw0)"/>
<path d="M334,201 L418,202" stroke="#f5d8de" stroke-width="1.0" stroke-linecap="round" opacity="0.55"/>
<path d="M334,203.5 L418,203" stroke="#f5d8de" stroke-width="0.8" stroke-linecap="round" opacity="0.55"/>
<path d="M333.0,194.2 L334.0,193.9 L335.0,194.2 L336.0,194.3 L337.0,194.9 L338.0,195.3 L339.0,195.0 L340.0,194.9 L341.0,194.4 L342.0,194.4 L343.0,194.0 L344.0,194.5 L345.0,194.6 L346.0,195.3 L347.0,195.7 L348.0,194.7 L349.0,195.2 L350.0,194.2 L351.0,193.7 L352.0,194.3 L353.0,194.2 L354.0,194.9 L355.0,195.3 L356.0,196.1 L357.0,196.0 L358.0,195.0 L359.0,194.2 L360.0,194.3 L361.0,194.0 L362.0,194.9 L363.0,194.6 L364.0,195.3 L365.0,196.2 L366.0,195.6 L367.0,195.1 L368.0,194.7 L369.0,194.4 L370.0,194.5 L371.0,195.2 L372.0,195.5 L373.0,196.1 L374.0,195.7 L375.0,195.9 L376.0,196.0 L377.0,194.6 L378.0,194.6 L379.0,194.9 L380.0,194.8 L381.0,195.6 L382.0,195.1 L383.0,195.5 L384.0,195.7 L385.0,195.8 L386.0,195.3 L387.0,194.5 L388.0,194.2 L389.0,194.7 L390.0,195.2 L391.0,194.9 L392.0,195.2 L393.0,194.9 L394.0,194.8 L395.0,194.4 L396.0,194.4 L397.0,193.6 L398.0,194.2 L399.0,193.7 L400.0,194.3 L401.0,195.2 L402.0,195.1 L403.0,194.3 L404.0,193.6 L405.0,193.4 L406.0,193.4 L407.0,193.2 L408.0,193.2 L409.0,194.0 L410.0,194.2 L411.0,194.5 L412.0,193.6 L413.0,193.9 L414.0,193.3 L415.0,192.4 L416.0,192.7 L417.0,193.6 L418.0,193.6 L419.0,194.1 L419.0,194.6 L419.0,197.4 L419.0,197.6 L418.0,197.7 L417.0,197.7 L416.0,198.1 L415.0,198.2 L414.0,198.8 L413.0,198.3 L412.0,198.5 L411.0,198.5 L410.0,198.1 L409.0,198.1 L408.0,197.6 L407.0,197.6 L406.0,197.6 L405.0,197.8 L404.0,198.1 L403.0,198.2 L402.0,198.4 L401.0,198.1 L400.0,198.3 L399.0,198.5 L398.0,198.8 L397.0,198.6 L396.0,198.7 L395.0,198.8 L394.0,198.6 L393.0,198.2 L392.0,197.5 L391.0,198.0 L390.0,197.5 L389.0,198.1 L388.0,197.9 L387.0,198.3 L386.0,198.7 L385.0,198.2 L384.0,198.6 L383.0,198.8 L382.0,198.9 L381.0,198.2 L380.0,198.1 L379.0,198.2 L378.0,197.9 L377.0,197.9 L376.0,197.3 L375.0,197.6 L374.0,197.6 L373.0,198.2 L372.0,198.2 L371.0,198.3 L370.0,198.4 L369.0,198.2 L368.0,199.0 L367.0,198.6 L366.0,198.2 L365.0,198.7 L364.0,198.5 L363.0,197.7 L362.0,197.8 L361.0,197.6 L360.0,197.9 L359.0,198.0 L358.0,197.9 L357.0,197.9 L356.0,198.2 L355.0,198.5 L354.0,198.9 L353.0,198.5 L352.0,198.6 L351.0,198.3 L350.0,198.8 L349.0,197.9 L348.0,197.6 L347.0,197.6 L346.0,197.5 L345.0,197.8 L344.0,197.4 L343.0,197.9 L342.0,197.9 L341.0,198.3 L340.0,198.8 L339.0,198.7 L338.0,198.9 L337.0,198.7 L336.0,198.2 L335.0,198.5 L334.0,197.8 L333.0,197.6 Z" fill="#f1eef0" filter="url(#tw0)"/>
<clipPath id="bc9"><path d="M333.0,177.4 L334.0,178.9 L335.0,178.5 L336.0,177.0 L337.0,176.1 L338.0,176.8 L339.0,178.0 L340.0,178.6 L341.0,178.2 L342.0,177.5 L343.0,176.1 L344.0,176.7 L345.0,177.8 L346.0,179.1 L347.0,178.3 L348.0,177.7 L349.0,176.1 L350.0,176.7 L351.0,177.8 L352.0,178.9 L353.0,178.6 L354.0,177.9 L355.0,176.6 L356.0,176.9 L357.0,178.0 L358.0,179.2 L359.0,179.1 L360.0,177.4 L361.0,177.0 L362.0,176.7 L363.0,178.2 L364.0,178.9 L365.0,178.8 L366.0,178.0 L367.0,177.0 L368.0,177.2 L369.0,178.2 L370.0,179.2 L371.0,179.0 L372.0,177.7 L373.0,176.9 L374.0,176.9 L375.0,177.9 L376.0,179.3 L377.0,178.9 L378.0,177.9 L379.0,176.9 L380.0,177.2 L381.0,177.8 L382.0,179.0 L383.0,179.0 L384.0,177.1 L385.0,176.4 L386.0,176.3 L387.0,177.6 L388.0,178.7 L389.0,178.3 L390.0,176.7 L391.0,175.7 L392.0,175.7 L393.0,177.2 L394.0,177.9 L395.0,177.5 L396.0,176.7 L397.0,175.4 L398.0,175.6 L399.0,177.0 L400.0,177.8 L401.0,177.7 L402.0,176.2 L403.0,175.2 L404.0,175.1 L405.0,176.5 L406.0,177.0 L407.0,176.7 L408.0,175.2 L409.0,174.5 L410.0,174.1 L411.0,175.4 L412.0,176.0 L413.0,175.4 L414.0,174.4 L415.0,173.3 L416.0,173.1 L417.0,174.6 L418.0,175.3 L419.0,175.0 L419.0,174.0 L419.0,194.6 L419.0,194.1 L418.0,193.6 L417.0,193.6 L416.0,192.7 L415.0,192.4 L414.0,193.3 L413.0,193.9 L412.0,193.6 L411.0,194.5 L410.0,194.2 L409.0,194.0 L408.0,193.2 L407.0,193.2 L406.0,193.4 L405.0,193.4 L404.0,193.6 L403.0,194.3 L402.0,195.1 L401.0,195.2 L400.0,194.3 L399.0,193.7 L398.0,194.2 L397.0,193.6 L396.0,194.4 L395.0,194.4 L394.0,194.8 L393.0,194.9 L392.0,195.2 L391.0,194.9 L390.0,195.2 L389.0,194.7 L388.0,194.2 L387.0,194.5 L386.0,195.3 L385.0,195.8 L384.0,195.7 L383.0,195.5 L382.0,195.1 L381.0,195.6 L380.0,194.8 L379.0,194.9 L378.0,194.6 L377.0,194.6 L376.0,196.0 L375.0,195.9 L374.0,195.7 L373.0,196.1 L372.0,195.5 L371.0,195.2 L370.0,194.5 L369.0,194.4 L368.0,194.7 L367.0,195.1 L366.0,195.6 L365.0,196.2 L364.0,195.3 L363.0,194.6 L362.0,194.9 L361.0,194.0 L360.0,194.3 L359.0,194.2 L358.0,195.0 L357.0,196.0 L356.0,196.1 L355.0,195.3 L354.0,194.9 L353.0,194.2 L352.0,194.3 L351.0,193.7 L350.0,194.2 L349.0,195.2 L348.0,194.7 L347.0,195.7 L346.0,195.3 L345.0,194.6 L344.0,194.5 L343.0,194.0 L342.0,194.4 L341.0,194.4 L340.0,194.9 L339.0,195.0 L338.0,195.3 L337.0,194.9 L336.0,194.3 L335.0,194.2 L334.0,193.9 L333.0,194.2 Z"/></clipPath>
<g filter="url(#tx0)">
<path d="M333.0,177.4 L334.0,178.9 L335.0,178.5 L336.0,177.0 L337.0,176.1 L338.0,176.8 L339.0,178.0 L340.0,178.6 L341.0,178.2 L342.0,177.5 L343.0,176.1 L344.0,176.7 L345.0,177.8 L346.0,179.1 L347.0,178.3 L348.0,177.7 L349.0,176.1 L350.0,176.7 L351.0,177.8 L352.0,178.9 L353.0,178.6 L354.0,177.9 L355.0,176.6 L356.0,176.9 L357.0,178.0 L358.0,179.2 L359.0,179.1 L360.0,177.4 L361.0,177.0 L362.0,176.7 L363.0,178.2 L364.0,178.9 L365.0,178.8 L366.0,178.0 L367.0,177.0 L368.0,177.2 L369.0,178.2 L370.0,179.2 L371.0,179.0 L372.0,177.7 L373.0,176.9 L374.0,176.9 L375.0,177.9 L376.0,179.3 L377.0,178.9 L378.0,177.9 L379.0,176.9 L380.0,177.2 L381.0,177.8 L382.0,179.0 L383.0,179.0 L384.0,177.1 L385.0,176.4 L386.0,176.3 L387.0,177.6 L388.0,178.7 L389.0,178.3 L390.0,176.7 L391.0,175.7 L392.0,175.7 L393.0,177.2 L394.0,177.9 L395.0,177.5 L396.0,176.7 L397.0,175.4 L398.0,175.6 L399.0,177.0 L400.0,177.8 L401.0,177.7 L402.0,176.2 L403.0,175.2 L404.0,175.1 L405.0,176.5 L406.0,177.0 L407.0,176.7 L408.0,175.2 L409.0,174.5 L410.0,174.1 L411.0,175.4 L412.0,176.0 L413.0,175.4 L414.0,174.4 L415.0,173.3 L416.0,173.1 L417.0,174.6 L418.0,175.3 L419.0,175.0 L419.0,174.0 L419.0,194.6 L419.0,194.1 L418.0,193.6 L417.0,193.6 L416.0,192.7 L415.0,192.4 L414.0,193.3 L413.0,193.9 L412.0,193.6 L411.0,194.5 L410.0,194.2 L409.0,194.0 L408.0,193.2 L407.0,193.2 L406.0,193.4 L405.0,193.4 L404.0,193.6 L403.0,194.3 L402.0,195.1 L401.0,195.2 L400.0,194.3 L399.0,193.7 L398.0,194.2 L397.0,193.6 L396.0,194.4 L395.0,194.4 L394.0,194.8 L393.0,194.9 L392.0,195.2 L391.0,194.9 L390.0,195.2 L389.0,194.7 L388.0,194.2 L387.0,194.5 L386.0,195.3 L385.0,195.8 L384.0,195.7 L383.0,195.5 L382.0,195.1 L381.0,195.6 L380.0,194.8 L379.0,194.9 L378.0,194.6 L377.0,194.6 L376.0,196.0 L375.0,195.9 L374.0,195.7 L373.0,196.1 L372.0,195.5 L371.0,195.2 L370.0,194.5 L369.0,194.4 L368.0,194.7 L367.0,195.1 L366.0,195.6 L365.0,196.2 L364.0,195.3 L363.0,194.6 L362.0,194.9 L361.0,194.0 L360.0,194.3 L359.0,194.2 L358.0,195.0 L357.0,196.0 L356.0,196.1 L355.0,195.3 L354.0,194.9 L353.0,194.2 L352.0,194.3 L351.0,193.7 L350.0,194.2 L349.0,195.2 L348.0,194.7 L347.0,195.7 L346.0,195.3 L345.0,194.6 L344.0,194.5 L343.0,194.0 L342.0,194.4 L341.0,194.4 L340.0,194.9 L339.0,195.0 L338.0,195.3 L337.0,194.9 L336.0,194.3 L335.0,194.2 L334.0,193.9 L333.0,194.2 Z" fill="#6b9bc8" />
<g clip-path="url(#bc9)">
<path d="M345,182 L355,192" stroke="#b890b0" stroke-width="2" stroke-linecap="round" opacity="0.85"/>
<path d="M365,181 L372,190" stroke="#b890b0" stroke-width="2" stroke-linecap="round" opacity="0.85"/>
<path d="M390,182 L400,192" stroke="#b890b0" stroke-width="2" stroke-linecap="round" opacity="0.85"/>
<path d="M410,181 L416,188" stroke="#c890a8" stroke-width="2" stroke-linecap="round" opacity="0.85"/>
</g>
</g>
<path d="M333.0,173.9 L334.0,174.2 L335.0,173.9 L336.0,173.2 L337.0,175.7 L338.0,176.2 L339.0,176.3 L340.0,174.3 L341.0,174.1 L342.0,173.9 L343.0,173.7 L344.0,174.2 L345.0,174.9 L346.0,175.6 L347.0,174.8 L348.0,173.1 L349.0,173.7 L350.0,173.2 L351.0,175.1 L352.0,175.9 L353.0,175.2 L354.0,174.0 L355.0,174.6 L356.0,174.2 L357.0,174.3 L358.0,174.4 L359.0,176.0 L360.0,176.7 L361.0,175.5 L362.0,174.4 L363.0,172.9 L364.0,174.4 L365.0,174.9 L366.0,177.0 L367.0,175.1 L368.0,174.6 L369.0,174.8 L370.0,173.1 L371.0,174.0 L372.0,175.1 L373.0,176.8 L374.0,176.4 L375.0,175.9 L376.0,173.6 L377.0,173.1 L378.0,174.1 L379.0,175.8 L380.0,176.3 L381.0,176.6 L382.0,175.3 L383.0,173.1 L384.0,173.1 L385.0,173.4 L386.0,174.5 L387.0,175.8 L388.0,175.2 L389.0,174.8 L390.0,172.4 L391.0,173.5 L392.0,172.7 L393.0,174.7 L394.0,175.5 L395.0,173.9 L396.0,173.8 L397.0,173.6 L398.0,171.5 L399.0,172.9 L400.0,173.8 L401.0,174.4 L402.0,173.9 L403.0,172.9 L404.0,172.0 L405.0,171.5 L406.0,172.0 L407.0,174.0 L408.0,174.6 L409.0,173.0 L410.0,171.5 L411.0,170.7 L412.0,171.2 L413.0,170.4 L414.0,172.1 L415.0,171.7 L416.0,171.9 L417.0,170.6 L418.0,170.4 L419.0,169.6 L419.0,170.9 L419.0,174.0 L419.0,175.0 L418.0,175.3 L417.0,174.6 L416.0,173.1 L415.0,173.3 L414.0,174.4 L413.0,175.4 L412.0,176.0 L411.0,175.4 L410.0,174.1 L409.0,174.5 L408.0,175.2 L407.0,176.7 L406.0,177.0 L405.0,176.5 L404.0,175.1 L403.0,175.2 L402.0,176.2 L401.0,177.7 L400.0,177.8 L399.0,177.0 L398.0,175.6 L397.0,175.4 L396.0,176.7 L395.0,177.5 L394.0,177.9 L393.0,177.2 L392.0,175.7 L391.0,175.7 L390.0,176.7 L389.0,178.3 L388.0,178.7 L387.0,177.6 L386.0,176.3 L385.0,176.4 L384.0,177.1 L383.0,179.0 L382.0,179.0 L381.0,177.8 L380.0,177.2 L379.0,176.9 L378.0,177.9 L377.0,178.9 L376.0,179.3 L375.0,177.9 L374.0,176.9 L373.0,176.9 L372.0,177.7 L371.0,179.0 L370.0,179.2 L369.0,178.2 L368.0,177.2 L367.0,177.0 L366.0,178.0 L365.0,178.8 L364.0,178.9 L363.0,178.2 L362.0,176.7 L361.0,177.0 L360.0,177.4 L359.0,179.1 L358.0,179.2 L357.0,178.0 L356.0,176.9 L355.0,176.6 L354.0,177.9 L353.0,178.6 L352.0,178.9 L351.0,177.8 L350.0,176.7 L349.0,176.1 L348.0,177.7 L347.0,178.3 L346.0,179.1 L345.0,177.8 L344.0,176.7 L343.0,176.1 L342.0,177.5 L341.0,178.2 L340.0,178.6 L339.0,178.0 L338.0,176.8 L337.0,176.1 L336.0,177.0 L335.0,178.5 L334.0,178.9 L333.0,177.4 Z" fill="#eeb2bc" opacity="0.85"/>
<path d="M333.0,178.2 L334.0,179.7 L335.0,179.2 L336.0,177.8 L337.0,176.9 L338.0,177.5 L339.0,178.7 L340.0,179.4 L341.0,179.0 L342.0,178.3 L343.0,176.9 L344.0,177.5 L345.0,178.6 L346.0,179.9 L347.0,179.1 L348.0,178.5 L349.0,176.9 L350.0,177.5 L351.0,178.5 L352.0,179.7 L353.0,179.3 L354.0,178.6 L355.0,177.3 L356.0,177.6 L357.0,178.7 L358.0,180.0 L359.0,179.9 L360.0,178.1 L361.0,177.8 L362.0,177.5 L363.0,178.9 L364.0,179.7 L365.0,179.6 L366.0,178.8 L367.0,177.8 L368.0,178.0 L369.0,179.0 L370.0,179.9 L371.0,179.8 L372.0,178.5 L373.0,177.7 L374.0,177.7 L375.0,178.7 L376.0,180.1 L377.0,179.7 L378.0,178.6 L379.0,177.7 L380.0,178.0 L381.0,178.5 L382.0,179.8 L383.0,179.8 L384.0,177.9 L385.0,177.1 L386.0,177.0 L387.0,178.4 L388.0,179.4 L389.0,179.0 L390.0,177.5 L391.0,176.5 L392.0,176.5 L393.0,178.0 L394.0,178.6 L395.0,178.3 L396.0,177.5 L397.0,176.2 L398.0,176.3 L399.0,177.8 L400.0,178.6 L401.0,178.5 L402.0,176.9 L403.0,176.0 L404.0,175.9 L405.0,177.3 L406.0,177.8 L407.0,177.5 L408.0,176.0 L409.0,175.3 L410.0,174.9 L411.0,176.2 L412.0,176.8 L413.0,176.2 L414.0,175.2 L415.0,174.1 L416.0,173.9 L417.0,175.3 L418.0,176.1 L419.0,175.8 L419.0,174.8" fill="none" stroke="#e08898" stroke-width="2.2" stroke-linejoin="round" />
<rect x="372.2" y="182.5" width="3" height="14.5" fill="#0d0d0d"/>
<rect x="334.7" y="208" width="30.30000000000001" height="2" fill="#262222"/>
</g>
<ellipse cx="412" cy="172" rx="5" ry="2.2" fill="#e88898" opacity="0.8"/><ellipse cx="404" cy="171" rx="2.5" ry="1.3" fill="#eaa0aa" opacity="0.7"/>
<text x="255.9" y="236.2" font-size="8.8" text-anchor="middle" font-weight="normal" fill="#222" >Monotherapies</text>
<text x="255.3" y="401.3" font-size="8.8" text-anchor="middle" font-weight="normal" fill="#222" textLength="195.7" lengthAdjust="spacingAndGlyphs" >Combination therapy of Wnt-C59 with belumosudil</text>
<line x1="42.5" y1="268.2" x2="42.5" y2="372.8" stroke="#1a1a1a" stroke-width="1"/>
<line x1="39.8" y1="372.8" x2="156.2" y2="372.8" stroke="#222" stroke-width="1.25"/>
<line x1="39.9" y1="372.8" x2="42.5" y2="372.8" stroke="#1a1a1a" stroke-width="0.9"/>
<text x="36.8" y="375.35" font-size="7.3" text-anchor="end" font-weight="normal" fill="#222" >0.0</text>
<line x1="39.9" y1="347.2" x2="42.5" y2="347.2" stroke="#1a1a1a" stroke-width="0.9"/>
<text x="36.8" y="349.77500000000003" font-size="7.3" text-anchor="end" font-weight="normal" fill="#222" >0.5</text>
<line x1="39.9" y1="321.7" x2="42.5" y2="321.7" stroke="#1a1a1a" stroke-width="0.9"/>
<text x="36.8" y="324.20000000000005" font-size="7.3" text-anchor="end" font-weight="normal" fill="#222" >1.0</text>
<line x1="39.9" y1="296.1" x2="42.5" y2="296.1" stroke="#1a1a1a" stroke-width="0.9"/>
<text x="36.8" y="298.62500000000006" font-size="7.3" text-anchor="end" font-weight="normal" fill="#222" >1.5</text>
<line x1="39.9" y1="270.5" x2="42.5" y2="270.5" stroke="#1a1a1a" stroke-width="0.9"/>
<text x="36.8" y="273.05" font-size="7.3" text-anchor="end" font-weight="normal" fill="#222" >2.0</text>
<line x1="51.8" y1="372.8" x2="51.8" y2="375.6" stroke="#1a1a1a" stroke-width="0.9"/>
<line x1="70.7" y1="372.8" x2="70.7" y2="375.6" stroke="#1a1a1a" stroke-width="0.9"/>
<line x1="89.6" y1="372.8" x2="89.6" y2="375.6" stroke="#1a1a1a" stroke-width="0.9"/>
<line x1="108.5" y1="372.8" x2="108.5" y2="375.6" stroke="#1a1a1a" stroke-width="0.9"/>
<line x1="127.4" y1="372.8" x2="127.4" y2="375.6" stroke="#1a1a1a" stroke-width="0.9"/>
<line x1="146.3" y1="372.8" x2="146.3" y2="375.6" stroke="#1a1a1a" stroke-width="0.9"/>
<text x="0" y="0" font-size="7.8" text-anchor="middle" fill="#222" textLength="84.2" lengthAdjust="spacingAndGlyphs" transform="translate(20.8,320.6) rotate(-90)">Skin thickness (x fold change)</text>
<line x1="51.8" y1="319.5" x2="51.8" y2="324.0" stroke="#24487c" stroke-width="0.9"/>
<line x1="48.8" y1="319.5" x2="54.8" y2="319.5" stroke="#24487c" stroke-width="0.9"/>
<line x1="48.8" y1="324.0" x2="54.8" y2="324.0" stroke="#24487c" stroke-width="0.9"/>
<circle cx="51.8" cy="316.7" r="1.44" fill="#16335f"/>
<circle cx="51.8" cy="326.7" r="1.44" fill="#16335f"/>
<circle cx="47.3" cy="322.1" r="1.44" fill="#16335f"/>
<circle cx="56.1" cy="323.3" r="1.44" fill="#16335f"/>
<circle cx="49.8" cy="320.0" r="1.44" fill="#16335f"/>
<circle cx="53.8" cy="320.5" r="1.44" fill="#16335f"/>
<circle cx="51.8" cy="321.2" r="1.44" fill="#16335f"/>
<circle cx="50.3" cy="324.0" r="1.44" fill="#16335f"/>
<line x1="45.599999999999994" y1="321.6" x2="58.0" y2="321.6" stroke="#3d6fa8" stroke-width="0.9"/>
<line x1="70.7" y1="283.2" x2="70.7" y2="291.4" stroke="#24487c" stroke-width="0.9"/>
<line x1="67.7" y1="283.2" x2="73.7" y2="283.2" stroke="#24487c" stroke-width="0.9"/>
<line x1="67.7" y1="291.4" x2="73.7" y2="291.4" stroke="#24487c" stroke-width="0.9"/>
<rect x="69.4" y="279.3" width="2.64" height="2.64" fill="#16335f"/>
<rect x="73.7" y="283.4" width="2.64" height="2.64" fill="#16335f"/>
<rect x="64.8" y="284.7" width="2.64" height="2.64" fill="#16335f"/>
<rect x="67.2" y="287.1" width="2.64" height="2.64" fill="#16335f"/>
<rect x="70.3" y="288.0" width="2.64" height="2.64" fill="#16335f"/>
<rect x="67.4" y="290.8" width="2.64" height="2.64" fill="#16335f"/>
<rect x="71.4" y="289.5" width="2.64" height="2.64" fill="#16335f"/>
<rect x="70.4" y="285.2" width="2.64" height="2.64" fill="#16335f"/>
<line x1="64.5" y1="287.3" x2="76.9" y2="287.3" stroke="#3d6fa8" stroke-width="0.9"/>
<line x1="89.6" y1="305.0" x2="89.6" y2="310.4" stroke="#24487c" stroke-width="0.9"/>
<line x1="86.6" y1="305.0" x2="92.6" y2="305.0" stroke="#24487c" stroke-width="0.9"/>
<line x1="86.6" y1="310.4" x2="92.6" y2="310.4" stroke="#24487c" stroke-width="0.9"/>
<path d="M89.6,302.3 L91.3,305.4 L87.9,305.4Z" fill="#16335f"/>
<path d="M85.1,304.8 L86.8,307.9 L83.4,307.9Z" fill="#16335f"/>
<path d="M93.8,303.8 L95.5,306.9 L92.1,306.9Z" fill="#16335f"/>
<path d="M86.6,308.5 L88.3,311.6 L84.9,311.6Z" fill="#16335f"/>
<path d="M92.1,307.8 L93.8,310.9 L90.4,310.9Z" fill="#16335f"/>
<path d="M89.6,309.6 L91.3,312.7 L87.9,312.7Z" fill="#16335f"/>
<path d="M91.1,305.6 L92.8,308.7 L89.4,308.7Z" fill="#16335f"/>
<line x1="83.39999999999999" y1="307.7" x2="95.8" y2="307.7" stroke="#3d6fa8" stroke-width="0.9"/>
<line x1="108.5" y1="313.8" x2="108.5" y2="320.3" stroke="#24487c" stroke-width="0.9"/>
<line x1="105.5" y1="313.8" x2="111.5" y2="313.8" stroke="#24487c" stroke-width="0.9"/>
<line x1="105.5" y1="320.3" x2="111.5" y2="320.3" stroke="#24487c" stroke-width="0.9"/>
<path d="M108.5,314.3 L110.2,311.2 L106.8,311.2Z" fill="#16335f"/>
<path d="M105.5,316.7 L107.2,313.6 L103.8,313.6Z" fill="#16335f"/>
<path d="M112.0,317.7 L113.7,314.6 L110.3,314.6Z" fill="#16335f"/>
<path d="M104.5,321.2 L106.2,318.1 L102.8,318.1Z" fill="#16335f"/>
<path d="M110.5,320.5 L112.2,317.4 L108.8,317.4Z" fill="#16335f"/>
<path d="M108.5,323.0 L110.2,319.9 L106.8,319.9Z" fill="#16335f"/>
<path d="M109.5,318.7 L111.2,315.6 L107.8,315.6Z" fill="#16335f"/>
<line x1="102.3" y1="317.3" x2="114.7" y2="317.3" stroke="#3d6fa8" stroke-width="0.9"/>
<line x1="127.4" y1="305.5" x2="127.4" y2="313.0" stroke="#24487c" stroke-width="0.9"/>
<line x1="124.4" y1="305.5" x2="130.4" y2="305.5" stroke="#24487c" stroke-width="0.9"/>
<line x1="124.4" y1="313.0" x2="130.4" y2="313.0" stroke="#24487c" stroke-width="0.9"/>
<path d="M127.4,302.6 L129.1,304.3 L127.4,306.0 L125.7,304.3Z" fill="#16335f"/>
<path d="M122.9,305.1 L124.6,306.8 L122.9,308.5 L121.2,306.8Z" fill="#16335f"/>
<path d="M131.9,305.1 L133.6,306.8 L131.9,308.5 L130.2,306.8Z" fill="#16335f"/>
<path d="M125.4,307.8 L127.1,309.5 L125.4,311.2 L123.7,309.5Z" fill="#16335f"/>
<path d="M129.9,308.3 L131.6,310.0 L129.9,311.7 L128.2,310.0Z" fill="#16335f"/>
<path d="M130.0,311.8 L131.7,313.5 L130.0,315.2 L128.3,313.5Z" fill="#16335f"/>
<path d="M125.3,315.6 L127.0,317.3 L125.3,319.0 L123.6,317.3Z" fill="#16335f"/>
<line x1="121.2" y1="308.8" x2="133.6" y2="308.8" stroke="#3d6fa8" stroke-width="0.9"/>
<line x1="146.3" y1="302.3" x2="146.3" y2="312.0" stroke="#24487c" stroke-width="0.9"/>
<line x1="143.3" y1="302.3" x2="149.3" y2="302.3" stroke="#24487c" stroke-width="0.9"/>
<line x1="143.3" y1="312.0" x2="149.3" y2="312.0" stroke="#24487c" stroke-width="0.9"/>
<circle cx="146.3" cy="296.9" r="1.38" fill="none" stroke="#16335f" stroke-width="0.8"/>
<circle cx="143.8" cy="308.5" r="1.38" fill="none" stroke="#16335f" stroke-width="0.8"/>
<circle cx="148.8" cy="308.5" r="1.38" fill="none" stroke="#16335f" stroke-width="0.8"/>
<circle cx="143.8" cy="311.2" r="1.38" fill="none" stroke="#16335f" stroke-width="0.8"/>
<circle cx="148.8" cy="311.2" r="1.38" fill="none" stroke="#16335f" stroke-width="0.8"/>
<circle cx="146.3" cy="305.0" r="1.38" fill="none" stroke="#16335f" stroke-width="0.8"/>
<line x1="140.10000000000002" y1="307.3" x2="152.5" y2="307.3" stroke="#3d6fa8" stroke-width="0.9"/>
<line x1="70.7" y1="252.7" x2="146.3" y2="252.7" stroke="#5a5a5a" stroke-width="1"/><circle cx="105.5" cy="248.7" r="0.85" fill="#2a2a2a"/><circle cx="108.5" cy="248.7" r="0.85" fill="#2a2a2a"/><circle cx="111.5" cy="248.7" r="0.85" fill="#2a2a2a"/>
<line x1="70.7" y1="260.4" x2="127.4" y2="260.4" stroke="#5a5a5a" stroke-width="1"/><circle cx="96.1" cy="256.4" r="0.85" fill="#2a2a2a"/><circle cx="99.1" cy="256.4" r="0.85" fill="#2a2a2a"/><circle cx="102.1" cy="256.4" r="0.85" fill="#2a2a2a"/>
<line x1="70.7" y1="268.4" x2="108.5" y2="268.4" stroke="#5a5a5a" stroke-width="1"/><circle cx="86.6" cy="264.4" r="0.85" fill="#2a2a2a"/><circle cx="89.6" cy="264.4" r="0.85" fill="#2a2a2a"/><circle cx="92.6" cy="264.4" r="0.85" fill="#2a2a2a"/>
<line x1="70.7" y1="276.2" x2="89.6" y2="276.2" stroke="#5a5a5a" stroke-width="1"/><circle cx="77.2" cy="272.2" r="0.85" fill="#2a2a2a"/><circle cx="80.2" cy="272.2" r="0.85" fill="#2a2a2a"/><circle cx="83.2" cy="272.2" r="0.85" fill="#2a2a2a"/>
<line x1="89.6" y1="301.3" x2="107.7" y2="301.3" stroke="#5a5a5a" stroke-width="1"/><circle cx="95.7" cy="297.3" r="0.85" fill="#2a2a2a"/><circle cx="98.7" cy="297.3" r="0.85" fill="#2a2a2a"/><circle cx="101.7" cy="297.3" r="0.85" fill="#2a2a2a"/>
<line x1="110" y1="301.3" x2="127.7" y2="301.3" stroke="#5a5a5a" stroke-width="1"/><circle cx="115.8" cy="297.3" r="0.85" fill="#2a2a2a"/><circle cx="118.8" cy="297.3" r="0.85" fill="#2a2a2a"/><circle cx="121.8" cy="297.3" r="0.85" fill="#2a2a2a"/>
<line x1="110" y1="292.8" x2="145.3" y2="292.8" stroke="#5a5a5a" stroke-width="1"/><circle cx="124.7" cy="288.8" r="0.85" fill="#2a2a2a"/><circle cx="127.7" cy="288.8" r="0.85" fill="#2a2a2a"/><circle cx="130.7" cy="288.8" r="0.85" fill="#2a2a2a"/>
<line x1="199.5" y1="268.2" x2="199.5" y2="372.8" stroke="#1a1a1a" stroke-width="1"/>
<line x1="196.8" y1="372.8" x2="312.5" y2="372.8" stroke="#222" stroke-width="1.25"/>
<line x1="196.9" y1="372.8" x2="199.5" y2="372.8" stroke="#1a1a1a" stroke-width="0.9"/>
<text x="193.8" y="375.35" font-size="7.3" text-anchor="end" font-weight="normal" fill="#222" >0.0</text>
<line x1="196.9" y1="352.3" x2="199.5" y2="352.3" stroke="#1a1a1a" stroke-width="0.9"/>
<text x="193.8" y="354.87" font-size="7.3" text-anchor="end" font-weight="normal" fill="#222" >0.5</text>
<line x1="196.9" y1="331.8" x2="199.5" y2="331.8" stroke="#1a1a1a" stroke-width="0.9"/>
<text x="193.8" y="334.39000000000004" font-size="7.3" text-anchor="end" font-weight="normal" fill="#222" >1.0</text>
<line x1="196.9" y1="311.4" x2="199.5" y2="311.4" stroke="#1a1a1a" stroke-width="0.9"/>
<text x="193.8" y="313.91" font-size="7.3" text-anchor="end" font-weight="normal" fill="#222" >1.5</text>
<line x1="196.9" y1="290.9" x2="199.5" y2="290.9" stroke="#1a1a1a" stroke-width="0.9"/>
<text x="193.8" y="293.43" font-size="7.3" text-anchor="end" font-weight="normal" fill="#222" >2.0</text>
<line x1="196.9" y1="270.4" x2="199.5" y2="270.4" stroke="#1a1a1a" stroke-width="0.9"/>
<text x="193.8" y="272.95" font-size="7.3" text-anchor="end" font-weight="normal" fill="#222" >2.5</text>
<line x1="208.8" y1="372.8" x2="208.8" y2="375.6" stroke="#1a1a1a" stroke-width="0.9"/>
<line x1="227.7" y1="372.8" x2="227.7" y2="375.6" stroke="#1a1a1a" stroke-width="0.9"/>
<line x1="246.5" y1="372.8" x2="246.5" y2="375.6" stroke="#1a1a1a" stroke-width="0.9"/>
<line x1="265.4" y1="372.8" x2="265.4" y2="375.6" stroke="#1a1a1a" stroke-width="0.9"/>
<line x1="284.2" y1="372.8" x2="284.2" y2="375.6" stroke="#1a1a1a" stroke-width="0.9"/>
<line x1="303.1" y1="372.8" x2="303.1" y2="375.6" stroke="#1a1a1a" stroke-width="0.9"/>
<text x="0" y="0" font-size="7.8" text-anchor="middle" fill="#222" textLength="92.7" lengthAdjust="spacingAndGlyphs" transform="translate(177.7,320.6) rotate(-90)">HP concentration (x fold change)</text>
<line x1="208.8" y1="328.5" x2="208.8" y2="335.5" stroke="#24487c" stroke-width="0.9"/>
<line x1="205.8" y1="328.5" x2="211.8" y2="328.5" stroke="#24487c" stroke-width="0.9"/>
<line x1="205.8" y1="335.5" x2="211.8" y2="335.5" stroke="#24487c" stroke-width="0.9"/>
<circle cx="208.8" cy="325.0" r="1.44" fill="#16335f"/>
<circle cx="208.8" cy="337.7" r="1.44" fill="#16335f"/>
<circle cx="205.8" cy="330.0" r="1.44" fill="#16335f"/>
<circle cx="211.8" cy="329.0" r="1.44" fill="#16335f"/>
<circle cx="206.3" cy="334.5" r="1.44" fill="#16335f"/>
<circle cx="211.3" cy="335.5" r="1.44" fill="#16335f"/>
<circle cx="208.8" cy="332.0" r="1.44" fill="#16335f"/>
<line x1="202.60000000000002" y1="332.1" x2="215.0" y2="332.1" stroke="#3d6fa8" stroke-width="0.9"/>
<line x1="227.7" y1="283.8" x2="227.7" y2="298.5" stroke="#24487c" stroke-width="0.9"/>
<line x1="224.7" y1="283.8" x2="230.7" y2="283.8" stroke="#24487c" stroke-width="0.9"/>
<line x1="224.7" y1="298.5" x2="230.7" y2="298.5" stroke="#24487c" stroke-width="0.9"/>
<rect x="223.8" y="278.2" width="2.64" height="2.64" fill="#16335f"/>
<rect x="229.0" y="278.2" width="2.64" height="2.64" fill="#16335f"/>
<rect x="226.4" y="288.1" width="2.64" height="2.64" fill="#16335f"/>
<rect x="223.8" y="294.7" width="2.64" height="2.64" fill="#16335f"/>
<rect x="229.0" y="294.7" width="2.64" height="2.64" fill="#16335f"/>
<rect x="223.8" y="298.2" width="2.64" height="2.64" fill="#16335f"/>
<rect x="229.0" y="298.2" width="2.64" height="2.64" fill="#16335f"/>
<rect x="226.4" y="300.6" width="2.64" height="2.64" fill="#16335f"/>
<line x1="221.5" y1="292.4" x2="233.89999999999998" y2="292.4" stroke="#3d6fa8" stroke-width="0.9"/>
<line x1="246.5" y1="312.0" x2="246.5" y2="322.0" stroke="#24487c" stroke-width="0.9"/>
<line x1="243.5" y1="312.0" x2="249.5" y2="312.0" stroke="#24487c" stroke-width="0.9"/>
<line x1="243.5" y1="322.0" x2="249.5" y2="322.0" stroke="#24487c" stroke-width="0.9"/>
<path d="M246.5,306.2 L248.2,309.3 L244.8,309.3Z" fill="#16335f"/>
<path d="M242.3,314.8 L244.0,317.9 L240.6,317.9Z" fill="#16335f"/>
<path d="M251.1,313.8 L252.8,316.9 L249.4,316.9Z" fill="#16335f"/>
<path d="M244.5,318.3 L246.2,321.4 L242.8,321.4Z" fill="#16335f"/>
<path d="M248.5,319.8 L250.2,322.9 L246.8,322.9Z" fill="#16335f"/>
<path d="M246.5,322.1 L248.2,325.2 L244.8,325.2Z" fill="#16335f"/>
<path d="M244.5,317.3 L246.2,320.4 L242.8,320.4Z" fill="#16335f"/>
<line x1="240.3" y1="317.2" x2="252.7" y2="317.2" stroke="#3d6fa8" stroke-width="0.9"/>
<line x1="265.4" y1="324.5" x2="265.4" y2="333.5" stroke="#24487c" stroke-width="0.9"/>
<line x1="262.4" y1="324.5" x2="268.4" y2="324.5" stroke="#24487c" stroke-width="0.9"/>
<line x1="262.4" y1="333.5" x2="268.4" y2="333.5" stroke="#24487c" stroke-width="0.9"/>
<path d="M265.4,322.9 L267.1,319.8 L263.7,319.8Z" fill="#16335f"/>
<path d="M262.9,327.7 L264.6,324.6 L261.2,324.6Z" fill="#16335f"/>
<path d="M268.4,329.2 L270.1,326.1 L266.7,326.1Z" fill="#16335f"/>
<path d="M265.4,332.7 L267.1,329.6 L263.7,329.6Z" fill="#16335f"/>
<path d="M262.4,334.7 L264.1,331.6 L260.7,331.6Z" fill="#16335f"/>
<path d="M267.9,335.2 L269.6,332.1 L266.2,332.1Z" fill="#16335f"/>
<path d="M265.4,337.9 L267.1,334.8 L263.7,334.8Z" fill="#16335f"/>
<line x1="259.2" y1="328.9" x2="271.59999999999997" y2="328.9" stroke="#3d6fa8" stroke-width="0.9"/>
<line x1="284.2" y1="313.0" x2="284.2" y2="318.8" stroke="#24487c" stroke-width="0.9"/>
<line x1="281.2" y1="313.0" x2="287.2" y2="313.0" stroke="#24487c" stroke-width="0.9"/>
<line x1="281.2" y1="318.8" x2="287.2" y2="318.8" stroke="#24487c" stroke-width="0.9"/>
<path d="M284.2,310.1 L285.9,311.8 L284.2,313.5 L282.5,311.8Z" fill="#16335f"/>
<path d="M279.7,312.3 L281.4,314.0 L279.7,315.7 L278.0,314.0Z" fill="#16335f"/>
<path d="M288.7,312.3 L290.4,314.0 L288.7,315.7 L287.0,314.0Z" fill="#16335f"/>
<path d="M282.2,314.8 L283.9,316.5 L282.2,318.2 L280.5,316.5Z" fill="#16335f"/>
<path d="M286.2,314.8 L287.9,316.5 L286.2,318.2 L284.5,316.5Z" fill="#16335f"/>
<path d="M284.2,317.8 L285.9,319.5 L284.2,321.2 L282.5,319.5Z" fill="#16335f"/>
<path d="M284.2,322.8 L285.9,324.5 L284.2,326.2 L282.5,324.5Z" fill="#16335f"/>
<line x1="278.0" y1="315.8" x2="290.4" y2="315.8" stroke="#3d6fa8" stroke-width="0.9"/>
<line x1="303.1" y1="312.5" x2="303.1" y2="324.0" stroke="#24487c" stroke-width="0.9"/>
<line x1="300.1" y1="312.5" x2="306.1" y2="312.5" stroke="#24487c" stroke-width="0.9"/>
<line x1="300.1" y1="324.0" x2="306.1" y2="324.0" stroke="#24487c" stroke-width="0.9"/>
<circle cx="303.1" cy="303.0" r="1.38" fill="none" stroke="#16335f" stroke-width="0.8"/>
<circle cx="300.1" cy="315.5" r="1.38" fill="none" stroke="#16335f" stroke-width="0.8"/>
<circle cx="305.6" cy="316.5" r="1.38" fill="none" stroke="#16335f" stroke-width="0.8"/>
<circle cx="303.1" cy="318.5" r="1.38" fill="none" stroke="#16335f" stroke-width="0.8"/>
<circle cx="300.1" cy="321.0" r="1.38" fill="none" stroke="#16335f" stroke-width="0.8"/>
<circle cx="305.6" cy="320.5" r="1.38" fill="none" stroke="#16335f" stroke-width="0.8"/>
<circle cx="303.1" cy="329.6" r="1.38" fill="none" stroke="#16335f" stroke-width="0.8"/>
<line x1="296.90000000000003" y1="318.0" x2="309.3" y2="318.0" stroke="#3d6fa8" stroke-width="0.9"/>
<line x1="228.2" y1="252.7" x2="301.5" y2="252.7" stroke="#5a5a5a" stroke-width="1"/><circle cx="261.9" cy="248.7" r="0.85" fill="#2a2a2a"/><circle cx="264.9" cy="248.7" r="0.85" fill="#2a2a2a"/><circle cx="267.9" cy="248.7" r="0.85" fill="#2a2a2a"/>
<line x1="228.2" y1="260.4" x2="282.6" y2="260.4" stroke="#5a5a5a" stroke-width="1"/><circle cx="252.4" cy="256.4" r="0.85" fill="#2a2a2a"/><circle cx="255.4" cy="256.4" r="0.85" fill="#2a2a2a"/><circle cx="258.4" cy="256.4" r="0.85" fill="#2a2a2a"/>
<line x1="228.2" y1="268.4" x2="263.5" y2="268.4" stroke="#5a5a5a" stroke-width="1"/><circle cx="242.8" cy="264.4" r="0.85" fill="#2a2a2a"/><circle cx="245.8" cy="264.4" r="0.85" fill="#2a2a2a"/><circle cx="248.8" cy="264.4" r="0.85" fill="#2a2a2a"/>
<line x1="228.2" y1="276.2" x2="246.2" y2="276.2" stroke="#5a5a5a" stroke-width="1"/><circle cx="234.2" cy="272.2" r="0.85" fill="#2a2a2a"/><circle cx="237.2" cy="272.2" r="0.85" fill="#2a2a2a"/><circle cx="240.2" cy="272.2" r="0.85" fill="#2a2a2a"/>
<line x1="247.3" y1="303.5" x2="265" y2="303.5" stroke="#5a5a5a" stroke-width="1"/><circle cx="254.6" cy="299.5" r="0.85" fill="#2a2a2a"/><circle cx="257.6" cy="299.5" r="0.85" fill="#2a2a2a"/>
<line x1="267" y1="303.5" x2="284.2" y2="303.5" stroke="#5a5a5a" stroke-width="1"/><circle cx="274.1" cy="299.5" r="0.85" fill="#2a2a2a"/><circle cx="277.1" cy="299.5" r="0.85" fill="#2a2a2a"/>
<line x1="267" y1="295.7" x2="301.1" y2="295.7" stroke="#5a5a5a" stroke-width="1"/><circle cx="282.6" cy="291.7" r="0.85" fill="#2a2a2a"/><circle cx="285.6" cy="291.7" r="0.85" fill="#2a2a2a"/>
<line x1="350.5" y1="268.2" x2="350.5" y2="372.8" stroke="#1a1a1a" stroke-width="1"/>
<line x1="347.8" y1="372.8" x2="463.9" y2="372.8" stroke="#222" stroke-width="1.25"/>
<line x1="347.9" y1="372.8" x2="350.5" y2="372.8" stroke="#1a1a1a" stroke-width="0.9"/>
<text x="344.0" y="375.35" font-size="7.3" text-anchor="end" font-weight="normal" fill="#222" >0</text>
<line x1="347.9" y1="338.6" x2="350.5" y2="338.6" stroke="#1a1a1a" stroke-width="0.9"/>
<text x="344.0" y="341.15000000000003" font-size="7.3" text-anchor="end" font-weight="normal" fill="#222" >1</text>
<line x1="347.9" y1="304.4" x2="350.5" y2="304.4" stroke="#1a1a1a" stroke-width="0.9"/>
<text x="344.0" y="306.95" font-size="7.3" text-anchor="end" font-weight="normal" fill="#222" >2</text>
<line x1="347.9" y1="270.2" x2="350.5" y2="270.2" stroke="#1a1a1a" stroke-width="0.9"/>
<text x="344.0" y="272.75" font-size="7.3" text-anchor="end" font-weight="normal" fill="#222" >3</text>
<line x1="359.4" y1="372.8" x2="359.4" y2="375.6" stroke="#1a1a1a" stroke-width="0.9"/>
<line x1="378.3" y1="372.8" x2="378.3" y2="375.6" stroke="#1a1a1a" stroke-width="0.9"/>
<line x1="397.3" y1="372.8" x2="397.3" y2="375.6" stroke="#1a1a1a" stroke-width="0.9"/>
<line x1="416.2" y1="372.8" x2="416.2" y2="375.6" stroke="#1a1a1a" stroke-width="0.9"/>
<line x1="435.0" y1="372.8" x2="435.0" y2="375.6" stroke="#1a1a1a" stroke-width="0.9"/>
<line x1="453.6" y1="372.8" x2="453.6" y2="375.6" stroke="#1a1a1a" stroke-width="0.9"/>
<text x="0" y="0" font-size="7.8" text-anchor="middle" fill="#222" textLength="104.1" lengthAdjust="spacingAndGlyphs" transform="translate(334.5,320.0) rotate(-90)">Myofibroblast number (x fold change)</text>
<line x1="359.4" y1="330.5" x2="359.4" y2="346.2" stroke="#24487c" stroke-width="0.9"/>
<line x1="356.4" y1="330.5" x2="362.4" y2="330.5" stroke="#24487c" stroke-width="0.9"/>
<line x1="356.4" y1="346.2" x2="362.4" y2="346.2" stroke="#24487c" stroke-width="0.9"/>
<circle cx="356.9" cy="329.5" r="1.44" fill="#16335f"/>
<circle cx="361.9" cy="330.5" r="1.44" fill="#16335f"/>
<circle cx="362.4" cy="334.0" r="1.44" fill="#16335f"/>
<circle cx="357.4" cy="336.0" r="1.44" fill="#16335f"/>
<circle cx="359.4" cy="340.0" r="1.44" fill="#16335f"/>
<circle cx="362.4" cy="343.0" r="1.44" fill="#16335f"/>
<circle cx="355.9" cy="349.8" r="1.44" fill="#16335f"/>
<circle cx="361.9" cy="349.8" r="1.44" fill="#16335f"/>
<line x1="353.2" y1="338.8" x2="365.59999999999997" y2="338.8" stroke="#3d6fa8" stroke-width="0.9"/>
<line x1="378.3" y1="285.4" x2="378.3" y2="313.5" stroke="#24487c" stroke-width="0.9"/>
<line x1="375.3" y1="285.4" x2="381.3" y2="285.4" stroke="#24487c" stroke-width="0.9"/>
<line x1="375.3" y1="313.5" x2="381.3" y2="313.5" stroke="#24487c" stroke-width="0.9"/>
<rect x="377.0" y="279.4" width="2.64" height="2.64" fill="#16335f"/>
<rect x="374.5" y="291.2" width="2.64" height="2.64" fill="#16335f"/>
<rect x="379.5" y="291.2" width="2.64" height="2.64" fill="#16335f"/>
<rect x="377.0" y="300.7" width="2.64" height="2.64" fill="#16335f"/>
<rect x="374.5" y="310.2" width="2.64" height="2.64" fill="#16335f"/>
<rect x="378.5" y="313.7" width="2.64" height="2.64" fill="#16335f"/>
<rect x="377.0" y="318.2" width="2.64" height="2.64" fill="#16335f"/>
<line x1="372.1" y1="299.8" x2="384.5" y2="299.8" stroke="#3d6fa8" stroke-width="0.9"/>
<line x1="397.3" y1="311.5" x2="397.3" y2="330.5" stroke="#24487c" stroke-width="0.9"/>
<line x1="394.3" y1="311.5" x2="400.3" y2="311.5" stroke="#24487c" stroke-width="0.9"/>
<line x1="394.3" y1="330.5" x2="400.3" y2="330.5" stroke="#24487c" stroke-width="0.9"/>
<path d="M397.3,298.3 L399.0,301.4 L395.6,301.4Z" fill="#16335f"/>
<path d="M393.3,320.3 L395.0,323.4 L391.6,323.4Z" fill="#16335f"/>
<path d="M396.0,320.3 L397.7,323.4 L394.3,323.4Z" fill="#16335f"/>
<path d="M398.6,320.3 L400.3,323.4 L396.9,323.4Z" fill="#16335f"/>
<path d="M401.3,320.3 L403.0,323.4 L399.6,323.4Z" fill="#16335f"/>
<path d="M394.8,328.8 L396.5,331.9 L393.1,331.9Z" fill="#16335f"/>
<path d="M399.8,328.8 L401.5,331.9 L398.1,331.9Z" fill="#16335f"/>
<line x1="391.1" y1="322.0" x2="403.5" y2="322.0" stroke="#3d6fa8" stroke-width="0.9"/>
<line x1="416.2" y1="321.2" x2="416.2" y2="338.8" stroke="#24487c" stroke-width="0.9"/>
<line x1="413.2" y1="321.2" x2="419.2" y2="321.2" stroke="#24487c" stroke-width="0.9"/>
<line x1="413.2" y1="338.8" x2="419.2" y2="338.8" stroke="#24487c" stroke-width="0.9"/>
<path d="M413.2,323.7 L414.9,320.6 L411.5,320.6Z" fill="#16335f"/>
<path d="M419.2,323.7 L420.9,320.6 L417.5,320.6Z" fill="#16335f"/>
<path d="M416.2,328.7 L417.9,325.6 L414.5,325.6Z" fill="#16335f"/>
<path d="M417.2,333.7 L418.9,330.6 L415.5,330.6Z" fill="#16335f"/>
<path d="M419.2,335.7 L420.9,332.6 L417.5,332.6Z" fill="#16335f"/>
<path d="M415.2,339.7 L416.9,336.6 L413.5,336.6Z" fill="#16335f"/>
<path d="M416.2,341.2 L417.9,338.1 L414.5,338.1Z" fill="#16335f"/>
<line x1="410.0" y1="330.5" x2="422.4" y2="330.5" stroke="#3d6fa8" stroke-width="0.9"/>
<line x1="435.0" y1="313.4" x2="435.0" y2="329.5" stroke="#24487c" stroke-width="0.9"/>
<line x1="432.0" y1="313.4" x2="438.0" y2="313.4" stroke="#24487c" stroke-width="0.9"/>
<line x1="432.0" y1="329.5" x2="438.0" y2="329.5" stroke="#24487c" stroke-width="0.9"/>
<path d="M435.0,307.1 L436.7,308.8 L435.0,310.5 L433.3,308.8Z" fill="#16335f"/>
<path d="M432.0,311.8 L433.7,313.5 L432.0,315.2 L430.3,313.5Z" fill="#16335f"/>
<path d="M438.0,311.8 L439.7,313.5 L438.0,315.2 L436.3,313.5Z" fill="#16335f"/>
<path d="M435.0,316.3 L436.7,318.0 L435.0,319.7 L433.3,318.0Z" fill="#16335f"/>
<path d="M432.0,319.3 L433.7,321.0 L432.0,322.7 L430.3,321.0Z" fill="#16335f"/>
<path d="M438.0,319.3 L439.7,321.0 L438.0,322.7 L436.3,321.0Z" fill="#16335f"/>
<path d="M432.0,327.8 L433.7,329.5 L432.0,331.2 L430.3,329.5Z" fill="#16335f"/>
<path d="M438.0,327.8 L439.7,329.5 L438.0,331.2 L436.3,329.5Z" fill="#16335f"/>
<line x1="428.8" y1="321.2" x2="441.2" y2="321.2" stroke="#3d6fa8" stroke-width="0.9"/>
<line x1="453.6" y1="306.5" x2="453.6" y2="337.0" stroke="#24487c" stroke-width="0.9"/>
<line x1="450.6" y1="306.5" x2="456.6" y2="306.5" stroke="#24487c" stroke-width="0.9"/>
<line x1="450.6" y1="337.0" x2="456.6" y2="337.0" stroke="#24487c" stroke-width="0.9"/>
<circle cx="453.6" cy="290.3" r="1.38" fill="none" stroke="#16335f" stroke-width="0.8"/>
<circle cx="453.6" cy="313.0" r="1.38" fill="none" stroke="#16335f" stroke-width="0.8"/>
<circle cx="449.1" cy="326.0" r="1.38" fill="none" stroke="#16335f" stroke-width="0.8"/>
<circle cx="458.1" cy="326.0" r="1.38" fill="none" stroke="#16335f" stroke-width="0.8"/>
<circle cx="453.6" cy="321.0" r="1.38" fill="none" stroke="#16335f" stroke-width="0.8"/>
<circle cx="453.6" cy="330.0" r="1.38" fill="none" stroke="#16335f" stroke-width="0.8"/>
<circle cx="453.6" cy="344.3" r="1.38" fill="none" stroke="#16335f" stroke-width="0.8"/>
<line x1="447.40000000000003" y1="321.2" x2="459.8" y2="321.2" stroke="#3d6fa8" stroke-width="0.9"/>
<line x1="378.8" y1="252.7" x2="456.2" y2="252.7" stroke="#5a5a5a" stroke-width="1"/><circle cx="414.5" cy="248.7" r="0.85" fill="#2a2a2a"/><circle cx="417.5" cy="248.7" r="0.85" fill="#2a2a2a"/><circle cx="420.5" cy="248.7" r="0.85" fill="#2a2a2a"/>
<line x1="378.8" y1="260.4" x2="436.5" y2="260.4" stroke="#5a5a5a" stroke-width="1"/><circle cx="404.6" cy="256.4" r="0.85" fill="#2a2a2a"/><circle cx="407.6" cy="256.4" r="0.85" fill="#2a2a2a"/><circle cx="410.6" cy="256.4" r="0.85" fill="#2a2a2a"/>
<line x1="378.8" y1="268.4" x2="415.8" y2="268.4" stroke="#5a5a5a" stroke-width="1"/><circle cx="394.3" cy="264.4" r="0.85" fill="#2a2a2a"/><circle cx="397.3" cy="264.4" r="0.85" fill="#2a2a2a"/><circle cx="400.3" cy="264.4" r="0.85" fill="#2a2a2a"/>
<line x1="378.8" y1="276.2" x2="397.3" y2="276.2" stroke="#5a5a5a" stroke-width="1"/><circle cx="385.1" cy="272.2" r="0.85" fill="#2a2a2a"/><circle cx="388.1" cy="272.2" r="0.85" fill="#2a2a2a"/><circle cx="391.1" cy="272.2" r="0.85" fill="#2a2a2a"/>
<line x1="416.5" y1="286.2" x2="452.7" y2="286.2" stroke="#5a5a5a" stroke-width="1"/><text x="434.6" y="283.59999999999997" font-size="6.8" text-anchor="middle" font-weight="normal" fill="#444" textLength="6.8" lengthAdjust="spacingAndGlyphs" >ns</text>
<line x1="395.7" y1="294.2" x2="414.2" y2="294.2" stroke="#5a5a5a" stroke-width="1"/><text x="404.95" y="291.59999999999997" font-size="6.8" text-anchor="middle" font-weight="normal" fill="#444" textLength="6.8" lengthAdjust="spacingAndGlyphs" >ns</text>
<line x1="417" y1="294.2" x2="435.4" y2="294.2" stroke="#5a5a5a" stroke-width="1"/><text x="426.2" y="291.59999999999997" font-size="6.8" text-anchor="middle" font-weight="normal" fill="#444" textLength="6.8" lengthAdjust="spacingAndGlyphs" >ns</text>
<circle cx="469.8" cy="267.6" r="1.62" fill="#1b2f55"/>
<text x="474.1" y="269.8" font-size="7.2" text-anchor="start" font-weight="normal" fill="#222" >Syngeneic</text>
<rect x="468.3" y="274.6" width="2.99" height="2.99" fill="#1b2f55"/>
<text x="474.1" y="278.3" font-size="7.2" text-anchor="start" font-weight="normal" fill="#222" >Allogeneic</text>
<path d="M469.8,282.7 L471.8,286.2 L467.9,286.2Z" fill="#1b2f55"/>
<text x="474.1" y="286.8" font-size="7.2" text-anchor="start" font-weight="normal" fill="#222" >Wnt-C59</text>
<path d="M469.8,294.9 L471.8,291.4 L467.9,291.4Z" fill="#1b2f55"/>
<text x="474.1" y="295.2" font-size="7.2" text-anchor="start" font-weight="normal" fill="#222" >Ruxolitinib</text>
<path d="M469.8,299.5 L471.8,301.4 L469.8,303.4 L467.9,301.4Z" fill="#1b2f55"/>
<text x="474.1" y="303.6" font-size="7.2" text-anchor="start" font-weight="normal" fill="#222" >Belumosudil</text>
<circle cx="469.8" cy="309.8" r="1.56" fill="none" stroke="#1b2f55" stroke-width="0.8"/>
<text x="474.1" y="312.0" font-size="7.2" text-anchor="start" font-weight="normal" fill="#222" >Ibrutinib</text>
<line x1="42.5" y1="425.2" x2="42.5" y2="529.7" stroke="#1a1a1a" stroke-width="1"/>
<line x1="39.8" y1="529.7" x2="155.8" y2="529.7" stroke="#222" stroke-width="1.25"/>
<line x1="39.9" y1="529.7" x2="42.5" y2="529.7" stroke="#1a1a1a" stroke-width="0.9"/>
<text x="36.8" y="532.25" font-size="7.3" text-anchor="end" font-weight="normal" fill="#222" >0.0</text>
<line x1="39.9" y1="504.2" x2="42.5" y2="504.2" stroke="#1a1a1a" stroke-width="0.9"/>
<text x="36.8" y="506.77500000000003" font-size="7.3" text-anchor="end" font-weight="normal" fill="#222" >0.5</text>
<line x1="39.9" y1="478.8" x2="42.5" y2="478.8" stroke="#1a1a1a" stroke-width="0.9"/>
<text x="36.8" y="481.30000000000007" font-size="7.3" text-anchor="end" font-weight="normal" fill="#222" >1.0</text>
<line x1="39.9" y1="453.3" x2="42.5" y2="453.3" stroke="#1a1a1a" stroke-width="0.9"/>
<text x="36.8" y="455.82500000000005" font-size="7.3" text-anchor="end" font-weight="normal" fill="#222" >1.5</text>
<line x1="39.9" y1="427.8" x2="42.5" y2="427.8" stroke="#1a1a1a" stroke-width="0.9"/>
<text x="36.8" y="430.3500000000001" font-size="7.3" text-anchor="end" font-weight="normal" fill="#222" >2.0</text>
<line x1="53.6" y1="529.7" x2="53.6" y2="532.5" stroke="#1a1a1a" stroke-width="0.9"/>
<line x1="76.2" y1="529.7" x2="76.2" y2="532.5" stroke="#1a1a1a" stroke-width="0.9"/>
<line x1="99.2" y1="529.7" x2="99.2" y2="532.5" stroke="#1a1a1a" stroke-width="0.9"/>
<line x1="121.8" y1="529.7" x2="121.8" y2="532.5" stroke="#1a1a1a" stroke-width="0.9"/>
<line x1="144.4" y1="529.7" x2="144.4" y2="532.5" stroke="#1a1a1a" stroke-width="0.9"/>
<text x="0" y="0" font-size="7.8" text-anchor="middle" fill="#222" textLength="84.2" lengthAdjust="spacingAndGlyphs" transform="translate(20.9,477.5) rotate(-90)">Skin thickness (x fold change)</text>
<line x1="53.6" y1="476.0" x2="53.6" y2="481.8" stroke="#24487c" stroke-width="0.9"/>
<line x1="50.6" y1="476.0" x2="56.6" y2="476.0" stroke="#24487c" stroke-width="0.9"/>
<line x1="50.6" y1="481.8" x2="56.6" y2="481.8" stroke="#24487c" stroke-width="0.9"/>
<circle cx="53.6" cy="473.8" r="1.44" fill="#16335f"/>
<circle cx="53.6" cy="484.6" r="1.44" fill="#16335f"/>
<circle cx="49.1" cy="479.0" r="1.44" fill="#16335f"/>
<circle cx="58.1" cy="479.5" r="1.44" fill="#16335f"/>
<circle cx="51.6" cy="477.0" r="1.44" fill="#16335f"/>
<circle cx="55.6" cy="477.5" r="1.44" fill="#16335f"/>
<circle cx="53.6" cy="481.0" r="1.44" fill="#16335f"/>
<line x1="47.4" y1="478.9" x2="59.800000000000004" y2="478.9" stroke="#3d6fa8" stroke-width="0.9"/>
<line x1="76.2" y1="440.5" x2="76.2" y2="448.0" stroke="#24487c" stroke-width="0.9"/>
<line x1="73.2" y1="440.5" x2="79.2" y2="440.5" stroke="#24487c" stroke-width="0.9"/>
<line x1="73.2" y1="448.0" x2="79.2" y2="448.0" stroke="#24487c" stroke-width="0.9"/>
<rect x="74.9" y="436.0" width="2.64" height="2.64" fill="#16335f"/>
<rect x="71.9" y="439.2" width="2.64" height="2.64" fill="#16335f"/>
<rect x="78.4" y="439.7" width="2.64" height="2.64" fill="#16335f"/>
<rect x="70.4" y="442.7" width="2.64" height="2.64" fill="#16335f"/>
<rect x="78.9" y="443.7" width="2.64" height="2.64" fill="#16335f"/>
<rect x="72.9" y="446.2" width="2.64" height="2.64" fill="#16335f"/>
<rect x="76.9" y="446.7" width="2.64" height="2.64" fill="#16335f"/>
<rect x="73.4" y="448.7" width="2.64" height="2.64" fill="#16335f"/>
<line x1="70.0" y1="444.2" x2="82.4" y2="444.2" stroke="#3d6fa8" stroke-width="0.9"/>
<line x1="99.2" y1="462.5" x2="99.2" y2="467.5" stroke="#24487c" stroke-width="0.9"/>
<line x1="96.2" y1="462.5" x2="102.2" y2="462.5" stroke="#24487c" stroke-width="0.9"/>
<line x1="96.2" y1="467.5" x2="102.2" y2="467.5" stroke="#24487c" stroke-width="0.9"/>
<path d="M95.2,460.8 L96.9,463.9 L93.5,463.9Z" fill="#16335f"/>
<path d="M103.2,460.8 L104.9,463.9 L101.5,463.9Z" fill="#16335f"/>
<path d="M99.2,463.3 L100.9,466.4 L97.5,466.4Z" fill="#16335f"/>
<path d="M96.7,465.8 L98.4,468.9 L95.0,468.9Z" fill="#16335f"/>
<path d="M101.7,465.8 L103.4,468.9 L100.0,468.9Z" fill="#16335f"/>
<path d="M94.7,464.3 L96.4,467.4 L93.0,467.4Z" fill="#16335f"/>
<path d="M103.7,464.3 L105.4,467.4 L102.0,467.4Z" fill="#16335f"/>
<line x1="93.0" y1="465.0" x2="105.4" y2="465.0" stroke="#3d6fa8" stroke-width="0.9"/>
<line x1="121.8" y1="462.5" x2="121.8" y2="470.0" stroke="#24487c" stroke-width="0.9"/>
<line x1="118.8" y1="462.5" x2="124.8" y2="462.5" stroke="#24487c" stroke-width="0.9"/>
<line x1="118.8" y1="470.0" x2="124.8" y2="470.0" stroke="#24487c" stroke-width="0.9"/>
<path d="M121.8,463.2 L123.5,460.1 L120.1,460.1Z" fill="#16335f"/>
<path d="M117.8,464.7 L119.5,461.6 L116.1,461.6Z" fill="#16335f"/>
<path d="M125.8,464.7 L127.5,461.6 L124.1,461.6Z" fill="#16335f"/>
<path d="M119.8,468.7 L121.5,465.6 L118.1,465.6Z" fill="#16335f"/>
<path d="M123.8,469.7 L125.5,466.6 L122.1,466.6Z" fill="#16335f"/>
<path d="M121.8,475.9 L123.5,472.8 L120.1,472.8Z" fill="#16335f"/>
<path d="M124.8,466.7 L126.5,463.6 L123.1,463.6Z" fill="#16335f"/>
<line x1="115.6" y1="466.2" x2="128.0" y2="466.2" stroke="#3d6fa8" stroke-width="0.9"/>
<line x1="144.4" y1="469.0" x2="144.4" y2="472.5" stroke="#24487c" stroke-width="0.9"/>
<line x1="141.4" y1="469.0" x2="147.4" y2="469.0" stroke="#24487c" stroke-width="0.9"/>
<line x1="141.4" y1="472.5" x2="147.4" y2="472.5" stroke="#24487c" stroke-width="0.9"/>
<path d="M144.4,465.4 L145.8,466.3 L145.8,468.1 L144.4,469.0 L143.0,468.1 L143.0,466.3Z" fill="#16335f"/>
<path d="M141.4,467.2 L142.8,468.1 L142.8,469.9 L141.4,470.8 L140.0,469.9 L140.0,468.1Z" fill="#16335f"/>
<path d="M147.4,467.2 L148.8,468.1 L148.8,469.9 L147.4,470.8 L146.0,469.9 L146.0,468.1Z" fill="#16335f"/>
<path d="M139.9,469.2 L141.3,470.1 L141.3,471.9 L139.9,472.8 L138.5,471.9 L138.5,470.1Z" fill="#16335f"/>
<path d="M148.9,469.2 L150.3,470.1 L150.3,471.9 L148.9,472.8 L147.5,471.9 L147.5,470.1Z" fill="#16335f"/>
<path d="M142.9,470.7 L144.3,471.6 L144.3,473.4 L142.9,474.3 L141.5,473.4 L141.5,471.6Z" fill="#16335f"/>
<path d="M145.9,470.7 L147.3,471.6 L147.3,473.4 L145.9,474.3 L144.5,473.4 L144.5,471.6Z" fill="#16335f"/>
<line x1="138.20000000000002" y1="470.8" x2="150.6" y2="470.8" stroke="#3d6fa8" stroke-width="0.9"/>
<line x1="76.2" y1="416.5" x2="146.2" y2="416.5" stroke="#5a5a5a" stroke-width="1"/><circle cx="108.2" cy="412.5" r="0.85" fill="#2a2a2a"/><circle cx="111.2" cy="412.5" r="0.85" fill="#2a2a2a"/><circle cx="114.2" cy="412.5" r="0.85" fill="#2a2a2a"/>
<line x1="76.2" y1="425.3" x2="121.2" y2="425.3" stroke="#5a5a5a" stroke-width="1"/><circle cx="95.7" cy="421.3" r="0.85" fill="#2a2a2a"/><circle cx="98.7" cy="421.3" r="0.85" fill="#2a2a2a"/><circle cx="101.7" cy="421.3" r="0.85" fill="#2a2a2a"/>
<line x1="76.2" y1="433.2" x2="95.8" y2="433.2" stroke="#5a5a5a" stroke-width="1"/><circle cx="83.0" cy="429.2" r="0.85" fill="#2a2a2a"/><circle cx="86.0" cy="429.2" r="0.85" fill="#2a2a2a"/><circle cx="89.0" cy="429.2" r="0.85" fill="#2a2a2a"/>
<line x1="101.2" y1="450.7" x2="144.3" y2="450.7" stroke="#5a5a5a" stroke-width="1"/><circle cx="121.2" cy="446.7" r="0.85" fill="#2a2a2a"/><circle cx="124.2" cy="446.7" r="0.85" fill="#2a2a2a"/>
<line x1="123.1" y1="458.5" x2="144.3" y2="458.5" stroke="#5a5a5a" stroke-width="1"/><circle cx="133.7" cy="454.5" r="0.85" fill="#2a2a2a"/>
<line x1="199.5" y1="425.2" x2="199.5" y2="529.7" stroke="#1a1a1a" stroke-width="1"/>
<line x1="196.8" y1="529.7" x2="312.5" y2="529.7" stroke="#222" stroke-width="1.25"/>
<line x1="196.9" y1="529.7" x2="199.5" y2="529.7" stroke="#1a1a1a" stroke-width="0.9"/>
<text x="193.8" y="532.25" font-size="7.3" text-anchor="end" font-weight="normal" fill="#222" >0.0</text>
<line x1="196.9" y1="509.4" x2="199.5" y2="509.4" stroke="#1a1a1a" stroke-width="0.9"/>
<text x="193.8" y="511.9100000000001" font-size="7.3" text-anchor="end" font-weight="normal" fill="#222" >0.5</text>
<line x1="196.9" y1="489.0" x2="199.5" y2="489.0" stroke="#1a1a1a" stroke-width="0.9"/>
<text x="193.8" y="491.57000000000005" font-size="7.3" text-anchor="end" font-weight="normal" fill="#222" >1.0</text>
<line x1="196.9" y1="468.7" x2="199.5" y2="468.7" stroke="#1a1a1a" stroke-width="0.9"/>
<text x="193.8" y="471.2300000000001" font-size="7.3" text-anchor="end" font-weight="normal" fill="#222" >1.5</text>
<line x1="196.9" y1="448.3" x2="199.5" y2="448.3" stroke="#1a1a1a" stroke-width="0.9"/>
<text x="193.8" y="450.89000000000004" font-size="7.3" text-anchor="end" font-weight="normal" fill="#222" >2.0</text>
<line x1="196.9" y1="428.0" x2="199.5" y2="428.0" stroke="#1a1a1a" stroke-width="0.9"/>
<text x="193.8" y="430.55000000000007" font-size="7.3" text-anchor="end" font-weight="normal" fill="#222" >2.5</text>
<line x1="210.7" y1="529.7" x2="210.7" y2="532.5" stroke="#1a1a1a" stroke-width="0.9"/>
<line x1="233.8" y1="529.7" x2="233.8" y2="532.5" stroke="#1a1a1a" stroke-width="0.9"/>
<line x1="256.2" y1="529.7" x2="256.2" y2="532.5" stroke="#1a1a1a" stroke-width="0.9"/>
<line x1="278.6" y1="529.7" x2="278.6" y2="532.5" stroke="#1a1a1a" stroke-width="0.9"/>
<line x1="301.2" y1="529.7" x2="301.2" y2="532.5" stroke="#1a1a1a" stroke-width="0.9"/>
<text x="0" y="0" font-size="7.8" text-anchor="middle" fill="#222" textLength="92.7" lengthAdjust="spacingAndGlyphs" transform="translate(177.6,477.5) rotate(-90)">HP concentration (x fold change)</text>
<line x1="210.7" y1="485.5" x2="210.7" y2="492.5" stroke="#24487c" stroke-width="0.9"/>
<line x1="207.7" y1="485.5" x2="213.7" y2="485.5" stroke="#24487c" stroke-width="0.9"/>
<line x1="207.7" y1="492.5" x2="213.7" y2="492.5" stroke="#24487c" stroke-width="0.9"/>
<circle cx="208.2" cy="482.3" r="1.44" fill="#16335f"/>
<circle cx="213.2" cy="482.3" r="1.44" fill="#16335f"/>
<circle cx="207.7" cy="486.0" r="1.44" fill="#16335f"/>
<circle cx="213.7" cy="487.0" r="1.44" fill="#16335f"/>
<circle cx="210.7" cy="489.0" r="1.44" fill="#16335f"/>
<circle cx="208.2" cy="492.0" r="1.44" fill="#16335f"/>
<circle cx="213.2" cy="493.9" r="1.44" fill="#16335f"/>
<circle cx="210.7" cy="491.0" r="1.44" fill="#16335f"/>
<line x1="204.5" y1="489.2" x2="216.89999999999998" y2="489.2" stroke="#3d6fa8" stroke-width="0.9"/>
<line x1="233.8" y1="440.8" x2="233.8" y2="458.1" stroke="#24487c" stroke-width="0.9"/>
<line x1="230.8" y1="440.8" x2="236.8" y2="440.8" stroke="#24487c" stroke-width="0.9"/>
<line x1="230.8" y1="458.1" x2="236.8" y2="458.1" stroke="#24487c" stroke-width="0.9"/>
<rect x="230.0" y="434.9" width="2.64" height="2.64" fill="#16335f"/>
<rect x="235.0" y="434.9" width="2.64" height="2.64" fill="#16335f"/>
<rect x="232.5" y="443.7" width="2.64" height="2.64" fill="#16335f"/>
<rect x="229.0" y="454.7" width="2.64" height="2.64" fill="#16335f"/>
<rect x="236.0" y="453.7" width="2.64" height="2.64" fill="#16335f"/>
<rect x="232.5" y="456.7" width="2.64" height="2.64" fill="#16335f"/>
<rect x="231.0" y="458.6" width="2.64" height="2.64" fill="#16335f"/>
<rect x="234.0" y="451.7" width="2.64" height="2.64" fill="#16335f"/>
<line x1="227.60000000000002" y1="448.8" x2="240.0" y2="448.8" stroke="#3d6fa8" stroke-width="0.9"/>
<line x1="256.2" y1="469.2" x2="256.2" y2="478.4" stroke="#24487c" stroke-width="0.9"/>
<line x1="253.2" y1="469.2" x2="259.2" y2="469.2" stroke="#24487c" stroke-width="0.9"/>
<line x1="253.2" y1="478.4" x2="259.2" y2="478.4" stroke="#24487c" stroke-width="0.9"/>
<path d="M256.2,463.3 L257.9,466.4 L254.5,466.4Z" fill="#16335f"/>
<path d="M252.2,470.8 L253.9,473.9 L250.5,473.9Z" fill="#16335f"/>
<path d="M260.2,470.8 L261.9,473.9 L258.5,473.9Z" fill="#16335f"/>
<path d="M254.2,475.3 L255.9,478.4 L252.5,478.4Z" fill="#16335f"/>
<path d="M258.2,476.7 L259.9,479.8 L256.5,479.8Z" fill="#16335f"/>
<path d="M256.2,479.5 L257.9,482.6 L254.5,482.6Z" fill="#16335f"/>
<line x1="250.0" y1="474.2" x2="262.4" y2="474.2" stroke="#3d6fa8" stroke-width="0.9"/>
<line x1="278.6" y1="470.8" x2="278.6" y2="477.0" stroke="#24487c" stroke-width="0.9"/>
<line x1="275.6" y1="470.8" x2="281.6" y2="470.8" stroke="#24487c" stroke-width="0.9"/>
<line x1="275.6" y1="477.0" x2="281.6" y2="477.0" stroke="#24487c" stroke-width="0.9"/>
<path d="M276.1,470.9 L277.8,467.8 L274.4,467.8Z" fill="#16335f"/>
<path d="M281.1,470.9 L282.8,467.8 L279.4,467.8Z" fill="#16335f"/>
<path d="M274.6,474.2 L276.3,471.1 L272.9,471.1Z" fill="#16335f"/>
<path d="M282.6,474.2 L284.3,471.1 L280.9,471.1Z" fill="#16335f"/>
<path d="M278.6,475.7 L280.3,472.6 L276.9,472.6Z" fill="#16335f"/>
<path d="M278.6,483.3 L280.3,480.2 L276.9,480.2Z" fill="#16335f"/>
<line x1="272.40000000000003" y1="473.8" x2="284.8" y2="473.8" stroke="#3d6fa8" stroke-width="0.9"/>
<line x1="301.2" y1="476.5" x2="301.2" y2="485.3" stroke="#24487c" stroke-width="0.9"/>
<line x1="298.2" y1="476.5" x2="304.2" y2="476.5" stroke="#24487c" stroke-width="0.9"/>
<line x1="298.2" y1="485.3" x2="304.2" y2="485.3" stroke="#24487c" stroke-width="0.9"/>
<path d="M297.7,472.9 L299.1,473.8 L299.1,475.6 L297.7,476.5 L296.3,475.6 L296.3,473.8Z" fill="#16335f"/>
<path d="M304.7,472.9 L306.1,473.8 L306.1,475.6 L304.7,476.5 L303.3,475.6 L303.3,473.8Z" fill="#16335f"/>
<path d="M301.2,476.2 L302.6,477.1 L302.6,478.9 L301.2,479.8 L299.8,478.9 L299.8,477.1Z" fill="#16335f"/>
<path d="M297.2,479.2 L298.6,480.1 L298.6,481.9 L297.2,482.8 L295.8,481.9 L295.8,480.1Z" fill="#16335f"/>
<path d="M305.2,479.2 L306.6,480.1 L306.6,481.9 L305.2,482.8 L303.8,481.9 L303.8,480.1Z" fill="#16335f"/>
<path d="M298.7,483.5 L300.1,484.4 L300.1,486.2 L298.7,487.1 L297.3,486.2 L297.3,484.4Z" fill="#16335f"/>
<path d="M303.7,483.5 L305.1,484.4 L305.1,486.2 L303.7,487.1 L302.3,486.2 L302.3,484.4Z" fill="#16335f"/>
<path d="M301.2,486.3 L302.6,487.2 L302.6,489.0 L301.2,489.9 L299.8,489.0 L299.8,487.2Z" fill="#16335f"/>
<line x1="295.0" y1="480.7" x2="307.4" y2="480.7" stroke="#3d6fa8" stroke-width="0.9"/>
<line x1="233.1" y1="416.5" x2="302.3" y2="416.5" stroke="#5a5a5a" stroke-width="1"/><circle cx="264.7" cy="412.5" r="0.85" fill="#2a2a2a"/><circle cx="267.7" cy="412.5" r="0.85" fill="#2a2a2a"/><circle cx="270.7" cy="412.5" r="0.85" fill="#2a2a2a"/>
<line x1="233.1" y1="425.3" x2="276.9" y2="425.3" stroke="#5a5a5a" stroke-width="1"/><circle cx="252.0" cy="421.3" r="0.85" fill="#2a2a2a"/><circle cx="255.0" cy="421.3" r="0.85" fill="#2a2a2a"/><circle cx="258.0" cy="421.3" r="0.85" fill="#2a2a2a"/>
<line x1="233.1" y1="433.2" x2="252.7" y2="433.2" stroke="#5a5a5a" stroke-width="1"/><circle cx="239.9" cy="429.2" r="0.85" fill="#2a2a2a"/><circle cx="242.9" cy="429.2" r="0.85" fill="#2a2a2a"/><circle cx="245.9" cy="429.2" r="0.85" fill="#2a2a2a"/>
<line x1="257.8" y1="454.6" x2="301.6" y2="454.6" stroke="#5a5a5a" stroke-width="1"/><circle cx="279.7" cy="450.6" r="0.85" fill="#2a2a2a"/>
<line x1="280.4" y1="462.2" x2="301.6" y2="462.2" stroke="#5a5a5a" stroke-width="1"/><circle cx="291.0" cy="458.2" r="0.85" fill="#2a2a2a"/>
<line x1="350.5" y1="425.2" x2="350.5" y2="529.7" stroke="#1a1a1a" stroke-width="1"/>
<line x1="347.8" y1="529.7" x2="463.5" y2="529.7" stroke="#222" stroke-width="1.25"/>
<line x1="347.9" y1="529.7" x2="350.5" y2="529.7" stroke="#1a1a1a" stroke-width="0.9"/>
<text x="344.0" y="532.25" font-size="7.3" text-anchor="end" font-weight="normal" fill="#222" >0</text>
<line x1="347.9" y1="495.7" x2="350.5" y2="495.7" stroke="#1a1a1a" stroke-width="0.9"/>
<text x="344.0" y="498.25000000000006" font-size="7.3" text-anchor="end" font-weight="normal" fill="#222" >1</text>
<line x1="347.9" y1="461.7" x2="350.5" y2="461.7" stroke="#1a1a1a" stroke-width="0.9"/>
<text x="344.0" y="464.25000000000006" font-size="7.3" text-anchor="end" font-weight="normal" fill="#222" >2</text>
<line x1="347.9" y1="427.7" x2="350.5" y2="427.7" stroke="#1a1a1a" stroke-width="0.9"/>
<text x="344.0" y="430.25000000000006" font-size="7.3" text-anchor="end" font-weight="normal" fill="#222" >3</text>
<line x1="360.9" y1="529.7" x2="360.9" y2="532.5" stroke="#1a1a1a" stroke-width="0.9"/>
<line x1="383.8" y1="529.7" x2="383.8" y2="532.5" stroke="#1a1a1a" stroke-width="0.9"/>
<line x1="406.8" y1="529.7" x2="406.8" y2="532.5" stroke="#1a1a1a" stroke-width="0.9"/>
<line x1="428.8" y1="529.7" x2="428.8" y2="532.5" stroke="#1a1a1a" stroke-width="0.9"/>
<line x1="451.2" y1="529.7" x2="451.2" y2="532.5" stroke="#1a1a1a" stroke-width="0.9"/>
<text x="0" y="0" font-size="7.8" text-anchor="middle" fill="#222" textLength="104.1" lengthAdjust="spacingAndGlyphs" transform="translate(334.6,477.0) rotate(-90)">Myofibroblast number (x fold change)</text>
<line x1="360.9" y1="487.0" x2="360.9" y2="504.2" stroke="#24487c" stroke-width="0.9"/>
<line x1="357.9" y1="487.0" x2="363.9" y2="487.0" stroke="#24487c" stroke-width="0.9"/>
<line x1="357.9" y1="504.2" x2="363.9" y2="504.2" stroke="#24487c" stroke-width="0.9"/>
<circle cx="358.4" cy="485.8" r="1.44" fill="#16335f"/>
<circle cx="363.4" cy="486.5" r="1.44" fill="#16335f"/>
<circle cx="363.9" cy="489.0" r="1.44" fill="#16335f"/>
<circle cx="358.9" cy="492.0" r="1.44" fill="#16335f"/>
<circle cx="360.9" cy="495.0" r="1.44" fill="#16335f"/>
<circle cx="363.9" cy="498.0" r="1.44" fill="#16335f"/>
<circle cx="357.9" cy="507.7" r="1.44" fill="#16335f"/>
<circle cx="363.4" cy="507.7" r="1.44" fill="#16335f"/>
<line x1="354.7" y1="496.2" x2="367.09999999999997" y2="496.2" stroke="#3d6fa8" stroke-width="0.9"/>
<line x1="383.8" y1="441.9" x2="383.8" y2="471.5" stroke="#24487c" stroke-width="0.9"/>
<line x1="380.8" y1="441.9" x2="386.8" y2="441.9" stroke="#24487c" stroke-width="0.9"/>
<line x1="380.8" y1="471.5" x2="386.8" y2="471.5" stroke="#24487c" stroke-width="0.9"/>
<rect x="384.5" y="436.0" width="2.64" height="2.64" fill="#16335f"/>
<rect x="380.0" y="440.6" width="2.64" height="2.64" fill="#16335f"/>
<rect x="380.0" y="447.7" width="2.64" height="2.64" fill="#16335f"/>
<rect x="385.0" y="447.7" width="2.64" height="2.64" fill="#16335f"/>
<rect x="382.5" y="456.7" width="2.64" height="2.64" fill="#16335f"/>
<rect x="380.0" y="465.7" width="2.64" height="2.64" fill="#16335f"/>
<rect x="384.5" y="469.7" width="2.64" height="2.64" fill="#16335f"/>
<rect x="379.5" y="475.2" width="2.64" height="2.64" fill="#16335f"/>
<line x1="377.6" y1="456.9" x2="390.0" y2="456.9" stroke="#3d6fa8" stroke-width="0.9"/>
<line x1="406.8" y1="468.5" x2="406.8" y2="487.6" stroke="#24487c" stroke-width="0.9"/>
<line x1="403.8" y1="468.5" x2="409.8" y2="468.5" stroke="#24487c" stroke-width="0.9"/>
<line x1="403.8" y1="487.6" x2="409.8" y2="487.6" stroke="#24487c" stroke-width="0.9"/>
<path d="M406.8,455.9 L408.5,459.0 L405.1,459.0Z" fill="#16335f"/>
<path d="M402.8,477.1 L404.5,480.2 L401.1,480.2Z" fill="#16335f"/>
<path d="M405.5,477.1 L407.2,480.2 L403.8,480.2Z" fill="#16335f"/>
<path d="M408.1,477.1 L409.8,480.2 L406.4,480.2Z" fill="#16335f"/>
<path d="M410.8,477.1 L412.5,480.2 L409.1,480.2Z" fill="#16335f"/>
<path d="M404.3,485.9 L406.0,489.0 L402.6,489.0Z" fill="#16335f"/>
<path d="M409.3,485.9 L411.0,489.0 L407.6,489.0Z" fill="#16335f"/>
<line x1="400.6" y1="478.8" x2="413.0" y2="478.8" stroke="#3d6fa8" stroke-width="0.9"/>
<line x1="428.8" y1="470.1" x2="428.8" y2="485.8" stroke="#24487c" stroke-width="0.9"/>
<line x1="425.8" y1="470.1" x2="431.8" y2="470.1" stroke="#24487c" stroke-width="0.9"/>
<line x1="425.8" y1="485.8" x2="431.8" y2="485.8" stroke="#24487c" stroke-width="0.9"/>
<path d="M428.8,467.2 L430.5,464.1 L427.1,464.1Z" fill="#16335f"/>
<path d="M425.8,472.2 L427.5,469.1 L424.1,469.1Z" fill="#16335f"/>
<path d="M431.8,472.2 L433.5,469.1 L430.1,469.1Z" fill="#16335f"/>
<path d="M428.8,479.7 L430.5,476.6 L427.1,476.6Z" fill="#16335f"/>
<path d="M425.8,487.7 L427.5,484.6 L424.1,484.6Z" fill="#16335f"/>
<path d="M431.8,487.7 L433.5,484.6 L430.1,484.6Z" fill="#16335f"/>
<path d="M428.8,489.3 L430.5,486.2 L427.1,486.2Z" fill="#16335f"/>
<line x1="422.6" y1="478.4" x2="435.0" y2="478.4" stroke="#3d6fa8" stroke-width="0.9"/>
<line x1="451.2" y1="483.0" x2="451.2" y2="495.5" stroke="#24487c" stroke-width="0.9"/>
<line x1="448.2" y1="483.0" x2="454.2" y2="483.0" stroke="#24487c" stroke-width="0.9"/>
<line x1="448.2" y1="495.5" x2="454.2" y2="495.5" stroke="#24487c" stroke-width="0.9"/>
<path d="M451.2,474.3 L452.6,475.2 L452.6,477.0 L451.2,477.9 L449.8,477.0 L449.8,475.2Z" fill="#16335f"/>
<path d="M448.2,483.2 L449.6,484.1 L449.6,485.9 L448.2,486.8 L446.8,485.9 L446.8,484.1Z" fill="#16335f"/>
<path d="M454.2,483.2 L455.6,484.1 L455.6,485.9 L454.2,486.8 L452.8,485.9 L452.8,484.1Z" fill="#16335f"/>
<path d="M446.7,487.7 L448.1,488.6 L448.1,490.4 L446.7,491.3 L445.3,490.4 L445.3,488.6Z" fill="#16335f"/>
<path d="M455.7,487.7 L457.1,488.6 L457.1,490.4 L455.7,491.3 L454.3,490.4 L454.3,488.6Z" fill="#16335f"/>
<path d="M449.2,491.2 L450.6,492.1 L450.6,493.9 L449.2,494.8 L447.8,493.9 L447.8,492.1Z" fill="#16335f"/>
<path d="M453.2,493.7 L454.6,494.6 L454.6,496.4 L453.2,497.3 L451.8,496.4 L451.8,494.6Z" fill="#16335f"/>
<path d="M451.2,499.0 L452.6,499.9 L452.6,501.7 L451.2,502.6 L449.8,501.7 L449.8,499.9Z" fill="#16335f"/>
<line x1="445.0" y1="490.4" x2="457.4" y2="490.4" stroke="#3d6fa8" stroke-width="0.9"/>
<line x1="383.8" y1="416.5" x2="452.3" y2="416.5" stroke="#5a5a5a" stroke-width="1"/><circle cx="415.1" cy="412.5" r="0.85" fill="#2a2a2a"/><circle cx="418.1" cy="412.5" r="0.85" fill="#2a2a2a"/><circle cx="421.1" cy="412.5" r="0.85" fill="#2a2a2a"/>
<line x1="383.8" y1="425.3" x2="427.6" y2="425.3" stroke="#5a5a5a" stroke-width="1"/><circle cx="402.7" cy="421.3" r="0.85" fill="#2a2a2a"/><circle cx="405.7" cy="421.3" r="0.85" fill="#2a2a2a"/><circle cx="408.7" cy="421.3" r="0.85" fill="#2a2a2a"/>
<line x1="383.8" y1="433.2" x2="402.7" y2="433.2" stroke="#5a5a5a" stroke-width="1"/><circle cx="390.2" cy="429.2" r="0.85" fill="#2a2a2a"/><circle cx="393.2" cy="429.2" r="0.85" fill="#2a2a2a"/><circle cx="396.2" cy="429.2" r="0.85" fill="#2a2a2a"/>
<line x1="407.8" y1="453.9" x2="451.2" y2="453.9" stroke="#5a5a5a" stroke-width="1"/><circle cx="429.5" cy="449.9" r="0.85" fill="#2a2a2a"/>
<line x1="430.4" y1="461.5" x2="451.2" y2="461.5" stroke="#5a5a5a" stroke-width="1"/><circle cx="439.3" cy="457.5" r="0.85" fill="#2a2a2a"/><circle cx="442.3" cy="457.5" r="0.85" fill="#2a2a2a"/>
<circle cx="462.1" cy="430.5" r="1.62" fill="#1b2f55"/>
<text x="466.9" y="432.7" font-size="7.2" text-anchor="start" font-weight="normal" fill="#222" >Syngeneic</text>
<rect x="460.6" y="437.2" width="2.99" height="2.99" fill="#1b2f55"/>
<text x="466.9" y="440.9" font-size="7.2" text-anchor="start" font-weight="normal" fill="#222" >Allogeneic</text>
<path d="M462.1,445.0 L464.1,448.5 L460.2,448.5Z" fill="#1b2f55"/>
<text x="466.9" y="449.1" font-size="7.2" text-anchor="start" font-weight="normal" fill="#222" >Wnt-C59</text>
<path d="M462.1,457.1 L464.1,453.5 L460.2,453.5Z" fill="#1b2f55"/>
<text x="466.9" y="457.3" font-size="7.2" text-anchor="start" font-weight="normal" fill="#222" >Belumosudil</text>
<path d="M462.1,461.3 L463.7,462.3 L463.7,464.3 L462.1,465.3 L460.5,464.3 L460.5,462.3Z" fill="#1b2f55"/>
<text x="466.9" y="465.5" font-size="7.2" text-anchor="start" font-weight="normal" fill="#222" >Belumosudil+</text>
<text x="466.9" y="473.8" font-size="7.2" text-anchor="start" font-weight="normal" fill="#222" >Wnt-C59</text>
<rect x="0.5" y="0.5" width="519" height="539" fill="none" stroke="#5e5e5e" stroke-width="1"/>
<rect x="1.5" y="1.5" width="517" height="537" fill="none" stroke="#d4d4d4" stroke-width="1"/>
</svg>
</body></html>
